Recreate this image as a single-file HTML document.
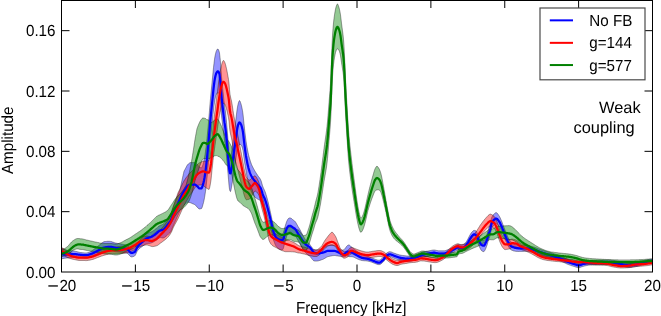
<!DOCTYPE html>
<html><head><meta charset="utf-8"><title>Amplitude vs Frequency</title>
<style>
html,body{margin:0;padding:0;background:#fff;}
body{width:661px;height:316px;overflow:hidden;}
svg{display:block;font-family:"Liberation Sans",Arial,Helvetica,sans-serif;font-size:15.2px;fill:#000;text-rendering:geometricPrecision;}
</style></head><body>
<svg width="661" height="316" viewBox="0 0 661 316">
<rect x="0" y="0" width="661" height="316" fill="#fff"/>
<defs><clipPath id="ax"><rect x="61.5" y="0.5" width="591.0" height="271.5"/></clipPath></defs>
<g clip-path="url(#ax)">
<polygon points="61.5,247.4 62.0,248.2 62.5,248.7 63.0,248.9 63.5,249.2 64.0,249.4 64.5,249.5 65.0,249.7 65.5,249.8 66.0,249.9 66.5,250.0 67.0,250.2 67.5,250.3 68.0,250.4 68.5,250.5 69.0,250.5 69.5,250.5 70.0,250.6 70.5,250.6 71.0,250.7 71.5,250.7 72.0,250.7 72.5,250.8 73.0,250.8 73.5,250.9 74.0,251.0 74.5,251.0 75.0,251.2 75.5,251.3 76.0,251.4 76.5,251.5 77.0,251.6 77.5,251.8 78.0,251.9 78.5,252.0 79.0,252.2 79.5,252.3 80.0,252.4 80.5,252.5 81.0,252.5 81.5,252.6 82.0,252.6 82.5,252.7 83.0,252.7 83.5,252.8 84.0,252.8 84.5,252.9 85.0,252.9 85.5,252.9 86.0,252.9 86.5,252.9 87.0,252.8 87.5,252.7 88.0,252.6 88.5,252.5 89.0,252.3 89.5,252.2 90.0,252.0 90.5,251.7 91.0,251.3 91.5,251.0 92.0,250.7 92.5,250.4 93.0,250.0 93.5,249.7 94.0,249.3 94.5,248.9 95.0,248.5 95.5,248.1 96.0,247.6 96.5,247.3 97.0,246.9 97.5,246.5 98.0,246.1 98.5,245.7 99.0,245.3 99.5,244.9 100.0,244.5 100.5,244.1 101.0,243.7 101.5,243.3 102.0,242.9 102.5,242.5 103.0,242.2 103.5,241.9 104.0,241.6 104.5,241.6 105.0,241.5 105.5,241.5 106.0,241.4 106.5,241.4 107.0,241.3 107.5,241.3 108.0,241.3 108.5,241.3 109.0,241.3 109.5,241.3 110.0,241.4 110.5,241.4 111.0,241.5 111.5,241.6 112.0,241.8 112.5,242.0 113.0,242.1 113.5,242.3 114.0,242.5 114.5,242.7 115.0,242.8 115.5,243.0 116.0,243.1 116.5,243.2 117.0,243.3 117.5,243.4 118.0,243.5 118.5,243.5 119.0,243.6 119.5,243.7 120.0,243.8 120.5,243.8 121.0,243.9 121.5,244.0 122.0,244.1 122.5,244.2 123.0,244.3 123.5,244.4 124.0,244.5 124.5,244.6 125.0,244.7 125.5,244.8 126.0,244.9 126.5,245.0 127.0,245.1 127.5,245.4 128.0,245.8 128.5,246.4 129.0,247.0 129.5,247.5 130.0,248.1 130.5,248.5 131.0,248.8 131.5,248.9 132.0,248.9 132.5,248.8 133.0,248.7 133.5,248.5 134.0,248.3 134.5,248.1 135.0,247.6 135.5,246.8 136.0,245.8 136.5,244.7 137.0,243.6 137.5,242.8 138.0,242.2 138.5,241.6 139.0,241.0 139.5,240.5 140.0,240.0 140.5,239.5 141.0,239.0 141.5,238.5 142.0,238.0 142.5,237.5 143.0,237.0 143.5,236.4 144.0,235.9 144.5,235.4 145.0,234.9 145.5,234.5 146.0,234.1 146.5,233.8 147.0,233.5 147.5,233.3 148.0,233.1 148.5,232.9 149.0,232.7 149.5,232.5 150.0,232.3 150.5,232.2 151.0,232.0 151.5,231.8 152.0,231.5 152.5,231.2 153.0,230.9 153.5,230.6 154.0,230.2 154.5,229.9 155.0,229.5 155.5,229.1 156.0,228.8 156.5,228.3 157.0,227.9 157.5,227.4 158.0,226.9 158.5,226.5 159.0,226.1 159.5,225.8 160.0,225.6 160.5,225.3 161.0,225.1 161.5,224.9 162.0,224.7 162.5,224.5 163.0,224.2 163.5,223.8 164.0,223.4 164.5,222.8 165.0,222.1 165.5,221.4 166.0,220.8 166.5,220.0 167.0,219.3 167.5,218.5 168.0,217.7 168.5,216.9 169.0,216.2 169.5,215.5 170.0,214.8 170.5,214.0 171.0,212.9 171.5,211.6 172.0,210.2 172.5,208.8 173.0,207.5 173.5,206.2 174.0,205.0 174.5,203.7 175.0,202.5 175.5,201.2 176.0,200.0 176.5,198.7 177.0,197.4 177.5,196.2 178.0,194.9 178.5,193.6 179.0,192.4 179.5,191.1 180.0,189.9 180.5,187.4 181.0,185.0 181.5,182.5 182.0,180.2 182.5,177.9 183.0,175.6 183.5,173.4 184.0,171.2 184.5,170.3 185.0,169.4 185.5,168.4 186.0,167.5 186.5,166.5 187.0,165.6 187.5,164.8 188.0,164.3 188.5,163.8 189.0,163.4 189.5,163.0 190.0,162.7 190.5,162.6 191.0,162.6 191.5,162.6 192.0,162.6 192.5,162.6 193.0,162.6 193.5,162.6 194.0,162.6 194.5,162.6 195.0,162.6 195.5,162.8 196.0,163.2 196.5,163.6 197.0,164.1 197.5,164.7 198.0,165.4 198.5,166.2 199.0,166.9 199.5,167.2 200.0,167.4 200.5,167.6 201.0,167.7 201.5,167.8 202.0,167.2 202.5,165.9 203.0,164.4 203.5,162.6 204.0,160.4 204.5,157.8 205.0,154.8 205.5,151.4 206.0,147.4 206.5,143.0 207.0,138.2 207.5,133.0 208.0,127.7 208.5,122.1 209.0,116.3 209.5,110.2 210.0,104.1 210.5,98.4 211.0,93.0 211.5,88.0 212.0,82.9 212.5,77.9 213.0,72.5 213.5,67.5 214.0,63.2 214.5,59.3 215.0,56.2 215.5,53.9 216.0,51.9 216.5,50.7 217.0,49.7 217.5,49.0 218.0,49.0 218.5,49.8 219.0,51.0 219.5,53.0 220.0,57.3 220.5,62.5 221.0,69.3 221.5,76.2 222.0,81.6 222.5,86.5 223.0,91.3 223.5,96.1 224.0,100.8 224.5,105.0 225.0,108.4 225.5,112.0 226.0,116.5 226.5,121.9 227.0,127.6 227.5,133.5 228.0,139.7 228.5,145.7 229.0,152.0 229.5,156.0 230.0,158.2 230.5,158.1 231.0,155.9 231.5,152.5 232.0,148.9 232.5,145.4 233.0,141.7 233.5,137.7 234.0,133.7 234.5,129.8 235.0,126.0 235.5,122.1 236.0,118.2 236.5,114.1 237.0,110.1 237.5,107.0 238.0,104.4 238.5,102.6 239.0,101.3 239.5,100.5 240.0,101.1 240.5,102.4 241.0,103.9 241.5,105.8 242.0,108.1 242.5,110.7 243.0,114.1 243.5,118.8 244.0,123.8 244.5,128.6 245.0,132.9 245.5,137.1 246.0,141.0 246.5,144.2 247.0,147.1 247.5,149.7 248.0,152.2 248.5,154.5 249.0,156.5 249.5,158.3 250.0,160.0 250.5,161.6 251.0,163.0 251.5,164.4 252.0,165.6 252.5,166.6 253.0,167.6 253.5,168.6 254.0,169.4 254.5,170.3 255.0,171.2 255.5,172.0 256.0,172.8 256.5,173.6 257.0,174.3 257.5,175.1 258.0,175.9 258.5,176.6 259.0,177.2 259.5,177.8 260.0,178.6 260.5,179.4 261.0,180.6 261.5,182.1 262.0,183.9 262.5,185.6 263.0,187.0 263.5,188.2 264.0,189.2 264.5,190.3 265.0,191.5 265.5,192.8 266.0,194.4 266.5,196.1 267.0,197.8 267.5,199.7 268.0,201.5 268.5,203.6 269.0,205.8 269.5,208.0 270.0,210.3 270.5,212.5 271.0,214.8 271.5,217.2 272.0,219.7 272.5,221.9 273.0,224.0 273.5,225.7 274.0,227.1 274.5,228.3 275.0,229.5 275.5,230.5 276.0,231.3 276.5,231.9 277.0,232.3 277.5,232.7 278.0,233.0 278.5,233.3 279.0,233.6 279.5,233.8 280.0,233.9 280.5,233.9 281.0,233.9 281.5,233.9 282.0,233.9 282.5,233.8 283.0,233.5 283.5,232.3 284.0,230.5 284.5,228.6 285.0,226.7 285.5,225.1 286.0,223.5 286.5,221.9 287.0,220.8 287.5,219.8 288.0,219.0 288.5,218.4 289.0,218.1 289.5,217.9 290.0,217.9 290.5,218.0 291.0,218.2 291.5,218.5 292.0,219.0 292.5,219.5 293.0,219.9 293.5,220.2 294.0,220.5 294.5,220.9 295.0,221.4 295.5,222.0 296.0,222.8 296.5,223.7 297.0,224.6 297.5,225.5 298.0,226.4 298.5,227.2 299.0,228.0 299.5,228.8 300.0,229.7 300.5,230.7 301.0,231.7 301.5,232.7 302.0,233.6 302.5,234.6 303.0,235.5 303.5,236.4 304.0,237.3 304.5,238.2 305.0,239.1 305.5,239.8 306.0,240.4 306.5,241.0 307.0,241.6 307.5,242.1 308.0,242.6 308.5,243.0 309.0,243.5 309.5,244.1 310.0,244.7 310.5,245.4 311.0,246.2 311.5,246.8 312.0,247.5 312.5,248.2 313.0,248.8 313.5,249.3 314.0,249.6 314.5,249.7 315.0,249.8 315.5,249.9 316.0,250.0 316.5,250.0 317.0,250.0 317.5,250.0 318.0,249.9 318.5,249.8 319.0,249.6 319.5,249.4 320.0,249.3 320.5,249.1 321.0,248.9 321.5,248.6 322.0,248.4 322.5,248.2 323.0,248.0 323.5,247.7 324.0,247.5 324.5,247.2 325.0,246.8 325.5,246.5 326.0,246.1 326.5,245.8 327.0,245.5 327.5,245.3 328.0,245.2 328.5,245.1 329.0,245.0 329.5,245.0 330.0,244.9 330.5,244.8 331.0,244.7 331.5,244.7 332.0,244.6 332.5,244.8 333.0,244.9 333.5,245.1 334.0,245.2 334.5,245.4 335.0,245.7 335.5,246.0 336.0,246.3 336.5,246.7 337.0,247.0 337.5,247.4 338.0,247.8 338.5,248.1 339.0,248.4 339.5,248.8 340.0,249.2 340.5,249.6 341.0,249.9 341.5,250.0 342.0,250.1 342.5,250.1 343.0,250.1 343.5,249.9 344.0,249.7 344.5,249.2 345.0,248.5 345.5,247.9 346.0,247.2 346.5,246.5 347.0,246.0 347.5,245.5 348.0,245.2 348.5,245.0 349.0,244.8 349.5,245.2 350.0,245.6 350.5,246.0 351.0,246.5 351.5,246.9 352.0,247.4 352.5,247.9 353.0,248.4 353.5,248.7 354.0,249.0 354.5,249.4 355.0,249.8 355.5,250.2 356.0,250.6 356.5,250.9 357.0,251.3 357.5,251.6 358.0,251.9 358.5,252.3 359.0,252.6 359.5,253.0 360.0,253.3 360.5,253.6 361.0,253.8 361.5,254.1 362.0,254.3 362.5,254.5 363.0,254.7 363.5,254.8 364.0,255.0 364.5,255.1 365.0,255.3 365.5,255.4 366.0,255.6 366.5,255.7 367.0,255.9 367.5,256.1 368.0,256.3 368.5,256.5 369.0,256.7 369.5,257.0 370.0,257.2 370.5,257.5 371.0,257.8 371.5,257.9 372.0,258.1 372.5,258.3 373.0,258.4 373.5,258.6 374.0,258.8 374.5,259.0 375.0,259.2 375.5,259.4 376.0,259.6 376.5,259.7 377.0,259.9 377.5,260.0 378.0,260.1 378.5,260.2 379.0,260.2 379.5,260.1 380.0,260.0 380.5,259.7 381.0,259.3 381.5,258.9 382.0,258.5 382.5,258.0 383.0,257.5 383.5,257.1 384.0,256.4 384.5,255.7 385.0,255.0 385.5,254.3 386.0,253.7 386.5,253.3 387.0,252.9 387.5,252.5 388.0,252.2 388.5,252.0 389.0,251.8 389.5,251.7 390.0,251.7 390.5,251.8 391.0,251.9 391.5,252.0 392.0,252.2 392.5,252.4 393.0,252.7 393.5,252.9 394.0,253.1 394.5,253.3 395.0,253.5 395.5,253.6 396.0,253.8 396.5,254.0 397.0,254.1 397.5,254.3 398.0,254.5 398.5,254.6 399.0,254.8 399.5,254.9 400.0,255.0 400.5,255.1 401.0,255.2 401.5,255.3 402.0,255.4 402.5,255.4 403.0,255.5 403.5,255.6 404.0,255.6 404.5,255.7 405.0,255.8 405.5,255.8 406.0,255.9 406.5,255.9 407.0,256.0 407.5,256.0 408.0,256.0 408.5,256.1 409.0,256.1 409.5,256.1 410.0,256.1 410.5,256.0 411.0,255.9 411.5,255.8 412.0,255.7 412.5,255.5 413.0,255.3 413.5,255.2 414.0,255.0 414.5,254.9 415.0,254.7 415.5,254.6 416.0,254.4 416.5,254.2 417.0,254.1 417.5,253.9 418.0,253.7 418.5,253.6 419.0,253.4 419.5,253.2 420.0,253.1 420.5,252.9 421.0,252.7 421.5,252.5 422.0,252.3 422.5,252.1 423.0,252.0 423.5,251.8 424.0,251.7 424.5,251.6 425.0,251.5 425.5,251.4 426.0,251.3 426.5,251.2 427.0,251.1 427.5,251.1 428.0,251.0 428.5,250.9 429.0,250.8 429.5,250.7 430.0,250.7 430.5,250.5 431.0,250.4 431.5,250.3 432.0,250.2 432.5,250.1 433.0,250.1 433.5,250.0 434.0,250.0 434.5,250.0 435.0,250.1 435.5,250.2 436.0,250.3 436.5,250.4 437.0,250.5 437.5,250.6 438.0,250.7 438.5,250.8 439.0,250.8 439.5,250.8 440.0,250.8 440.5,250.8 441.0,250.8 441.5,250.8 442.0,250.8 442.5,250.8 443.0,250.8 443.5,250.8 444.0,250.8 444.5,250.8 445.0,250.7 445.5,250.6 446.0,250.4 446.5,250.2 447.0,250.0 447.5,249.8 448.0,249.6 448.5,249.4 449.0,249.2 449.5,248.9 450.0,248.7 450.5,248.5 451.0,248.2 451.5,248.0 452.0,247.7 452.5,247.4 453.0,247.2 453.5,246.9 454.0,246.6 454.5,246.4 455.0,246.0 455.5,245.7 456.0,245.4 456.5,245.1 457.0,244.8 457.5,244.7 458.0,244.6 458.5,244.6 459.0,244.7 459.5,244.7 460.0,244.8 460.5,244.8 461.0,244.9 461.5,244.9 462.0,244.8 462.5,244.8 463.0,244.6 463.5,244.4 464.0,244.0 464.5,243.6 465.0,243.2 465.5,242.8 466.0,242.2 466.5,241.4 467.0,240.6 467.5,239.7 468.0,238.8 468.5,237.8 469.0,236.8 469.5,235.8 470.0,234.9 470.5,234.1 471.0,233.3 471.5,232.6 472.0,232.0 472.5,231.5 473.0,231.0 473.5,230.6 474.0,230.4 474.5,230.4 475.0,230.6 475.5,230.7 476.0,230.9 476.5,231.6 477.0,232.6 477.5,233.5 478.0,234.4 478.5,235.5 479.0,236.5 479.5,237.3 480.0,238.2 480.5,239.0 481.0,239.7 481.5,240.2 482.0,240.4 482.5,240.5 483.0,240.6 483.5,240.6 484.0,240.6 484.5,240.0 485.0,239.1 485.5,238.1 486.0,237.0 486.5,235.6 487.0,234.2 487.5,232.6 488.0,230.7 488.5,229.0 489.0,227.6 489.5,226.4 490.0,225.1 490.5,222.7 491.0,219.9 491.5,218.1 492.0,216.9 492.5,216.0 493.0,215.2 493.5,214.6 494.0,214.1 494.5,213.6 495.0,213.2 495.5,212.8 496.0,212.6 496.5,212.7 497.0,213.0 497.5,213.6 498.0,214.2 498.5,214.9 499.0,215.7 499.5,216.5 500.0,217.4 500.5,218.5 501.0,219.7 501.5,220.9 502.0,222.1 502.5,223.4 503.0,224.7 503.5,226.1 504.0,227.4 504.5,228.7 505.0,230.1 505.5,231.4 506.0,232.7 506.5,233.9 507.0,235.1 507.5,236.2 508.0,237.3 508.5,238.3 509.0,239.1 509.5,240.0 510.0,240.7 510.5,241.4 511.0,241.9 511.5,242.3 512.0,242.7 512.5,243.0 513.0,243.3 513.5,243.5 514.0,243.8 514.5,244.0 515.0,244.2 515.5,244.3 516.0,244.5 516.5,244.6 517.0,244.8 517.5,244.9 518.0,245.0 518.5,245.1 519.0,245.2 519.5,245.3 520.0,245.4 520.5,245.4 521.0,245.4 521.5,245.4 522.0,245.4 522.5,245.4 523.0,245.4 523.5,245.4 524.0,245.5 524.5,245.5 525.0,245.5 525.5,245.5 526.0,245.5 526.5,245.5 527.0,245.5 527.5,245.6 528.0,245.6 528.5,245.7 529.0,245.8 529.5,245.9 530.0,246.0 530.5,246.2 531.0,246.3 531.5,246.4 532.0,246.5 532.5,246.7 533.0,246.8 533.5,246.9 534.0,247.1 534.5,247.2 535.0,247.4 535.5,247.6 536.0,247.8 536.5,247.9 537.0,248.1 537.5,248.3 538.0,248.5 538.5,248.7 539.0,248.9 539.5,249.1 540.0,249.2 540.5,249.4 541.0,249.6 541.5,249.8 542.0,249.9 542.5,250.1 543.0,250.3 543.5,250.4 544.0,250.6 544.5,250.8 545.0,250.9 545.5,251.1 546.0,251.2 546.5,251.4 547.0,251.6 547.5,251.7 548.0,251.9 548.5,252.0 549.0,252.2 549.5,252.3 550.0,252.5 550.5,252.6 551.0,252.8 551.5,252.9 552.0,253.1 552.5,253.2 553.0,253.4 553.5,253.6 554.0,253.7 554.5,253.9 555.0,254.1 555.5,254.2 556.0,254.4 556.5,254.6 557.0,254.7 557.5,254.9 558.0,255.1 558.5,255.3 559.0,255.5 559.5,255.7 560.0,255.9 560.5,256.1 561.0,256.3 561.5,256.5 562.0,256.7 562.5,256.9 563.0,257.1 563.5,257.4 564.0,257.6 564.5,257.9 565.0,258.1 565.5,258.4 566.0,258.6 566.5,258.8 567.0,259.1 567.5,259.3 568.0,259.5 568.5,259.7 569.0,259.9 569.5,260.1 570.0,260.2 570.5,260.4 571.0,260.6 571.5,260.8 572.0,261.0 572.5,261.1 573.0,261.3 573.5,261.4 574.0,261.6 574.5,261.8 575.0,261.9 575.5,262.1 576.0,262.3 576.5,262.5 577.0,262.6 577.5,262.8 578.0,262.9 578.5,262.9 579.0,262.9 579.5,262.8 580.0,262.7 580.5,262.6 581.0,262.4 581.5,262.2 582.0,262.0 582.5,261.8 583.0,261.6 583.5,261.5 584.0,261.4 584.5,261.3 585.0,261.2 585.5,261.1 586.0,261.0 586.5,260.9 587.0,260.8 587.5,260.7 588.0,260.6 588.5,260.5 589.0,260.4 589.5,260.4 590.0,260.3 590.5,260.3 591.0,260.3 591.5,260.3 592.0,260.3 592.5,260.3 593.0,260.3 593.5,260.3 594.0,260.3 594.5,260.3 595.0,260.3 595.5,260.3 596.0,260.3 596.5,260.2 597.0,260.2 597.5,260.2 598.0,260.2 598.5,260.2 599.0,260.2 599.5,260.2 600.0,260.2 600.5,260.2 601.0,260.1 601.5,260.1 602.0,260.1 602.5,260.1 603.0,260.0 603.5,260.0 604.0,260.0 604.5,260.0 605.0,260.0 605.5,259.9 606.0,259.9 606.5,260.0 607.0,260.0 607.5,260.0 608.0,260.0 608.5,260.0 609.0,260.1 609.5,260.1 610.0,260.1 610.5,260.2 611.0,260.2 611.5,260.3 612.0,260.3 612.5,260.4 613.0,260.4 613.5,260.5 614.0,260.5 614.5,260.6 615.0,260.7 615.5,260.8 616.0,260.8 616.5,260.9 617.0,261.0 617.5,261.1 618.0,261.2 618.5,261.3 619.0,261.4 619.5,261.5 620.0,261.6 620.5,261.7 621.0,261.8 621.5,261.9 622.0,262.0 622.5,262.1 623.0,262.2 623.5,262.3 624.0,262.5 624.5,262.6 625.0,262.7 625.5,262.8 626.0,262.9 626.5,263.0 627.0,263.1 627.5,263.1 628.0,263.1 628.5,263.2 629.0,263.2 629.5,263.2 630.0,263.1 630.5,263.1 631.0,263.1 631.5,263.0 632.0,263.0 632.5,262.9 633.0,262.9 633.5,262.8 634.0,262.7 634.5,262.7 635.0,262.6 635.5,262.5 636.0,262.4 636.5,262.4 637.0,262.3 637.5,262.2 638.0,262.1 638.5,261.9 639.0,261.8 639.5,261.6 640.0,261.5 640.5,261.4 641.0,261.2 641.5,261.1 642.0,260.9 642.5,260.8 643.0,260.6 643.5,260.5 644.0,260.4 644.5,260.3 645.0,260.2 645.5,260.1 646.0,260.0 646.5,259.9 647.0,259.8 647.5,259.7 648.0,259.6 648.5,259.5 649.0,259.4 649.5,259.3 650.0,259.2 650.5,259.1 651.0,259.0 651.5,259.0 652.0,258.9 652.5,258.8 652.5,262.8 652.0,262.9 651.5,263.0 651.0,263.1 650.5,263.1 650.0,263.2 649.5,263.3 649.0,263.4 648.5,263.5 648.0,263.6 647.5,263.7 647.0,263.8 646.5,263.9 646.0,264.0 645.5,264.2 645.0,264.3 644.5,264.4 644.0,264.5 643.5,264.6 643.0,264.7 642.5,264.9 642.0,265.0 641.5,265.2 641.0,265.3 640.5,265.5 640.0,265.6 639.5,265.8 639.0,265.9 638.5,266.1 638.0,266.2 637.5,266.3 637.0,266.4 636.5,266.5 636.0,266.6 635.5,266.7 635.0,266.8 634.5,266.9 634.0,266.9 633.5,267.0 633.0,267.1 632.5,267.1 632.0,267.2 631.5,267.3 631.0,267.3 630.5,267.3 630.0,267.4 629.5,267.4 629.0,267.4 628.5,267.4 628.0,267.4 627.5,267.4 627.0,267.3 626.5,267.3 626.0,267.2 625.5,267.1 625.0,267.0 624.5,266.9 624.0,266.8 623.5,266.7 623.0,266.6 622.5,266.4 622.0,266.3 621.5,266.2 621.0,266.2 620.5,266.1 620.0,266.0 619.5,265.9 619.0,265.8 618.5,265.7 618.0,265.6 617.5,265.5 617.0,265.4 616.5,265.3 616.0,265.2 615.5,265.2 615.0,265.1 614.5,265.0 614.0,265.0 613.5,264.9 613.0,264.9 612.5,264.8 612.0,264.8 611.5,264.7 611.0,264.7 610.5,264.6 610.0,264.6 609.5,264.6 609.0,264.5 608.5,264.5 608.0,264.5 607.5,264.5 607.0,264.5 606.5,264.5 606.0,264.5 605.5,264.5 605.0,264.5 604.5,264.5 604.0,264.5 603.5,264.5 603.0,264.6 602.5,264.6 602.0,264.6 601.5,264.7 601.0,264.7 600.5,264.7 600.0,264.8 599.5,264.8 599.0,264.8 598.5,264.8 598.0,264.8 597.5,264.8 597.0,264.8 596.5,264.9 596.0,264.9 595.5,264.9 595.0,264.9 594.5,264.9 594.0,264.9 593.5,264.9 593.0,264.9 592.5,264.9 592.0,264.9 591.5,265.0 591.0,265.0 590.5,265.0 590.0,265.0 589.5,265.1 589.0,265.1 588.5,265.2 588.0,265.3 587.5,265.4 587.0,265.5 586.5,265.6 586.0,265.7 585.5,265.8 585.0,265.9 584.5,266.0 584.0,266.2 583.5,266.3 583.0,266.4 582.5,266.6 582.0,266.7 581.5,266.9 581.0,267.1 580.5,267.3 580.0,267.5 579.5,267.6 579.0,267.7 578.5,267.7 578.0,267.7 577.5,267.6 577.0,267.5 576.5,267.3 576.0,267.1 575.5,267.0 575.0,266.8 574.5,266.6 574.0,266.5 573.5,266.3 573.0,266.1 572.5,266.0 572.0,265.8 571.5,265.7 571.0,265.5 570.5,265.3 570.0,265.1 569.5,265.0 569.0,264.8 568.5,264.6 568.0,264.4 567.5,264.2 567.0,264.0 566.5,263.8 566.0,263.5 565.5,263.3 565.0,263.1 564.5,262.8 564.0,262.6 563.5,262.3 563.0,262.1 562.5,261.9 562.0,261.7 561.5,261.4 561.0,261.2 560.5,261.1 560.0,260.9 559.5,260.7 559.0,260.5 558.5,260.3 558.0,260.2 557.5,260.0 557.0,259.8 556.5,259.7 556.0,259.5 555.5,259.3 555.0,259.2 554.5,259.0 554.0,258.9 553.5,258.7 553.0,258.6 552.5,258.4 552.0,258.3 551.5,258.1 551.0,258.0 550.5,257.9 550.0,257.7 549.5,257.6 549.0,257.4 548.5,257.3 548.0,257.2 547.5,257.0 547.0,256.9 546.5,256.7 546.0,256.6 545.5,256.4 545.0,256.3 544.5,256.1 544.0,256.0 543.5,255.8 543.0,255.7 542.5,255.5 542.0,255.4 541.5,255.2 541.0,255.1 540.5,254.9 540.0,254.7 539.5,254.6 539.0,254.4 538.5,254.3 538.0,254.1 537.5,253.9 537.0,253.7 536.5,253.5 536.0,253.4 535.5,253.2 535.0,253.0 534.5,252.9 534.0,252.7 533.5,252.6 533.0,252.5 532.5,252.3 532.0,252.2 531.5,252.1 531.0,252.0 530.5,251.9 530.0,251.8 529.5,251.7 529.0,251.6 528.5,251.5 528.0,251.4 527.5,251.4 527.0,251.3 526.5,251.3 526.0,251.3 525.5,251.3 525.0,251.3 524.5,251.3 524.0,251.3 523.5,251.4 523.0,251.4 522.5,251.4 522.0,251.4 521.5,251.4 521.0,251.4 520.5,251.4 520.0,251.4 519.5,251.4 519.0,251.4 518.5,251.5 518.0,251.4 517.5,251.4 517.0,251.4 516.5,251.4 516.0,251.3 515.5,251.3 515.0,251.2 514.5,251.1 514.0,251.0 513.5,250.9 513.0,250.7 512.5,250.5 512.0,250.3 511.5,250.1 511.0,249.8 510.5,249.4 510.0,248.8 509.5,248.1 509.0,247.4 508.5,246.7 508.0,245.8 507.5,244.8 507.0,243.8 506.5,242.7 506.0,241.6 505.5,240.5 505.0,239.2 504.5,238.0 504.0,236.7 503.5,235.5 503.0,234.2 502.5,233.0 502.0,231.8 501.5,230.7 501.0,229.6 500.5,228.6 500.0,227.6 499.5,226.8 499.0,226.1 498.5,225.4 498.0,224.8 497.5,224.2 497.0,223.8 496.5,223.6 496.0,223.6 495.5,223.8 495.0,224.2 494.5,224.6 494.0,225.1 493.5,225.6 493.0,226.2 492.5,227.0 492.0,227.9 491.5,229.1 491.0,230.9 490.5,233.7 490.0,236.1 489.5,237.4 489.0,238.6 488.5,240.0 488.0,241.7 487.5,243.6 487.0,245.2 486.5,246.6 486.0,248.0 485.5,249.1 485.0,250.1 484.5,251.0 484.0,251.6 483.5,251.6 483.0,251.6 482.5,251.3 482.0,251.0 481.5,250.6 481.0,249.9 480.5,249.0 480.0,248.0 479.5,247.0 479.0,246.0 478.5,244.8 478.0,243.6 477.5,242.4 477.0,241.3 476.5,240.2 476.0,239.3 475.5,238.9 475.0,238.6 474.5,238.4 474.0,238.4 473.5,238.6 473.0,239.0 472.5,239.5 472.0,240.0 471.5,240.6 471.0,241.3 470.5,242.1 470.0,242.9 469.5,243.6 469.0,244.5 468.5,245.4 468.0,246.2 467.5,247.0 467.0,247.8 466.5,248.5 466.0,249.2 465.5,249.6 465.0,249.9 464.5,250.2 464.0,250.5 463.5,250.7 463.0,250.8 462.5,250.8 462.0,250.8 461.5,250.6 461.0,250.5 460.5,250.4 460.0,250.2 459.5,250.1 459.0,250.1 458.5,250.0 458.0,250.0 457.5,250.1 457.0,250.2 456.5,250.5 456.0,250.8 455.5,251.1 455.0,251.4 454.5,251.8 454.0,252.0 453.5,252.3 453.0,252.6 452.5,252.8 452.0,253.1 451.5,253.4 451.0,253.6 450.5,253.9 450.0,254.1 449.5,254.3 449.0,254.6 448.5,254.8 448.0,255.0 447.5,255.2 447.0,255.4 446.5,255.6 446.0,255.8 445.5,256.0 445.0,256.1 444.5,256.2 444.0,256.2 443.5,256.2 443.0,256.2 442.5,256.2 442.0,256.2 441.5,256.2 441.0,256.2 440.5,256.2 440.0,256.2 439.5,256.2 439.0,256.2 438.5,256.2 438.0,256.1 437.5,256.0 437.0,255.9 436.5,255.8 436.0,255.7 435.5,255.6 435.0,255.5 434.5,255.4 434.0,255.4 433.5,255.4 433.0,255.5 432.5,255.5 432.0,255.6 431.5,255.7 431.0,255.8 430.5,255.9 430.0,256.1 429.5,256.1 429.0,256.2 428.5,256.3 428.0,256.4 427.5,256.5 427.0,256.5 426.5,256.6 426.0,256.7 425.5,256.8 425.0,256.9 424.5,257.0 424.0,257.1 423.5,257.2 423.0,257.4 422.5,257.5 422.0,257.7 421.5,257.9 421.0,258.1 420.5,258.3 420.0,258.5 419.5,258.6 419.0,258.8 418.5,259.0 418.0,259.1 417.5,259.3 417.0,259.5 416.5,259.6 416.0,259.8 415.5,260.0 415.0,260.1 414.5,260.3 414.0,260.4 413.5,260.6 413.0,260.7 412.5,260.9 412.0,261.1 411.5,261.2 411.0,261.3 410.5,261.4 410.0,261.5 409.5,261.5 409.0,261.5 408.5,261.5 408.0,261.4 407.5,261.4 407.0,261.4 406.5,261.3 406.0,261.3 405.5,261.2 405.0,261.2 404.5,261.1 404.0,261.0 403.5,261.0 403.0,260.9 402.5,260.8 402.0,260.8 401.5,260.7 401.0,260.6 400.5,260.5 400.0,260.4 399.5,260.3 399.0,260.1 398.5,260.0 398.0,259.8 397.5,259.6 397.0,259.4 396.5,259.2 396.0,259.0 395.5,258.8 395.0,258.6 394.5,258.4 394.0,258.2 393.5,258.0 393.0,257.8 392.5,257.5 392.0,257.3 391.5,257.1 391.0,256.9 390.5,256.7 390.0,256.7 389.5,256.6 389.0,256.7 388.5,256.9 388.0,257.1 387.5,257.4 387.0,257.7 386.5,258.0 386.0,258.5 385.5,259.0 385.0,259.7 384.5,260.4 384.0,261.1 383.5,261.7 383.0,262.2 382.5,262.6 382.0,263.1 381.5,263.5 381.0,263.9 380.5,264.2 380.0,264.5 379.5,264.6 379.0,264.7 378.5,264.6 378.0,264.6 377.5,264.4 377.0,264.3 376.5,264.1 376.0,263.9 375.5,263.7 375.0,263.5 374.5,263.3 374.0,263.1 373.5,262.9 373.0,262.7 372.5,262.5 372.0,262.3 371.5,262.1 371.0,262.0 370.5,261.8 370.0,261.6 369.5,261.5 369.0,261.4 368.5,261.3 368.0,261.1 367.5,261.1 367.0,261.0 366.5,260.9 366.0,260.9 365.5,260.8 365.0,260.8 364.5,260.8 364.0,260.7 363.5,260.7 363.0,260.6 362.5,260.6 362.0,260.5 361.5,260.4 361.0,260.3 360.5,260.1 360.0,260.0 359.5,259.8 359.0,259.6 358.5,259.4 358.0,259.2 357.5,259.0 357.0,258.7 356.5,258.5 356.0,258.3 355.5,258.1 355.0,257.8 354.5,257.5 354.0,257.3 353.5,257.1 353.0,256.9 352.5,256.8 352.0,256.8 351.5,256.7 351.0,256.7 350.5,256.7 350.0,256.7 349.5,256.7 349.0,256.8 348.5,256.5 348.0,256.2 347.5,256.0 347.0,256.0 346.5,256.0 346.0,256.2 345.5,256.4 345.0,256.5 344.5,256.7 344.0,256.7 343.5,256.9 343.0,256.9 342.5,256.9 342.0,256.8 341.5,256.7 341.0,256.5 340.5,256.4 340.0,256.3 339.5,256.2 339.0,256.2 338.5,256.1 338.0,256.0 337.5,255.9 337.0,255.9 336.5,255.8 336.0,255.7 335.5,255.6 335.0,255.5 334.5,255.5 334.0,255.5 333.5,255.6 333.0,255.7 332.5,255.7 332.0,255.8 331.5,255.9 331.0,256.0 330.5,256.1 330.0,256.2 329.5,256.3 329.0,256.4 328.5,256.5 328.0,256.6 327.5,256.8 327.0,257.0 326.5,257.3 326.0,257.6 325.5,257.9 325.0,258.2 324.5,258.5 324.0,258.8 323.5,259.1 323.0,259.3 322.5,259.5 322.0,259.6 321.5,259.8 321.0,260.0 320.5,260.2 320.0,260.4 319.5,260.5 319.0,260.7 318.5,260.8 318.0,260.9 317.5,261.0 317.0,261.1 316.5,261.1 316.0,261.1 315.5,261.1 315.0,261.0 314.5,261.0 314.0,260.9 313.5,260.6 313.0,260.2 312.5,259.6 312.0,259.0 311.5,258.3 311.0,257.7 310.5,257.0 310.0,256.4 309.5,256.0 309.0,255.5 308.5,255.2 308.0,254.8 307.5,254.4 307.0,254.1 306.5,253.7 306.0,253.2 305.5,252.7 305.0,252.1 304.5,251.3 304.0,250.5 303.5,249.7 303.0,248.9 302.5,248.1 302.0,247.2 301.5,246.4 301.0,245.5 300.5,244.6 300.0,243.7 299.5,242.8 299.0,242.0 298.5,241.2 298.0,240.4 297.5,239.5 297.0,238.6 296.5,237.7 296.0,236.8 295.5,236.0 295.0,235.4 294.5,234.9 294.0,234.5 293.5,234.2 293.0,233.9 292.5,233.5 292.0,233.0 291.5,232.5 291.0,232.2 290.5,232.0 290.0,231.9 289.5,232.1 289.0,232.3 288.5,232.7 288.0,233.5 287.5,234.5 287.0,235.5 286.5,236.8 286.0,238.5 285.5,240.3 285.0,242.0 284.5,243.9 284.0,246.0 283.5,247.9 283.0,249.2 282.5,249.7 282.0,249.9 281.5,249.8 281.0,249.7 280.5,249.6 280.0,249.5 279.5,249.3 279.0,249.0 278.5,248.6 278.0,248.2 277.5,247.8 277.0,247.3 276.5,246.8 276.0,246.1 275.5,245.2 275.0,244.1 274.5,242.8 274.0,241.5 273.5,240.0 273.0,238.2 272.5,236.0 272.0,233.7 271.5,231.5 271.0,229.3 270.5,227.3 270.0,225.3 269.5,223.3 269.0,221.3 268.5,219.4 268.0,217.5 267.5,216.0 267.0,214.5 266.5,213.1 266.0,211.7 265.5,210.5 265.0,209.5 264.5,208.6 264.0,207.9 263.5,207.2 263.0,206.3 262.5,205.2 262.0,203.9 261.5,202.5 261.0,201.4 260.5,200.7 260.0,200.3 259.5,200.0 259.0,199.8 258.5,199.6 258.0,199.3 257.5,199.0 257.0,198.6 256.5,198.3 256.0,197.9 255.5,197.6 255.0,197.2 254.5,196.5 254.0,195.9 253.5,195.2 253.0,194.5 252.5,193.8 252.0,192.9 251.5,191.9 251.0,190.8 250.5,189.6 250.0,188.2 249.5,186.8 249.0,185.2 248.5,183.4 248.0,181.3 247.5,179.1 247.0,176.6 246.5,174.0 246.0,171.0 245.5,168.2 245.0,165.1 244.5,161.8 244.0,158.2 243.5,154.2 243.0,150.7 242.5,148.4 242.0,146.8 241.5,145.6 241.0,144.9 240.5,144.5 240.0,144.2 239.5,144.4 239.0,144.6 238.5,145.3 238.0,146.5 237.5,148.6 237.0,151.1 236.5,154.5 236.0,158.1 235.5,161.4 235.0,164.7 234.5,168.0 234.0,171.3 233.5,174.7 233.0,178.1 232.5,181.3 232.0,184.2 231.5,187.3 231.0,190.0 230.5,191.6 230.0,191.2 229.5,189.3 229.0,185.5 228.5,179.4 228.0,173.7 227.5,167.7 227.0,162.1 226.5,156.7 226.0,151.5 225.5,147.2 225.0,143.9 224.5,140.7 224.0,136.8 223.5,132.8 223.0,128.6 222.5,124.4 222.0,120.2 221.5,115.4 221.0,109.2 220.5,103.0 220.0,98.4 219.5,94.8 219.0,93.4 218.5,92.9 218.0,92.7 217.5,92.9 217.0,93.4 216.5,94.2 216.0,95.3 215.5,97.1 215.0,99.3 214.5,102.2 214.0,105.9 213.5,110.0 213.0,114.8 212.5,120.0 212.0,124.9 211.5,129.7 211.0,134.5 210.5,139.6 210.0,145.1 209.5,151.0 209.0,156.8 208.5,162.4 208.0,167.7 207.5,173.0 207.0,178.2 206.5,183.0 206.0,187.4 205.5,191.4 205.0,194.8 204.5,197.8 204.0,200.4 203.5,202.6 203.0,204.4 202.5,206.2 202.0,207.7 201.5,208.6 201.0,208.7 200.5,208.8 200.0,208.9 199.5,209.0 199.0,208.9 198.5,208.5 198.0,207.9 197.5,207.4 197.0,207.1 196.5,206.4 196.0,205.8 195.5,205.2 195.0,204.8 194.5,204.5 194.0,204.3 193.5,204.1 193.0,203.9 192.5,203.7 192.0,203.5 191.5,203.2 191.0,203.0 190.5,202.8 190.0,202.7 189.5,202.5 189.0,202.4 188.5,202.3 188.0,202.3 187.5,202.3 187.0,202.6 186.5,203.0 186.0,203.5 185.5,203.9 185.0,204.4 184.5,204.8 184.0,205.2 183.5,205.8 183.0,206.4 182.5,207.0 182.0,207.7 181.5,208.4 181.0,209.2 180.5,210.1 180.0,210.9 179.5,212.0 179.0,213.1 178.5,214.2 178.0,215.3 177.5,216.4 177.0,217.5 176.5,218.7 176.0,219.8 175.5,220.9 175.0,222.0 174.5,223.1 174.0,224.2 173.5,225.3 173.0,226.4 172.5,227.5 172.0,228.8 171.5,230.1 171.0,231.2 170.5,232.1 170.0,232.8 169.5,233.2 169.0,233.6 168.5,234.0 168.0,234.5 167.5,235.0 167.0,235.5 166.5,235.9 166.0,236.4 165.5,236.7 165.0,237.1 164.5,237.5 164.0,237.8 163.5,237.9 163.0,238.0 162.5,238.0 162.0,237.9 161.5,237.8 161.0,237.7 160.5,237.6 160.0,237.6 159.5,237.8 159.0,238.0 158.5,238.3 158.0,238.7 157.5,239.1 157.0,239.6 156.5,240.0 156.0,240.4 155.5,240.7 155.0,241.0 154.5,241.3 154.0,241.6 153.5,241.9 153.0,242.2 152.5,242.5 152.0,242.7 151.5,242.9 151.0,243.1 150.5,243.2 150.0,243.3 149.5,243.4 149.0,243.4 148.5,243.4 148.0,243.5 147.5,243.5 147.0,243.6 146.5,243.7 146.0,243.9 145.5,244.2 145.0,244.4 144.5,244.8 144.0,245.1 143.5,245.5 143.0,245.9 142.5,246.2 142.0,246.6 141.5,247.0 141.0,247.3 140.5,247.7 140.0,248.0 139.5,248.5 139.0,249.0 138.5,249.6 138.0,250.2 137.5,250.8 137.0,251.6 136.5,252.7 136.0,253.8 135.5,254.8 135.0,255.6 134.5,256.1 134.0,256.3 133.5,256.5 133.0,256.7 132.5,256.8 132.0,256.9 131.5,256.9 131.0,256.8 130.5,256.5 130.0,256.1 129.5,255.5 129.0,255.0 128.5,254.4 128.0,253.8 127.5,253.4 127.0,253.1 126.5,253.0 126.0,252.9 125.5,252.8 125.0,252.7 124.5,252.7 124.0,252.6 123.5,252.5 123.0,252.4 122.5,252.4 122.0,252.3 121.5,252.3 121.0,252.2 120.5,252.2 120.0,252.1 119.5,252.1 119.0,252.0 118.5,252.0 118.0,252.0 117.5,251.9 117.0,251.9 116.5,251.8 116.0,251.8 115.5,251.7 115.0,251.6 114.5,251.4 114.0,251.3 113.5,251.1 113.0,251.0 112.5,250.8 112.0,250.7 111.5,250.6 111.0,250.5 110.5,250.5 110.0,250.4 109.5,250.4 109.0,250.5 108.5,250.5 108.0,250.5 107.5,250.6 107.0,250.6 106.5,250.7 106.0,250.8 105.5,250.9 105.0,250.9 104.5,251.0 104.0,251.1 103.5,251.2 103.0,251.4 102.5,251.5 102.0,251.8 101.5,252.0 101.0,252.2 100.5,252.5 100.0,252.7 99.5,253.0 99.0,253.3 98.5,253.5 98.0,253.7 97.5,253.9 97.0,254.2 96.5,254.4 96.0,254.6 95.5,254.9 95.0,255.2 94.5,255.4 94.0,255.7 93.5,255.9 93.0,256.2 92.5,256.4 92.0,256.6 91.5,256.7 91.0,256.9 90.5,257.1 90.0,257.3 89.5,257.5 89.0,257.6 88.5,257.8 88.0,257.9 87.5,258.0 87.0,258.1 86.5,258.2 86.0,258.2 85.5,258.2 85.0,258.2 84.5,258.2 84.0,258.1 83.5,258.1 83.0,258.0 82.5,258.0 82.0,257.9 81.5,257.9 81.0,257.8 80.5,257.8 80.0,257.7 79.5,257.7 79.0,257.7 78.5,257.7 78.0,257.7 77.5,257.7 77.0,257.7 76.5,257.7 76.0,257.6 75.5,257.6 75.0,257.7 74.5,257.6 74.0,257.6 73.5,257.6 73.0,257.6 72.5,257.6 72.0,257.7 71.5,257.7 71.0,257.7 70.5,257.8 70.0,257.8 69.5,257.8 69.0,257.9 68.5,257.9 68.0,257.9 67.5,258.0 67.0,258.0 66.5,258.1 66.0,258.1 65.5,258.2 65.0,258.3 64.5,258.3 64.0,258.4 63.5,258.5 63.0,258.6 62.5,258.6 62.0,258.6 61.5,258.0" fill="#0000ff" fill-opacity="0.42" stroke="#000" stroke-opacity="0.4" stroke-width="0.9" stroke-linejoin="round"/>
<polygon points="61.5,247.6 62.0,247.8 62.5,248.1 63.0,248.3 63.5,248.6 64.0,248.9 64.5,249.3 65.0,249.6 65.5,249.9 66.0,250.2 66.5,250.5 67.0,250.8 67.5,251.1 68.0,251.3 68.5,251.6 69.0,251.8 69.5,252.1 70.0,252.3 70.5,252.5 71.0,252.7 71.5,252.9 72.0,253.1 72.5,253.3 73.0,253.5 73.5,253.6 74.0,253.7 74.5,253.9 75.0,254.0 75.5,254.1 76.0,254.2 76.5,254.3 77.0,254.4 77.5,254.5 78.0,254.6 78.5,254.6 79.0,254.7 79.5,254.7 80.0,254.7 80.5,254.7 81.0,254.7 81.5,254.7 82.0,254.7 82.5,254.7 83.0,254.7 83.5,254.7 84.0,254.7 84.5,254.7 85.0,254.7 85.5,254.7 86.0,254.7 86.5,254.7 87.0,254.6 87.5,254.6 88.0,254.5 88.5,254.4 89.0,254.3 89.5,254.2 90.0,254.1 90.5,254.0 91.0,253.9 91.5,253.8 92.0,253.7 92.5,253.5 93.0,253.4 93.5,253.2 94.0,253.0 94.5,252.8 95.0,252.6 95.5,252.4 96.0,252.2 96.5,252.0 97.0,251.8 97.5,251.5 98.0,251.3 98.5,251.1 99.0,250.9 99.5,250.7 100.0,250.5 100.5,250.3 101.0,250.1 101.5,249.9 102.0,249.7 102.5,249.5 103.0,249.3 103.5,249.1 104.0,249.0 104.5,248.8 105.0,248.6 105.5,248.5 106.0,248.3 106.5,248.2 107.0,248.0 107.5,247.9 108.0,247.7 108.5,247.6 109.0,247.5 109.5,247.4 110.0,247.3 110.5,247.3 111.0,247.2 111.5,247.2 112.0,247.1 112.5,247.1 113.0,247.0 113.5,247.0 114.0,246.9 114.5,246.9 115.0,246.9 115.5,246.8 116.0,246.8 116.5,246.8 117.0,246.7 117.5,246.7 118.0,246.6 118.5,246.6 119.0,246.6 119.5,246.5 120.0,246.5 120.5,246.4 121.0,246.4 121.5,246.3 122.0,246.3 122.5,246.2 123.0,246.1 123.5,246.0 124.0,245.9 124.5,245.8 125.0,245.7 125.5,245.5 126.0,245.4 126.5,245.2 127.0,245.1 127.5,244.9 128.0,244.7 128.5,244.6 129.0,244.4 129.5,244.2 130.0,243.9 130.5,243.7 131.0,243.4 131.5,243.2 132.0,242.9 132.5,242.6 133.0,242.3 133.5,242.0 134.0,241.7 134.5,241.4 135.0,241.1 135.5,240.8 136.0,240.4 136.5,240.1 137.0,239.7 137.5,239.3 138.0,238.9 138.5,238.6 139.0,238.3 139.5,238.0 140.0,237.7 140.5,237.5 141.0,237.3 141.5,237.1 142.0,237.0 142.5,236.8 143.0,236.6 143.5,236.5 144.0,236.4 144.5,236.2 145.0,236.1 145.5,236.1 146.0,236.0 146.5,236.0 147.0,236.0 147.5,236.1 148.0,236.2 148.5,236.4 149.0,236.5 149.5,236.7 150.0,236.8 150.5,236.9 151.0,236.9 151.5,236.8 152.0,236.7 152.5,236.6 153.0,236.4 153.5,236.1 154.0,235.8 154.5,235.5 155.0,235.2 155.5,234.9 156.0,234.6 156.5,234.2 157.0,233.8 157.5,233.4 158.0,232.8 158.5,232.3 159.0,231.7 159.5,231.1 160.0,230.5 160.5,229.8 161.0,229.2 161.5,228.6 162.0,228.0 162.5,227.4 163.0,226.8 163.5,226.2 164.0,225.6 164.5,224.9 165.0,224.3 165.5,223.6 166.0,223.0 166.5,222.3 167.0,221.6 167.5,220.9 168.0,220.1 168.5,219.3 169.0,218.4 169.5,217.5 170.0,216.5 170.5,215.2 171.0,213.8 171.5,212.4 172.0,210.8 172.5,209.1 173.0,207.3 173.5,205.7 174.0,204.2 174.5,202.7 175.0,201.3 175.5,199.9 176.0,198.5 176.5,197.1 177.0,195.7 177.5,194.2 178.0,192.8 178.5,191.8 179.0,190.8 179.5,189.8 180.0,188.9 180.5,187.9 181.0,186.9 181.5,185.8 182.0,184.8 182.5,183.7 183.0,182.7 183.5,181.8 184.0,180.9 184.5,180.1 185.0,179.4 185.5,178.6 186.0,177.8 186.5,177.2 187.0,176.6 187.5,176.0 188.0,175.3 188.5,174.5 189.0,173.8 189.5,173.3 190.0,172.8 190.5,172.4 191.0,172.0 191.5,171.6 192.0,171.1 192.5,170.5 193.0,169.9 193.5,169.3 194.0,168.7 194.5,168.1 195.0,167.6 195.5,166.8 196.0,166.0 196.5,165.3 197.0,164.7 197.5,164.2 198.0,163.8 198.5,163.4 199.0,163.1 199.5,162.8 200.0,162.5 200.5,162.3 201.0,162.0 201.5,161.8 202.0,161.6 202.5,161.4 203.0,161.3 203.5,161.2 204.0,161.1 204.5,161.2 205.0,161.3 205.5,161.3 206.0,161.3 206.5,161.2 207.0,161.1 207.5,160.9 208.0,160.8 208.5,160.7 209.0,160.5 209.5,158.8 210.0,156.1 210.5,152.7 211.0,149.0 211.5,143.8 212.0,137.9 212.5,132.9 213.0,127.9 213.5,123.0 214.0,118.6 214.5,114.5 215.0,110.6 215.5,106.5 216.0,102.5 216.5,98.7 217.0,95.1 217.5,91.4 218.0,87.1 218.5,82.9 219.0,79.3 219.5,76.1 220.0,73.1 220.5,70.2 221.0,67.5 221.5,65.3 222.0,63.2 222.5,61.8 223.0,60.9 223.5,60.3 224.0,60.9 224.5,61.8 225.0,62.9 225.5,64.5 226.0,66.5 226.5,68.7 227.0,71.1 227.5,73.8 228.0,76.5 228.5,79.4 229.0,83.2 229.5,89.7 230.0,94.3 230.5,96.9 231.0,99.0 231.5,101.1 232.0,103.8 232.5,107.0 233.0,110.4 233.5,113.6 234.0,116.5 234.5,119.2 235.0,121.8 235.5,124.1 236.0,126.2 236.5,128.4 237.0,130.7 237.5,133.3 238.0,136.1 238.5,138.7 239.0,141.3 239.5,143.8 240.0,146.3 240.5,148.9 241.0,151.5 241.5,154.1 242.0,156.8 242.5,159.5 243.0,162.3 243.5,165.2 244.0,168.0 244.5,170.4 245.0,172.6 245.5,174.6 246.0,176.2 246.5,177.3 247.0,178.0 247.5,178.7 248.0,179.4 248.5,179.8 249.0,180.0 249.5,180.1 250.0,180.0 250.5,179.6 251.0,179.0 251.5,178.5 252.0,178.0 252.5,177.6 253.0,177.1 253.5,176.6 254.0,176.1 254.5,175.9 255.0,175.8 255.5,176.2 256.0,176.8 256.5,177.6 257.0,178.4 257.5,179.3 258.0,180.3 258.5,181.5 259.0,182.9 259.5,184.5 260.0,186.9 260.5,189.5 261.0,192.2 261.5,194.4 262.0,196.2 262.5,197.8 263.0,199.4 263.5,201.0 264.0,202.7 264.5,204.7 265.0,206.8 265.5,209.1 266.0,211.5 266.5,213.9 267.0,216.4 267.5,219.0 268.0,221.9 268.5,224.6 269.0,226.5 269.5,227.7 270.0,228.7 270.5,229.6 271.0,230.4 271.5,231.0 272.0,231.5 272.5,231.9 273.0,232.3 273.5,232.7 274.0,233.0 274.5,233.3 275.0,233.6 275.5,233.8 276.0,234.1 276.5,234.4 277.0,234.7 277.5,235.0 278.0,235.3 278.5,235.6 279.0,235.9 279.5,236.1 280.0,236.4 280.5,236.7 281.0,236.9 281.5,237.2 282.0,237.4 282.5,237.6 283.0,237.9 283.5,238.1 284.0,238.3 284.5,238.5 285.0,238.6 285.5,238.9 286.0,239.1 286.5,239.3 287.0,239.5 287.5,239.7 288.0,239.9 288.5,240.1 289.0,240.3 289.5,240.5 290.0,240.7 290.5,240.9 291.0,241.1 291.5,241.4 292.0,241.6 292.5,241.8 293.0,242.0 293.5,242.3 294.0,242.5 294.5,242.8 295.0,243.1 295.5,243.4 296.0,243.8 296.5,244.1 297.0,244.4 297.5,244.8 298.0,245.1 298.5,245.4 299.0,245.6 299.5,245.9 300.0,246.1 300.5,246.2 301.0,246.4 301.5,246.5 302.0,246.6 302.5,246.8 303.0,246.9 303.5,247.0 304.0,247.1 304.5,247.2 305.0,247.4 305.5,247.5 306.0,247.7 306.5,247.8 307.0,248.0 307.5,248.2 308.0,248.4 308.5,248.5 309.0,248.7 309.5,248.8 310.0,249.0 310.5,249.1 311.0,249.2 311.5,249.3 312.0,249.4 312.5,249.5 313.0,249.6 313.5,249.7 314.0,249.7 314.5,249.8 315.0,249.9 315.5,249.9 316.0,249.9 316.5,249.8 317.0,249.7 317.5,249.5 318.0,249.2 318.5,248.8 319.0,248.4 319.5,248.0 320.0,247.6 320.5,247.2 321.0,246.7 321.5,246.2 322.0,245.5 322.5,244.6 323.0,243.7 323.5,242.7 324.0,241.9 324.5,241.0 325.0,240.3 325.5,239.6 326.0,238.9 326.5,238.2 327.0,237.6 327.5,236.9 328.0,236.2 328.5,235.6 329.0,235.0 329.5,234.4 330.0,233.8 330.5,233.3 331.0,232.8 331.5,232.3 332.0,231.9 332.5,232.3 333.0,232.9 333.5,233.5 334.0,234.1 334.5,234.8 335.0,235.6 335.5,236.3 336.0,237.3 336.5,238.5 337.0,239.9 337.5,241.3 338.0,242.7 338.5,243.9 339.0,245.2 339.5,246.5 340.0,247.7 340.5,248.5 341.0,249.1 341.5,249.7 342.0,250.2 342.5,250.7 343.0,251.1 343.5,251.5 344.0,251.7 344.5,251.7 345.0,251.7 345.5,251.5 346.0,251.3 346.5,251.1 347.0,250.9 347.5,250.6 348.0,250.2 348.5,249.7 349.0,249.1 349.5,248.6 350.0,248.1 350.5,247.7 351.0,247.5 351.5,247.4 352.0,247.5 352.5,247.6 353.0,247.7 353.5,247.9 354.0,248.1 354.5,248.4 355.0,248.6 355.5,248.8 356.0,249.0 356.5,249.2 357.0,249.4 357.5,249.6 358.0,249.8 358.5,249.9 359.0,250.1 359.5,250.3 360.0,250.5 360.5,250.6 361.0,250.8 361.5,250.9 362.0,251.1 362.5,251.2 363.0,251.3 363.5,251.4 364.0,251.5 364.5,251.7 365.0,251.8 365.5,251.9 366.0,251.9 366.5,252.0 367.0,252.0 367.5,252.0 368.0,252.0 368.5,252.0 369.0,251.9 369.5,251.8 370.0,251.7 370.5,251.7 371.0,251.6 371.5,251.5 372.0,251.4 372.5,251.3 373.0,251.3 373.5,251.2 374.0,251.1 374.5,251.0 375.0,251.0 375.5,250.9 376.0,250.8 376.5,250.7 377.0,250.7 377.5,250.6 378.0,250.5 378.5,250.5 379.0,250.5 379.5,250.5 380.0,250.5 380.5,250.6 381.0,250.7 381.5,250.8 382.0,251.0 382.5,251.3 383.0,251.5 383.5,251.8 384.0,252.0 384.5,252.3 385.0,252.7 385.5,253.1 386.0,253.6 386.5,254.1 387.0,254.6 387.5,255.0 388.0,255.5 388.5,255.9 389.0,256.3 389.5,256.7 390.0,257.1 390.5,257.5 391.0,257.8 391.5,258.2 392.0,258.5 392.5,258.8 393.0,259.0 393.5,259.3 394.0,259.5 394.5,259.7 395.0,259.9 395.5,260.1 396.0,260.3 396.5,260.4 397.0,260.4 397.5,260.4 398.0,260.3 398.5,260.2 399.0,260.0 399.5,259.8 400.0,259.6 400.5,259.4 401.0,259.3 401.5,259.2 402.0,259.1 402.5,259.0 403.0,258.9 403.5,258.8 404.0,258.7 404.5,258.7 405.0,258.6 405.5,258.5 406.0,258.4 406.5,258.4 407.0,258.3 407.5,258.2 408.0,258.1 408.5,258.0 409.0,257.9 409.5,257.8 410.0,257.7 410.5,257.7 411.0,257.6 411.5,257.6 412.0,257.5 412.5,257.5 413.0,257.4 413.5,257.4 414.0,257.4 414.5,257.4 415.0,257.3 415.5,257.3 416.0,257.2 416.5,257.1 417.0,257.0 417.5,256.9 418.0,256.7 418.5,256.5 419.0,256.3 419.5,256.2 420.0,256.0 420.5,255.9 421.0,255.9 421.5,255.9 422.0,255.9 422.5,256.0 423.0,256.0 423.5,256.0 424.0,256.1 424.5,256.1 425.0,256.2 425.5,256.3 426.0,256.3 426.5,256.4 427.0,256.5 427.5,256.6 428.0,256.7 428.5,256.8 429.0,256.9 429.5,257.0 430.0,257.1 430.5,257.1 431.0,257.2 431.5,257.3 432.0,257.3 432.5,257.4 433.0,257.4 433.5,257.5 434.0,257.5 434.5,257.6 435.0,257.6 435.5,257.6 436.0,257.6 436.5,257.5 437.0,257.4 437.5,257.3 438.0,257.1 438.5,256.9 439.0,256.7 439.5,256.5 440.0,256.2 440.5,256.0 441.0,255.8 441.5,255.5 442.0,255.2 442.5,254.9 443.0,254.6 443.5,254.3 444.0,253.9 444.5,253.5 445.0,253.1 445.5,252.8 446.0,252.4 446.5,251.9 447.0,251.4 447.5,250.9 448.0,250.3 448.5,249.8 449.0,249.2 449.5,248.7 450.0,248.2 450.5,247.8 451.0,247.4 451.5,247.0 452.0,246.6 452.5,246.2 453.0,245.8 453.5,245.5 454.0,245.2 454.5,244.9 455.0,244.6 455.5,244.4 456.0,244.2 456.5,244.0 457.0,243.9 457.5,243.7 458.0,243.7 458.5,243.8 459.0,244.0 459.5,244.2 460.0,244.5 460.5,244.6 461.0,244.6 461.5,244.6 462.0,244.5 462.5,244.4 463.0,244.3 463.5,244.3 464.0,244.2 464.5,244.1 465.0,244.0 465.5,243.7 466.0,243.4 466.5,243.0 467.0,242.6 467.5,242.2 468.0,241.8 468.5,241.4 469.0,240.9 469.5,240.4 470.0,239.8 470.5,239.2 471.0,238.6 471.5,238.0 472.0,237.4 472.5,236.7 473.0,236.1 473.5,235.4 474.0,234.7 474.5,234.0 475.0,233.3 475.5,232.6 476.0,231.9 476.5,231.1 477.0,230.4 477.5,229.6 478.0,228.8 478.5,228.0 479.0,227.2 479.5,226.4 480.0,225.5 480.5,224.8 481.0,224.2 481.5,223.5 482.0,222.8 482.5,222.1 483.0,221.4 483.5,220.8 484.0,220.2 484.5,219.5 485.0,218.9 485.5,218.4 486.0,217.8 486.5,217.2 487.0,216.7 487.5,216.2 488.0,215.6 488.5,215.2 489.0,214.8 489.5,214.4 490.0,214.1 490.5,214.1 491.0,214.2 491.5,214.5 492.0,214.8 492.5,215.1 493.0,215.5 493.5,215.9 494.0,216.3 494.5,216.8 495.0,217.5 495.5,218.4 496.0,219.5 496.5,220.6 497.0,221.8 497.5,223.1 498.0,224.5 498.5,226.0 499.0,227.4 499.5,228.8 500.0,230.2 500.5,231.5 501.0,232.7 501.5,233.9 502.0,235.0 502.5,235.9 503.0,236.7 503.5,237.5 504.0,238.2 504.5,238.8 505.0,239.1 505.5,239.2 506.0,239.3 506.5,239.4 507.0,239.5 507.5,239.5 508.0,239.6 508.5,239.7 509.0,239.7 509.5,239.7 510.0,239.6 510.5,239.4 511.0,239.3 511.5,239.1 512.0,239.0 512.5,239.1 513.0,239.2 513.5,239.3 514.0,239.4 514.5,239.5 515.0,239.6 515.5,239.8 516.0,239.9 516.5,240.1 517.0,240.4 517.5,240.8 518.0,241.2 518.5,241.7 519.0,242.1 519.5,242.6 520.0,243.0 520.5,243.3 521.0,243.5 521.5,243.7 522.0,243.9 522.5,244.1 523.0,244.3 523.5,244.5 524.0,244.7 524.5,244.9 525.0,245.1 525.5,245.3 526.0,245.5 526.5,245.7 527.0,246.0 527.5,246.2 528.0,246.5 528.5,246.8 529.0,247.0 529.5,247.3 530.0,247.6 530.5,247.8 531.0,248.1 531.5,248.4 532.0,248.7 532.5,249.0 533.0,249.3 533.5,249.6 534.0,249.9 534.5,250.2 535.0,250.6 535.5,250.9 536.0,251.2 536.5,251.5 537.0,251.9 537.5,252.2 538.0,252.5 538.5,252.7 539.0,253.0 539.5,253.2 540.0,253.4 540.5,253.7 541.0,253.9 541.5,254.1 542.0,254.3 542.5,254.5 543.0,254.7 543.5,254.9 544.0,255.0 544.5,255.2 545.0,255.3 545.5,255.4 546.0,255.5 546.5,255.6 547.0,255.7 547.5,255.8 548.0,255.9 548.5,256.0 549.0,256.1 549.5,256.2 550.0,256.3 550.5,256.4 551.0,256.5 551.5,256.5 552.0,256.6 552.5,256.7 553.0,256.8 553.5,256.9 554.0,256.9 554.5,257.0 555.0,257.1 555.5,257.1 556.0,257.2 556.5,257.3 557.0,257.4 557.5,257.4 558.0,257.5 558.5,257.6 559.0,257.6 559.5,257.7 560.0,257.8 560.5,257.9 561.0,257.9 561.5,258.0 562.0,258.1 562.5,258.1 563.0,258.2 563.5,258.3 564.0,258.3 564.5,258.4 565.0,258.5 565.5,258.5 566.0,258.6 566.5,258.7 567.0,258.7 567.5,258.8 568.0,258.9 568.5,258.9 569.0,259.0 569.5,259.1 570.0,259.2 570.5,259.2 571.0,259.3 571.5,259.4 572.0,259.5 572.5,259.5 573.0,259.6 573.5,259.7 574.0,259.7 574.5,259.8 575.0,259.8 575.5,259.9 576.0,259.9 576.5,259.9 577.0,259.9 577.5,260.0 578.0,260.0 578.5,260.0 579.0,260.0 579.5,260.0 580.0,260.0 580.5,260.0 581.0,260.1 581.5,260.1 582.0,260.1 582.5,260.1 583.0,260.1 583.5,260.2 584.0,260.2 584.5,260.2 585.0,260.2 585.5,260.3 586.0,260.3 586.5,260.3 587.0,260.4 587.5,260.4 588.0,260.5 588.5,260.5 589.0,260.5 589.5,260.6 590.0,260.6 590.5,260.6 591.0,260.6 591.5,260.7 592.0,260.7 592.5,260.7 593.0,260.8 593.5,260.8 594.0,260.8 594.5,260.8 595.0,260.9 595.5,260.9 596.0,260.9 596.5,260.9 597.0,261.0 597.5,261.0 598.0,261.0 598.5,261.0 599.0,261.0 599.5,261.1 600.0,261.1 600.5,261.1 601.0,261.1 601.5,261.1 602.0,261.2 602.5,261.2 603.0,261.2 603.5,261.2 604.0,261.3 604.5,261.3 605.0,261.3 605.5,261.4 606.0,261.4 606.5,261.5 607.0,261.5 607.5,261.6 608.0,261.7 608.5,261.8 609.0,261.9 609.5,262.1 610.0,262.2 610.5,262.3 611.0,262.5 611.5,262.6 612.0,262.7 612.5,262.8 613.0,262.9 613.5,263.0 614.0,263.1 614.5,263.2 615.0,263.3 615.5,263.3 616.0,263.4 616.5,263.5 617.0,263.6 617.5,263.7 618.0,263.8 618.5,263.8 619.0,263.9 619.5,263.9 620.0,264.0 620.5,264.0 621.0,264.0 621.5,264.0 622.0,264.0 622.5,264.0 623.0,264.0 623.5,264.0 624.0,263.9 624.5,263.9 625.0,263.9 625.5,263.9 626.0,263.9 626.5,263.8 627.0,263.8 627.5,263.8 628.0,263.7 628.5,263.7 629.0,263.7 629.5,263.6 630.0,263.6 630.5,263.5 631.0,263.4 631.5,263.3 632.0,263.2 632.5,263.1 633.0,263.0 633.5,262.9 634.0,262.8 634.5,262.7 635.0,262.6 635.5,262.6 636.0,262.5 636.5,262.5 637.0,262.4 637.5,262.4 638.0,262.4 638.5,262.3 639.0,262.3 639.5,262.3 640.0,262.2 640.5,262.2 641.0,262.2 641.5,262.2 642.0,262.1 642.5,262.1 643.0,262.1 643.5,262.0 644.0,262.0 644.5,261.9 645.0,261.9 645.5,261.8 646.0,261.8 646.5,261.7 647.0,261.6 647.5,261.6 648.0,261.5 648.5,261.4 649.0,261.3 649.5,261.3 650.0,261.2 650.5,261.1 651.0,261.0 651.5,261.0 652.0,260.9 652.5,260.8 652.5,264.8 652.0,264.9 651.5,265.0 651.0,265.0 650.5,265.1 650.0,265.2 649.5,265.3 649.0,265.3 648.5,265.4 648.0,265.5 647.5,265.6 647.0,265.6 646.5,265.7 646.0,265.8 645.5,265.8 645.0,265.9 644.5,265.9 644.0,266.0 643.5,266.0 643.0,266.1 642.5,266.1 642.0,266.1 641.5,266.2 641.0,266.2 640.5,266.2 640.0,266.2 639.5,266.3 639.0,266.3 638.5,266.3 638.0,266.4 637.5,266.4 637.0,266.4 636.5,266.5 636.0,266.5 635.5,266.6 635.0,266.6 634.5,266.7 634.0,266.8 633.5,266.9 633.0,267.0 632.5,267.1 632.0,267.2 631.5,267.3 631.0,267.4 630.5,267.5 630.0,267.6 629.5,267.6 629.0,267.7 628.5,267.7 628.0,267.7 627.5,267.8 627.0,267.8 626.5,267.8 626.0,267.9 625.5,267.9 625.0,267.9 624.5,267.9 624.0,267.9 623.5,268.0 623.0,268.0 622.5,268.0 622.0,268.0 621.5,268.0 621.0,268.0 620.5,268.0 620.0,268.0 619.5,267.9 619.0,267.9 618.5,267.8 618.0,267.8 617.5,267.7 617.0,267.6 616.5,267.5 616.0,267.4 615.5,267.3 615.0,267.3 614.5,267.2 614.0,267.1 613.5,267.0 613.0,266.9 612.5,266.8 612.0,266.7 611.5,266.6 611.0,266.5 610.5,266.3 610.0,266.2 609.5,266.1 609.0,265.9 608.5,265.8 608.0,265.7 607.5,265.6 607.0,265.5 606.5,265.5 606.0,265.4 605.5,265.4 605.0,265.3 604.5,265.3 604.0,265.3 603.5,265.2 603.0,265.2 602.5,265.2 602.0,265.2 601.5,265.1 601.0,265.1 600.5,265.1 600.0,265.1 599.5,265.1 599.0,265.0 598.5,265.0 598.0,265.0 597.5,265.0 597.0,265.0 596.5,264.9 596.0,264.9 595.5,264.9 595.0,264.9 594.5,264.8 594.0,264.8 593.5,264.8 593.0,264.8 592.5,264.7 592.0,264.7 591.5,264.7 591.0,264.6 590.5,264.6 590.0,264.6 589.5,264.6 589.0,264.5 588.5,264.5 588.0,264.5 587.5,264.4 587.0,264.4 586.5,264.3 586.0,264.3 585.5,264.3 585.0,264.2 584.5,264.2 584.0,264.2 583.5,264.2 583.0,264.1 582.5,264.1 582.0,264.1 581.5,264.1 581.0,264.1 580.5,264.0 580.0,264.0 579.5,264.0 579.0,264.0 578.5,264.0 578.0,264.0 577.5,264.0 577.0,263.9 576.5,263.9 576.0,263.9 575.5,263.9 575.0,263.8 574.5,263.8 574.0,263.7 573.5,263.7 573.0,263.6 572.5,263.5 572.0,263.5 571.5,263.4 571.0,263.3 570.5,263.2 570.0,263.2 569.5,263.1 569.0,263.0 568.5,262.9 568.0,262.9 567.5,262.8 567.0,262.7 566.5,262.7 566.0,262.6 565.5,262.5 565.0,262.5 564.5,262.4 564.0,262.3 563.5,262.3 563.0,262.2 562.5,262.1 562.0,262.1 561.5,262.0 561.0,261.9 560.5,261.9 560.0,261.8 559.5,261.7 559.0,261.7 558.5,261.6 558.0,261.6 557.5,261.6 557.0,261.5 556.5,261.5 556.0,261.4 555.5,261.4 555.0,261.3 554.5,261.3 554.0,261.2 553.5,261.2 553.0,261.1 552.5,261.1 552.0,261.0 551.5,261.0 551.0,260.9 550.5,260.8 550.0,260.8 549.5,260.7 549.0,260.7 548.5,260.6 548.0,260.5 547.5,260.5 547.0,260.4 546.5,260.3 546.0,260.2 545.5,260.1 545.0,260.0 544.5,259.9 544.0,259.8 543.5,259.7 543.0,259.6 542.5,259.4 542.0,259.2 541.5,259.0 541.0,258.9 540.5,258.7 540.0,258.4 539.5,258.2 539.0,258.0 538.5,257.8 538.0,257.6 537.5,257.3 537.0,257.0 536.5,256.7 536.0,256.4 535.5,256.1 535.0,255.8 534.5,255.5 534.0,255.2 533.5,254.9 533.0,254.6 532.5,254.4 532.0,254.1 531.5,253.8 531.0,253.6 530.5,253.3 530.0,253.1 529.5,252.8 529.0,252.6 528.5,252.3 528.0,252.1 527.5,251.9 527.0,251.6 526.5,251.4 526.0,251.2 525.5,251.0 525.0,250.8 524.5,250.7 524.0,250.5 523.5,250.3 523.0,250.2 522.5,250.0 522.0,249.8 521.5,249.6 521.0,249.4 520.5,249.2 520.0,249.0 519.5,248.7 519.0,248.4 518.5,248.1 518.0,247.8 517.5,247.5 517.0,247.3 516.5,247.2 516.0,247.1 515.5,247.1 515.0,247.1 514.5,247.1 514.0,247.2 513.5,247.2 513.0,247.3 512.5,247.3 512.0,247.4 511.5,247.7 511.0,248.0 510.5,248.3 510.0,248.6 509.5,248.9 509.0,249.0 508.5,249.1 508.0,249.2 507.5,249.3 507.0,249.3 506.5,249.4 506.0,249.5 505.5,249.6 505.0,249.6 504.5,249.4 504.0,249.0 503.5,248.4 503.0,247.8 502.5,247.2 502.0,246.4 501.5,245.5 501.0,244.4 500.5,243.4 500.0,242.2 499.5,240.8 499.0,239.4 498.5,238.0 498.0,236.5 497.5,235.1 497.0,233.8 496.5,232.6 496.0,231.5 495.5,230.4 495.0,229.5 494.5,228.8 494.0,228.3 493.5,227.9 493.0,227.5 492.5,227.1 492.0,226.8 491.5,226.5 491.0,226.2 490.5,226.1 490.0,226.1 489.5,226.3 489.0,226.7 488.5,227.0 488.0,227.4 487.5,227.9 487.0,228.4 486.5,228.9 486.0,229.4 485.5,229.9 485.0,230.4 484.5,231.0 484.0,231.6 483.5,232.1 483.0,232.7 482.5,233.3 482.0,234.0 481.5,234.6 481.0,235.3 480.5,235.9 480.0,236.5 479.5,237.2 479.0,237.9 478.5,238.6 478.0,239.2 477.5,239.9 477.0,240.5 476.5,241.1 476.0,241.7 475.5,242.3 475.0,242.8 474.5,243.4 474.0,243.9 473.5,244.4 473.0,245.0 472.5,245.5 472.0,246.0 471.5,246.4 471.0,246.9 470.5,247.4 470.0,247.8 469.5,248.2 469.0,248.6 468.5,248.9 468.0,249.2 467.5,249.5 467.0,249.7 466.5,250.0 466.0,250.2 465.5,250.4 465.0,250.5 464.5,250.5 464.0,250.4 463.5,250.3 463.0,250.2 462.5,250.2 462.0,250.1 461.5,250.0 461.0,249.9 460.5,249.7 460.0,249.5 459.5,249.2 459.0,249.0 458.5,248.8 458.0,248.7 457.5,248.7 457.0,248.9 456.5,249.0 456.0,249.2 455.5,249.4 455.0,249.6 454.5,249.9 454.0,250.2 453.5,250.5 453.0,250.8 452.5,251.2 452.0,251.6 451.5,252.0 451.0,252.4 450.5,252.8 450.0,253.2 449.5,253.7 449.0,254.2 448.5,254.8 448.0,255.3 447.5,255.9 447.0,256.4 446.5,256.9 446.0,257.4 445.5,257.8 445.0,258.1 444.5,258.5 444.0,258.9 443.5,259.3 443.0,259.6 442.5,259.9 442.0,260.2 441.5,260.5 441.0,260.8 440.5,261.0 440.0,261.2 439.5,261.5 439.0,261.7 438.5,261.9 438.0,262.1 437.5,262.3 437.0,262.4 436.5,262.5 436.0,262.6 435.5,262.6 435.0,262.6 434.5,262.6 434.0,262.5 433.5,262.5 433.0,262.4 432.5,262.4 432.0,262.3 431.5,262.3 431.0,262.2 430.5,262.1 430.0,262.1 429.5,262.0 429.0,261.9 428.5,261.8 428.0,261.7 427.5,261.6 427.0,261.5 426.5,261.4 426.0,261.3 425.5,261.3 425.0,261.2 424.5,261.1 424.0,261.1 423.5,261.0 423.0,261.0 422.5,261.0 422.0,260.9 421.5,260.9 421.0,260.9 420.5,260.9 420.0,261.0 419.5,261.2 419.0,261.3 418.5,261.5 418.0,261.7 417.5,261.9 417.0,262.0 416.5,262.1 416.0,262.2 415.5,262.3 415.0,262.3 414.5,262.4 414.0,262.4 413.5,262.4 413.0,262.4 412.5,262.5 412.0,262.5 411.5,262.6 411.0,262.6 410.5,262.7 410.0,262.7 409.5,262.8 409.0,262.9 408.5,263.0 408.0,263.1 407.5,263.2 407.0,263.3 406.5,263.4 406.0,263.4 405.5,263.5 405.0,263.6 404.5,263.7 404.0,263.7 403.5,263.8 403.0,263.9 402.5,264.0 402.0,264.1 401.5,264.2 401.0,264.3 400.5,264.4 400.0,264.6 399.5,264.9 399.0,265.1 398.5,265.3 398.0,265.4 397.5,265.5 397.0,265.6 396.5,265.5 396.0,265.5 395.5,265.3 395.0,265.2 394.5,265.0 394.0,264.8 393.5,264.6 393.0,264.4 392.5,264.2 392.0,263.9 391.5,263.6 391.0,263.3 390.5,262.9 390.0,262.6 389.5,262.2 389.0,261.8 388.5,261.4 388.0,261.1 387.5,260.7 387.0,260.2 386.5,259.8 386.0,259.3 385.5,258.8 385.0,258.4 384.5,258.1 384.0,257.8 383.5,257.6 383.0,257.4 382.5,257.1 382.0,256.9 381.5,256.8 381.0,256.6 380.5,256.5 380.0,256.5 379.5,256.5 379.0,256.5 378.5,256.5 378.0,256.6 377.5,256.6 377.0,256.7 376.5,256.8 376.0,256.8 375.5,256.9 375.0,257.0 374.5,257.1 374.0,257.2 373.5,257.3 373.0,257.3 372.5,257.4 372.0,257.5 371.5,257.6 371.0,257.7 370.5,257.8 370.0,257.9 369.5,258.0 369.0,258.1 368.5,258.1 368.0,258.2 367.5,258.2 367.0,258.2 366.5,258.2 366.0,258.1 365.5,258.0 365.0,257.9 364.5,257.8 364.0,257.7 363.5,257.6 363.0,257.5 362.5,257.4 362.0,257.3 361.5,257.2 361.0,257.0 360.5,256.9 360.0,256.7 359.5,256.6 359.0,256.4 358.5,256.2 358.0,256.0 357.5,255.9 357.0,255.7 356.5,255.5 356.0,255.3 355.5,255.1 355.0,254.9 354.5,254.7 354.0,254.5 353.5,254.3 353.0,254.1 352.5,253.9 352.0,253.8 351.5,253.8 351.0,253.9 350.5,254.1 350.0,254.5 349.5,255.0 349.0,255.5 348.5,256.1 348.0,256.6 347.5,257.0 347.0,257.3 346.5,257.5 346.0,257.8 345.5,258.0 345.0,258.1 344.5,258.2 344.0,258.2 343.5,258.0 343.0,257.6 342.5,257.2 342.0,256.7 341.5,256.2 341.0,255.6 340.5,255.0 340.0,254.2 339.5,253.4 339.0,252.6 338.5,251.7 338.0,250.9 337.5,250.0 337.0,249.0 336.5,248.1 336.0,247.3 335.5,246.8 335.0,246.4 334.5,246.1 334.0,245.9 333.5,245.6 333.0,245.5 332.5,245.4 332.0,245.4 331.5,245.4 331.0,245.4 330.5,245.4 330.0,245.5 329.5,245.6 329.0,245.8 328.5,245.9 328.0,246.1 327.5,246.3 327.0,246.6 326.5,247.0 326.0,247.4 325.5,247.9 325.0,248.3 324.5,248.8 324.0,249.4 323.5,250.0 323.0,250.7 322.5,251.4 322.0,252.0 321.5,252.7 321.0,253.3 320.5,253.8 320.0,254.2 319.5,254.6 319.0,255.0 318.5,255.4 318.0,255.8 317.5,256.1 317.0,256.3 316.5,256.5 316.0,256.5 315.5,256.5 315.0,256.5 314.5,256.5 314.0,256.4 313.5,256.4 313.0,256.3 312.5,256.2 312.0,256.1 311.5,256.0 311.0,255.9 310.5,255.8 310.0,255.7 309.5,255.6 309.0,255.5 308.5,255.3 308.0,255.2 307.5,255.0 307.0,254.9 306.5,254.7 306.0,254.5 305.5,254.4 305.0,254.3 304.5,254.1 304.0,254.0 303.5,253.9 303.0,253.8 302.5,253.7 302.0,253.6 301.5,253.5 301.0,253.4 300.5,253.2 300.0,253.1 299.5,253.1 299.0,253.0 298.5,253.0 298.0,252.9 297.5,252.8 297.0,252.6 296.5,252.5 296.0,252.4 295.5,252.2 295.0,252.1 294.5,252.0 294.0,251.9 293.5,251.9 293.0,251.8 292.5,251.8 292.0,251.8 291.5,251.8 291.0,251.7 290.5,251.7 290.0,251.7 289.5,251.7 289.0,251.7 288.5,251.7 288.0,251.7 287.5,251.7 287.0,251.7 286.5,251.7 286.0,251.7 285.5,251.7 285.0,251.6 284.5,251.5 284.0,251.3 283.5,251.1 283.0,251.0 282.5,250.8 282.0,250.6 281.5,250.4 281.0,250.1 280.5,249.9 280.0,249.7 279.5,249.4 279.0,249.2 278.5,248.9 278.0,248.7 277.5,248.4 277.0,248.1 276.5,247.8 276.0,247.6 275.5,247.3 275.0,247.1 274.5,246.8 274.0,246.6 273.5,246.3 273.0,246.0 272.5,245.6 272.0,245.2 271.5,244.7 271.0,244.1 270.5,243.4 270.0,242.5 269.5,241.5 269.0,240.3 268.5,238.4 268.0,235.8 267.5,232.9 267.0,230.3 266.5,227.9 266.0,225.5 265.5,223.0 265.0,220.5 264.5,218.2 264.0,216.1 263.5,214.2 263.0,212.4 262.5,210.7 262.0,208.9 261.5,206.9 261.0,204.5 260.5,201.7 260.0,198.9 259.5,196.9 259.0,195.6 258.5,194.5 258.0,193.7 257.5,192.9 257.0,192.4 256.5,191.9 256.0,191.5 255.5,191.2 255.0,191.2 254.5,191.5 254.0,192.1 253.5,192.9 253.0,193.7 252.5,194.6 252.0,195.3 251.5,196.2 251.0,197.0 250.5,197.9 250.0,198.6 249.5,199.1 249.0,199.4 248.5,199.4 248.0,199.4 247.5,199.6 247.0,199.7 246.5,199.8 246.0,199.6 245.5,198.8 245.0,197.6 244.5,196.3 244.0,194.7 243.5,192.7 243.0,190.6 242.5,188.6 242.0,186.8 241.5,184.7 241.0,182.7 240.5,180.7 240.0,178.7 239.5,176.7 239.0,174.8 238.5,172.8 238.0,170.7 237.5,168.6 237.0,166.5 236.5,164.8 236.0,163.2 235.5,161.1 235.0,158.8 234.5,156.2 234.0,153.5 233.5,150.6 233.0,147.4 232.5,144.0 232.0,140.8 231.5,138.1 231.0,136.0 230.5,133.9 230.0,131.3 229.5,127.1 229.0,121.1 228.5,117.8 228.0,115.3 227.5,113.1 227.0,110.9 226.5,108.9 226.0,107.2 225.5,105.7 225.0,104.5 224.5,103.9 224.0,103.4 223.5,103.3 223.0,103.4 222.5,103.9 222.0,104.8 221.5,106.3 221.0,108.1 220.5,110.3 220.0,112.7 219.5,115.3 219.0,118.0 218.5,121.1 218.0,124.8 217.5,128.6 217.0,131.9 216.5,135.1 216.0,138.4 215.5,141.9 215.0,145.4 214.5,148.9 214.0,152.5 213.5,156.4 213.0,160.8 212.5,165.4 212.0,169.9 211.5,175.3 211.0,180.0 210.5,183.2 210.0,186.1 209.5,188.3 209.0,189.5 208.5,189.2 208.0,189.0 207.5,188.7 207.0,188.4 206.5,188.1 206.0,187.8 205.5,187.4 205.0,186.9 204.5,186.4 204.0,186.0 203.5,185.6 203.0,185.3 202.5,185.1 202.0,185.1 201.5,185.0 201.0,185.0 200.5,185.0 200.0,185.0 199.5,185.0 199.0,185.1 198.5,185.2 198.0,185.3 197.5,185.4 197.0,185.7 196.5,186.1 196.0,186.5 195.5,187.0 195.0,187.6 194.5,188.3 194.0,189.1 193.5,189.9 193.0,190.8 192.5,191.6 192.0,192.4 191.5,193.1 191.0,193.8 190.5,194.4 190.0,195.1 189.5,195.7 189.0,196.5 188.5,197.4 188.0,198.4 187.5,199.3 187.0,200.1 186.5,201.0 186.0,201.8 185.5,202.7 185.0,203.6 184.5,204.5 184.0,205.4 183.5,206.4 183.0,207.4 182.5,208.6 182.0,209.8 181.5,211.0 181.0,212.1 180.5,213.3 180.0,214.4 179.5,215.5 179.0,216.6 178.5,217.7 178.0,218.8 177.5,219.7 177.0,220.7 176.5,221.6 176.0,222.5 175.5,223.4 175.0,224.3 174.5,225.2 174.0,226.2 173.5,227.2 173.0,228.3 172.5,229.6 172.0,230.8 171.5,231.9 171.0,232.8 170.5,233.7 170.0,234.5 169.5,235.2 169.0,235.9 168.5,236.5 168.0,237.1 167.5,237.6 167.0,238.1 166.5,238.5 166.0,239.0 165.5,239.4 165.0,239.8 164.5,240.2 164.0,240.6 163.5,240.9 163.0,241.3 162.5,241.7 162.0,242.0 161.5,242.4 161.0,242.7 160.5,243.1 160.0,243.5 159.5,243.9 159.0,244.3 158.5,244.7 158.0,245.0 157.5,245.4 157.0,245.6 156.5,245.8 156.0,246.0 155.5,246.1 155.0,246.2 154.5,246.3 154.0,246.4 153.5,246.5 153.0,246.6 152.5,246.6 152.0,246.5 151.5,246.4 151.0,246.3 150.5,246.1 150.0,245.8 149.5,245.7 149.0,245.5 148.5,245.4 148.0,245.2 147.5,245.1 147.0,245.0 146.5,245.0 146.0,245.0 145.5,245.1 145.0,245.1 144.5,245.2 144.0,245.4 143.5,245.5 143.0,245.6 142.5,245.8 142.0,246.0 141.5,246.1 141.0,246.3 140.5,246.5 140.0,246.7 139.5,246.9 139.0,247.2 138.5,247.4 138.0,247.7 137.5,248.1 137.0,248.4 136.5,248.7 136.0,249.0 135.5,249.3 135.0,249.6 134.5,249.9 134.0,250.1 133.5,250.4 133.0,250.6 132.5,250.8 132.0,251.1 131.5,251.3 131.0,251.5 130.5,251.7 130.0,251.9 129.5,252.1 129.0,252.3 128.5,252.4 128.0,252.5 127.5,252.7 127.0,252.8 126.5,252.9 126.0,253.0 125.5,253.1 125.0,253.2 124.5,253.3 124.0,253.3 123.5,253.4 123.0,253.4 122.5,253.5 122.0,253.5 121.5,253.5 121.0,253.5 120.5,253.5 120.0,253.5 119.5,253.5 119.0,253.5 118.5,253.5 118.0,253.6 117.5,253.6 117.0,253.6 116.5,253.6 116.0,253.6 115.5,253.7 115.0,253.7 114.5,253.7 114.0,253.7 113.5,253.7 113.0,253.7 112.5,253.8 112.0,253.8 111.5,253.8 111.0,253.8 110.5,253.9 110.0,253.9 109.5,254.0 109.0,254.1 108.5,254.1 108.0,254.2 107.5,254.4 107.0,254.5 106.5,254.6 106.0,254.7 105.5,254.9 105.0,255.0 104.5,255.2 104.0,255.3 103.5,255.5 103.0,255.6 102.5,255.8 102.0,256.0 101.5,256.1 101.0,256.3 100.5,256.5 100.0,256.7 99.5,256.9 99.0,257.1 98.5,257.3 98.0,257.5 97.5,257.6 97.0,257.8 96.5,258.0 96.0,258.2 95.5,258.4 95.0,258.6 94.5,258.8 94.0,259.0 93.5,259.2 93.0,259.4 92.5,259.5 92.0,259.6 91.5,259.7 91.0,259.8 90.5,260.0 90.0,260.1 89.5,260.2 89.0,260.3 88.5,260.3 88.0,260.4 87.5,260.5 87.0,260.5 86.5,260.6 86.0,260.6 85.5,260.6 85.0,260.6 84.5,260.5 84.0,260.5 83.5,260.5 83.0,260.5 82.5,260.5 82.0,260.5 81.5,260.5 81.0,260.5 80.5,260.5 80.0,260.5 79.5,260.5 79.0,260.4 78.5,260.4 78.0,260.3 77.5,260.2 77.0,260.2 76.5,260.0 76.0,259.9 75.5,259.8 75.0,259.7 74.5,259.6 74.0,259.5 73.5,259.4 73.0,259.3 72.5,259.2 72.0,259.1 71.5,258.9 71.0,258.8 70.5,258.6 70.0,258.4 69.5,258.3 69.0,258.1 68.5,257.9 68.0,257.7 67.5,257.5 67.0,257.3 66.5,257.0 66.0,256.8 65.5,256.5 65.0,256.2 64.5,255.9 64.0,255.7 63.5,255.4 63.0,255.1 62.5,254.9 62.0,254.7 61.5,254.5" fill="#ff0000" fill-opacity="0.42" stroke="#000" stroke-opacity="0.4" stroke-width="0.9" stroke-linejoin="round"/>
<polygon points="61.5,250.2 62.0,249.9 62.5,249.6 63.0,249.4 63.5,249.1 64.0,248.9 64.5,248.6 65.0,248.3 65.5,248.0 66.0,247.7 66.5,247.3 67.0,246.9 67.5,246.5 68.0,246.0 68.5,245.5 69.0,244.9 69.5,244.3 70.0,243.7 70.5,243.0 71.0,242.5 71.5,242.0 72.0,241.6 72.5,241.2 73.0,240.8 73.5,240.3 74.0,240.0 74.5,239.7 75.0,239.4 75.5,239.1 76.0,238.9 76.5,238.7 77.0,238.6 77.5,238.5 78.0,238.5 78.5,238.5 79.0,238.6 79.5,238.6 80.0,238.7 80.5,238.8 81.0,238.8 81.5,238.8 82.0,238.9 82.5,238.9 83.0,239.0 83.5,239.2 84.0,239.3 84.5,239.4 85.0,239.6 85.5,239.7 86.0,239.9 86.5,240.0 87.0,240.1 87.5,240.2 88.0,240.3 88.5,240.4 89.0,240.6 89.5,240.7 90.0,240.8 90.5,240.9 91.0,241.0 91.5,241.1 92.0,241.2 92.5,241.3 93.0,241.5 93.5,241.6 94.0,241.7 94.5,241.8 95.0,241.9 95.5,242.0 96.0,242.1 96.5,242.2 97.0,242.3 97.5,242.4 98.0,242.5 98.5,242.6 99.0,242.7 99.5,242.9 100.0,243.0 100.5,243.1 101.0,243.1 101.5,243.2 102.0,243.3 102.5,243.4 103.0,243.4 103.5,243.4 104.0,243.5 104.5,243.5 105.0,243.5 105.5,243.5 106.0,243.5 106.5,243.5 107.0,243.5 107.5,243.5 108.0,243.5 108.5,243.5 109.0,243.5 109.5,243.5 110.0,243.5 110.5,243.5 111.0,243.5 111.5,243.5 112.0,243.6 112.5,243.7 113.0,243.7 113.5,243.8 114.0,243.8 114.5,243.9 115.0,243.9 115.5,244.0 116.0,244.0 116.5,243.9 117.0,243.9 117.5,243.8 118.0,243.6 118.5,243.5 119.0,243.3 119.5,243.1 120.0,242.9 120.5,242.7 121.0,242.5 121.5,242.3 122.0,242.1 122.5,241.8 123.0,241.5 123.5,241.2 124.0,240.9 124.5,240.6 125.0,240.3 125.5,240.1 126.0,239.8 126.5,239.5 127.0,239.3 127.5,239.1 128.0,238.8 128.5,238.6 129.0,238.3 129.5,238.0 130.0,237.7 130.5,237.4 131.0,237.1 131.5,236.8 132.0,236.5 132.5,236.1 133.0,235.8 133.5,235.4 134.0,235.1 134.5,234.7 135.0,234.4 135.5,234.0 136.0,233.7 136.5,233.4 137.0,233.0 137.5,232.7 138.0,232.4 138.5,232.0 139.0,231.7 139.5,231.4 140.0,231.0 140.5,230.7 141.0,230.3 141.5,230.0 142.0,229.6 142.5,229.2 143.0,228.8 143.5,228.4 144.0,228.0 144.5,227.6 145.0,227.2 145.5,226.8 146.0,226.4 146.5,226.0 147.0,225.5 147.5,225.1 148.0,224.7 148.5,224.2 149.0,223.8 149.5,223.3 150.0,222.9 150.5,222.4 151.0,221.9 151.5,221.4 152.0,220.9 152.5,220.4 153.0,219.9 153.5,219.4 154.0,218.9 154.5,218.4 155.0,217.9 155.5,217.4 156.0,216.9 156.5,216.5 157.0,216.2 157.5,215.9 158.0,215.6 158.5,215.3 159.0,215.1 159.5,214.9 160.0,214.6 160.5,214.4 161.0,214.2 161.5,213.9 162.0,213.7 162.5,213.4 163.0,213.2 163.5,212.9 164.0,212.7 164.5,212.4 165.0,212.1 165.5,211.9 166.0,211.6 166.5,211.2 167.0,210.9 167.5,210.5 168.0,210.0 168.5,209.3 169.0,208.6 169.5,207.8 170.0,206.9 170.5,206.2 171.0,205.4 171.5,204.7 172.0,204.0 172.5,203.2 173.0,202.4 173.5,201.6 174.0,200.8 174.5,200.0 175.0,199.3 175.5,198.7 176.0,198.1 176.5,197.5 177.0,196.9 177.5,196.4 178.0,195.9 178.5,195.4 179.0,194.9 179.5,194.4 180.0,194.0 180.5,193.4 181.0,192.8 181.5,192.2 182.0,191.5 182.5,190.9 183.0,190.2 183.5,189.5 184.0,188.7 184.5,187.9 185.0,187.0 185.5,186.2 186.0,185.3 186.5,183.5 187.0,181.7 187.5,179.9 188.0,178.0 188.5,176.0 189.0,173.9 189.5,171.6 190.0,169.2 190.5,166.7 191.0,164.0 191.5,161.4 192.0,158.5 192.5,155.4 193.0,152.3 193.5,149.2 194.0,145.9 194.5,142.5 195.0,139.3 195.5,136.5 196.0,133.8 196.5,131.2 197.0,128.6 197.5,127.3 198.0,126.0 198.5,124.7 199.0,123.5 199.5,122.4 200.0,121.4 200.5,120.6 201.0,119.9 201.5,119.1 202.0,118.5 202.5,118.1 203.0,118.0 203.5,118.0 204.0,118.1 204.5,118.2 205.0,118.4 205.5,118.5 206.0,118.9 206.5,119.4 207.0,119.8 207.5,119.8 208.0,119.7 208.5,120.2 209.0,120.6 209.5,121.0 210.0,121.3 210.5,121.6 211.0,121.9 211.5,122.3 212.0,122.5 212.5,122.0 213.0,121.4 213.5,120.9 214.0,120.5 214.5,120.1 215.0,119.8 215.5,119.5 216.0,119.3 216.5,119.1 217.0,119.0 217.5,119.0 218.0,119.4 218.5,120.0 219.0,120.9 219.5,121.9 220.0,123.0 220.5,124.0 221.0,125.1 221.5,126.3 222.0,127.5 222.5,128.8 223.0,130.1 223.5,131.4 224.0,132.6 224.5,133.9 225.0,135.1 225.5,136.3 226.0,137.4 226.5,138.3 227.0,139.1 227.5,139.8 228.0,140.4 228.5,141.0 229.0,141.7 229.5,142.6 230.0,143.6 230.5,144.4 231.0,145.4 231.5,146.5 232.0,148.0 232.5,149.7 233.0,151.4 233.5,153.1 234.0,154.9 234.5,157.5 235.0,159.9 235.5,162.1 236.0,164.2 236.5,166.2 237.0,167.8 237.5,168.9 238.0,170.0 238.5,170.5 239.0,171.1 239.5,171.6 240.0,172.3 240.5,173.0 241.0,173.7 241.5,174.5 242.0,175.2 242.5,175.9 243.0,176.5 243.5,177.1 244.0,177.7 244.5,178.2 245.0,178.6 245.5,179.1 246.0,179.5 246.5,180.0 247.0,180.4 247.5,180.8 248.0,181.3 248.5,181.9 249.0,182.6 249.5,183.4 250.0,184.3 250.5,185.2 251.0,186.3 251.5,187.5 252.0,188.9 252.5,190.5 253.0,192.1 253.5,193.8 254.0,195.4 254.5,196.9 255.0,198.5 255.5,200.1 256.0,201.8 256.5,203.5 257.0,205.3 257.5,207.1 258.0,208.9 258.5,210.7 259.0,212.6 259.5,214.5 260.0,216.2 260.5,217.6 261.0,218.7 261.5,219.8 262.0,220.9 262.5,221.6 263.0,222.1 263.5,222.2 264.0,222.1 264.5,222.0 265.0,221.9 265.5,221.7 266.0,221.5 266.5,221.3 267.0,221.2 267.5,221.1 268.0,220.9 268.5,220.8 269.0,220.7 269.5,220.6 270.0,220.6 270.5,220.5 271.0,220.5 271.5,220.6 272.0,220.8 272.5,221.1 273.0,221.4 273.5,221.7 274.0,222.1 274.5,222.4 275.0,222.8 275.5,223.3 276.0,223.8 276.5,224.4 277.0,225.0 277.5,225.6 278.0,226.1 278.5,226.5 279.0,226.8 279.5,227.2 280.0,227.6 280.5,227.9 281.0,228.1 281.5,228.4 282.0,228.5 282.5,228.5 283.0,228.5 283.5,228.4 284.0,228.3 284.5,228.2 285.0,228.0 285.5,227.9 286.0,227.8 286.5,227.6 287.0,227.5 287.5,227.3 288.0,227.2 288.5,227.0 289.0,226.9 289.5,226.9 290.0,226.9 290.5,227.0 291.0,227.2 291.5,227.5 292.0,227.9 292.5,228.2 293.0,228.6 293.5,228.8 294.0,229.0 294.5,229.1 295.0,229.2 295.5,229.3 296.0,229.4 296.5,229.5 297.0,229.6 297.5,229.7 298.0,229.9 298.5,230.0 299.0,230.4 299.5,231.1 300.0,231.9 300.5,232.6 301.0,233.2 301.5,233.8 302.0,234.5 302.5,235.2 303.0,235.6 303.5,235.7 304.0,235.5 304.5,235.4 305.0,235.3 305.5,235.1 306.0,235.0 306.5,234.6 307.0,233.4 307.5,231.9 308.0,230.4 308.5,228.9 309.0,227.4 309.5,225.8 310.0,224.0 310.5,222.0 311.0,219.9 311.5,217.8 312.0,215.9 312.5,214.1 313.0,212.4 313.5,210.6 314.0,208.7 314.5,206.6 315.0,204.5 315.5,202.3 316.0,200.4 316.5,198.6 317.0,196.8 317.5,194.7 318.0,192.2 318.5,189.3 319.0,186.2 319.5,182.9 320.0,179.5 320.5,176.0 321.0,172.4 321.5,168.6 322.0,164.6 322.5,160.5 323.0,156.4 323.5,152.4 324.0,148.5 324.5,144.8 325.0,141.3 325.5,137.9 326.0,134.3 326.5,130.6 327.0,126.4 327.5,121.5 328.0,115.6 328.5,109.1 329.0,102.7 329.5,96.6 330.0,90.4 330.5,83.3 331.0,73.5 331.5,59.6 332.0,45.7 332.5,35.8 333.0,28.4 333.5,22.8 334.0,18.4 334.5,14.9 335.0,11.8 335.5,9.1 336.0,7.1 336.5,5.5 337.0,4.3 337.5,3.9 338.0,4.8 338.5,6.1 339.0,7.6 339.5,9.5 340.0,11.9 340.5,14.9 341.0,18.9 341.5,23.2 342.0,27.1 342.5,30.7 343.0,34.6 343.5,39.3 344.0,45.9 344.5,55.9 345.0,67.6 345.5,78.9 346.0,88.4 346.5,97.2 347.0,105.6 347.5,114.2 348.0,122.9 348.5,130.1 349.0,136.0 349.5,141.2 350.0,146.0 350.5,150.5 351.0,154.9 351.5,159.3 352.0,163.4 352.5,167.4 353.0,171.2 353.5,175.0 354.0,178.7 354.5,182.5 355.0,186.3 355.5,190.0 356.0,193.7 356.5,197.3 357.0,200.7 357.5,203.8 358.0,206.8 358.5,209.6 359.0,212.1 359.5,214.2 360.0,216.3 360.5,217.8 361.0,218.2 361.5,217.7 362.0,216.9 362.5,216.1 363.0,214.8 363.5,213.4 364.0,211.8 364.5,210.0 365.0,208.0 365.5,205.9 366.0,203.6 366.5,201.3 367.0,199.0 367.5,196.7 368.0,194.5 368.5,192.4 369.0,190.3 369.5,188.3 370.0,186.3 370.5,184.4 371.0,182.5 371.5,180.6 372.0,178.8 372.5,177.0 373.0,175.3 373.5,173.6 374.0,171.8 374.5,170.2 375.0,168.9 375.5,167.9 376.0,167.1 376.5,166.4 377.0,166.0 377.5,166.5 378.0,167.1 378.5,167.8 379.0,168.6 379.5,169.6 380.0,170.8 380.5,172.2 381.0,173.9 381.5,176.0 382.0,178.3 382.5,180.9 383.0,183.6 383.5,186.4 384.0,189.2 384.5,191.9 385.0,194.7 385.5,197.6 386.0,200.6 386.5,203.3 387.0,206.0 387.5,208.6 388.0,211.3 388.5,213.9 389.0,216.4 389.5,218.6 390.0,220.5 390.5,222.1 391.0,223.5 391.5,224.8 392.0,226.0 392.5,227.1 393.0,228.1 393.5,229.1 394.0,229.9 394.5,230.7 395.0,231.4 395.5,232.1 396.0,232.8 396.5,233.4 397.0,234.0 397.5,234.6 398.0,235.3 398.5,235.9 399.0,236.5 399.5,237.1 400.0,237.7 400.5,238.2 401.0,238.7 401.5,239.2 402.0,239.7 402.5,240.3 403.0,240.9 403.5,241.5 404.0,242.2 404.5,243.0 405.0,243.7 405.5,244.5 406.0,245.2 406.5,246.0 407.0,246.8 407.5,247.5 408.0,248.3 408.5,249.1 409.0,249.9 409.5,250.7 410.0,251.4 410.5,252.0 411.0,252.5 411.5,252.9 412.0,253.3 412.5,253.6 413.0,253.9 413.5,254.0 414.0,254.0 414.5,253.9 415.0,253.7 415.5,253.5 416.0,253.3 416.5,253.1 417.0,252.9 417.5,252.7 418.0,252.5 418.5,252.3 419.0,252.1 419.5,251.9 420.0,251.7 420.5,251.5 421.0,251.3 421.5,251.1 422.0,251.0 422.5,251.0 423.0,251.0 423.5,251.0 424.0,251.1 424.5,251.2 425.0,251.3 425.5,251.4 426.0,251.5 426.5,251.6 427.0,251.7 427.5,251.8 428.0,251.9 428.5,251.9 429.0,252.0 429.5,252.1 430.0,252.2 430.5,252.3 431.0,252.3 431.5,252.4 432.0,252.5 432.5,252.6 433.0,252.7 433.5,252.8 434.0,252.9 434.5,253.0 435.0,253.2 435.5,253.3 436.0,253.4 436.5,253.4 437.0,253.5 437.5,253.5 438.0,253.5 438.5,253.4 439.0,253.4 439.5,253.3 440.0,253.2 440.5,253.2 441.0,253.1 441.5,253.0 442.0,253.0 442.5,253.0 443.0,253.0 443.5,253.0 444.0,253.0 444.5,253.0 445.0,253.0 445.5,253.0 446.0,253.0 446.5,253.0 447.0,253.0 447.5,253.0 448.0,253.0 448.5,252.9 449.0,252.9 449.5,252.8 450.0,252.7 450.5,252.7 451.0,252.6 451.5,252.5 452.0,252.4 452.5,252.4 453.0,252.3 453.5,252.3 454.0,252.2 454.5,252.2 455.0,252.1 455.5,252.0 456.0,252.0 456.5,251.8 457.0,251.7 457.5,251.0 458.0,249.6 458.5,249.3 459.0,249.0 459.5,248.8 460.0,248.7 460.5,248.5 461.0,248.3 461.5,248.1 462.0,247.8 462.5,247.5 463.0,247.2 463.5,246.8 464.0,246.4 464.5,246.0 465.0,245.6 465.5,245.2 466.0,244.8 466.5,244.4 467.0,244.0 467.5,243.6 468.0,243.2 468.5,242.8 469.0,242.4 469.5,242.0 470.0,241.6 470.5,241.3 471.0,241.0 471.5,240.7 472.0,240.4 472.5,240.1 473.0,239.8 473.5,239.6 474.0,239.3 474.5,239.0 475.0,238.8 475.5,238.5 476.0,238.2 476.5,237.9 477.0,237.6 477.5,237.4 478.0,237.1 478.5,236.8 479.0,236.5 479.5,236.2 480.0,235.8 480.5,235.5 481.0,235.2 481.5,234.8 482.0,234.5 482.5,234.1 483.0,233.7 483.5,233.4 484.0,233.0 484.5,232.7 485.0,232.3 485.5,232.0 486.0,231.6 486.5,231.3 487.0,230.9 487.5,230.6 488.0,230.2 488.5,229.8 489.0,229.5 489.5,229.2 490.0,229.1 490.5,229.0 491.0,229.0 491.5,228.9 492.0,228.9 492.5,228.8 493.0,228.8 493.5,228.6 494.0,228.4 494.5,228.1 495.0,227.7 495.5,227.3 496.0,226.9 496.5,226.6 497.0,226.3 497.5,226.2 498.0,226.1 498.5,226.1 499.0,226.1 499.5,226.2 500.0,226.2 500.5,226.2 501.0,226.1 501.5,226.1 502.0,226.0 502.5,226.0 503.0,226.0 503.5,225.9 504.0,225.9 504.5,225.8 505.0,225.8 505.5,225.8 506.0,225.7 506.5,225.7 507.0,225.7 507.5,225.7 508.0,225.7 508.5,225.6 509.0,225.6 509.5,225.7 510.0,225.7 510.5,225.9 511.0,226.1 511.5,226.4 512.0,226.7 512.5,227.1 513.0,227.5 513.5,227.9 514.0,228.3 514.5,228.8 515.0,229.2 515.5,229.7 516.0,230.2 516.5,230.7 517.0,231.2 517.5,231.7 518.0,232.2 518.5,232.8 519.0,233.4 519.5,233.9 520.0,234.5 520.5,234.9 521.0,235.4 521.5,235.8 522.0,236.3 522.5,236.7 523.0,237.1 523.5,237.5 524.0,237.9 524.5,238.2 525.0,238.6 525.5,238.9 526.0,239.2 526.5,239.6 527.0,239.9 527.5,240.2 528.0,240.6 528.5,240.9 529.0,241.2 529.5,241.5 530.0,241.9 530.5,242.2 531.0,242.5 531.5,242.8 532.0,243.1 532.5,243.4 533.0,243.8 533.5,244.1 534.0,244.4 534.5,244.7 535.0,245.0 535.5,245.4 536.0,245.7 536.5,246.0 537.0,246.3 537.5,246.6 538.0,246.9 538.5,247.2 539.0,247.5 539.5,247.8 540.0,248.0 540.5,248.3 541.0,248.5 541.5,248.7 542.0,249.0 542.5,249.2 543.0,249.4 543.5,249.6 544.0,249.8 544.5,250.0 545.0,250.2 545.5,250.4 546.0,250.6 546.5,250.7 547.0,250.9 547.5,251.0 548.0,251.2 548.5,251.3 549.0,251.5 549.5,251.6 550.0,251.7 550.5,251.8 551.0,251.9 551.5,252.0 552.0,252.0 552.5,252.1 553.0,252.2 553.5,252.2 554.0,252.3 554.5,252.4 555.0,252.4 555.5,252.5 556.0,252.6 556.5,252.6 557.0,252.7 557.5,252.7 558.0,252.8 558.5,252.9 559.0,252.9 559.5,253.0 560.0,253.0 560.5,253.1 561.0,253.1 561.5,253.2 562.0,253.2 562.5,253.3 563.0,253.3 563.5,253.4 564.0,253.4 564.5,253.5 565.0,253.5 565.5,253.6 566.0,253.6 566.5,253.7 567.0,253.7 567.5,253.8 568.0,253.8 568.5,253.9 569.0,254.0 569.5,254.1 570.0,254.1 570.5,254.2 571.0,254.3 571.5,254.4 572.0,254.5 572.5,254.6 573.0,254.7 573.5,254.8 574.0,254.9 574.5,255.0 575.0,255.2 575.5,255.3 576.0,255.4 576.5,255.5 577.0,255.7 577.5,255.8 578.0,256.0 578.5,256.2 579.0,256.3 579.5,256.5 580.0,256.7 580.5,256.8 581.0,257.0 581.5,257.1 582.0,257.3 582.5,257.4 583.0,257.5 583.5,257.6 584.0,257.7 584.5,257.8 585.0,257.9 585.5,257.9 586.0,258.0 586.5,258.1 587.0,258.1 587.5,258.2 588.0,258.3 588.5,258.3 589.0,258.4 589.5,258.4 590.0,258.5 590.5,258.5 591.0,258.6 591.5,258.6 592.0,258.6 592.5,258.7 593.0,258.7 593.5,258.7 594.0,258.8 594.5,258.8 595.0,258.8 595.5,258.8 596.0,258.9 596.5,258.9 597.0,258.9 597.5,258.9 598.0,259.0 598.5,259.0 599.0,259.0 599.5,259.1 600.0,259.1 600.5,259.1 601.0,259.2 601.5,259.2 602.0,259.2 602.5,259.3 603.0,259.3 603.5,259.3 604.0,259.3 604.5,259.4 605.0,259.4 605.5,259.4 606.0,259.4 606.5,259.5 607.0,259.5 607.5,259.5 608.0,259.5 608.5,259.5 609.0,259.6 609.5,259.6 610.0,259.6 610.5,259.6 611.0,259.6 611.5,259.7 612.0,259.7 612.5,259.7 613.0,259.7 613.5,259.7 614.0,259.7 614.5,259.8 615.0,259.8 615.5,259.8 616.0,259.8 616.5,259.8 617.0,259.8 617.5,259.8 618.0,259.8 618.5,259.9 619.0,259.9 619.5,259.9 620.0,259.9 620.5,259.9 621.0,259.9 621.5,259.9 622.0,259.9 622.5,259.9 623.0,259.9 623.5,259.9 624.0,259.9 624.5,259.9 625.0,259.9 625.5,259.9 626.0,259.9 626.5,259.9 627.0,259.9 627.5,259.9 628.0,259.9 628.5,259.9 629.0,259.9 629.5,259.9 630.0,259.9 630.5,259.8 631.0,259.8 631.5,259.8 632.0,259.8 632.5,259.8 633.0,259.8 633.5,259.8 634.0,259.8 634.5,259.8 635.0,259.8 635.5,259.8 636.0,259.7 636.5,259.7 637.0,259.7 637.5,259.7 638.0,259.7 638.5,259.7 639.0,259.6 639.5,259.6 640.0,259.6 640.5,259.6 641.0,259.6 641.5,259.5 642.0,259.5 642.5,259.5 643.0,259.5 643.5,259.4 644.0,259.4 644.5,259.4 645.0,259.3 645.5,259.3 646.0,259.3 646.5,259.2 647.0,259.2 647.5,259.1 648.0,259.1 648.5,259.1 649.0,259.0 649.5,259.0 650.0,259.0 650.5,259.0 651.0,259.0 651.5,259.0 652.0,259.0 652.5,259.0 652.5,263.0 652.0,263.0 651.5,263.0 651.0,263.0 650.5,263.0 650.0,263.1 649.5,263.1 649.0,263.1 648.5,263.2 648.0,263.2 647.5,263.3 647.0,263.3 646.5,263.4 646.0,263.4 645.5,263.4 645.0,263.5 644.5,263.5 644.0,263.6 643.5,263.6 643.0,263.6 642.5,263.7 642.0,263.7 641.5,263.8 641.0,263.8 640.5,263.8 640.0,263.9 639.5,263.9 639.0,263.9 638.5,263.9 638.0,264.0 637.5,264.0 637.0,264.0 636.5,264.1 636.0,264.1 635.5,264.1 635.0,264.1 634.5,264.1 634.0,264.2 633.5,264.2 633.0,264.2 632.5,264.2 632.0,264.2 631.5,264.2 631.0,264.3 630.5,264.3 630.0,264.3 629.5,264.3 629.0,264.3 628.5,264.3 628.0,264.4 627.5,264.4 627.0,264.4 626.5,264.4 626.0,264.4 625.5,264.4 625.0,264.4 624.5,264.5 624.0,264.5 623.5,264.5 623.0,264.5 622.5,264.5 622.0,264.5 621.5,264.5 621.0,264.5 620.5,264.5 620.0,264.5 619.5,264.5 619.0,264.5 618.5,264.5 618.0,264.5 617.5,264.5 617.0,264.5 616.5,264.5 616.0,264.5 615.5,264.5 615.0,264.5 614.5,264.5 614.0,264.5 613.5,264.5 613.0,264.5 612.5,264.5 612.0,264.5 611.5,264.5 611.0,264.5 610.5,264.4 610.0,264.4 609.5,264.4 609.0,264.4 608.5,264.4 608.0,264.4 607.5,264.4 607.0,264.4 606.5,264.4 606.0,264.4 605.5,264.3 605.0,264.3 604.5,264.3 604.0,264.3 603.5,264.3 603.0,264.3 602.5,264.2 602.0,264.2 601.5,264.2 601.0,264.2 600.5,264.1 600.0,264.1 599.5,264.1 599.0,264.1 598.5,264.1 598.0,264.0 597.5,264.0 597.0,264.0 596.5,264.0 596.0,264.0 595.5,264.0 595.0,263.9 594.5,263.9 594.0,263.9 593.5,263.9 593.0,263.9 592.5,263.8 592.0,263.8 591.5,263.8 591.0,263.8 590.5,263.7 590.0,263.7 589.5,263.7 589.0,263.6 588.5,263.6 588.0,263.5 587.5,263.5 587.0,263.4 586.5,263.4 586.0,263.3 585.5,263.2 585.0,263.2 584.5,263.1 584.0,263.0 583.5,263.0 583.0,262.9 582.5,262.8 582.0,262.7 581.5,262.5 581.0,262.4 580.5,262.2 580.0,262.1 579.5,261.9 579.0,261.8 578.5,261.6 578.0,261.4 577.5,261.3 577.0,261.1 576.5,261.0 576.0,260.9 575.5,260.8 575.0,260.7 574.5,260.6 574.0,260.5 573.5,260.4 573.0,260.3 572.5,260.2 572.0,260.1 571.5,260.0 571.0,259.9 570.5,259.8 570.0,259.8 569.5,259.7 569.0,259.6 568.5,259.5 568.0,259.5 567.5,259.4 567.0,259.4 566.5,259.3 566.0,259.3 565.5,259.3 565.0,259.2 564.5,259.2 564.0,259.1 563.5,259.1 563.0,259.1 562.5,259.0 562.0,259.0 561.5,259.0 561.0,258.9 560.5,258.9 560.0,258.8 559.5,258.8 559.0,258.7 558.5,258.7 558.0,258.6 557.5,258.6 557.0,258.6 556.5,258.5 556.0,258.5 555.5,258.4 555.0,258.4 554.5,258.3 554.0,258.2 553.5,258.2 553.0,258.1 552.5,258.1 552.0,258.0 551.5,257.9 551.0,257.9 550.5,257.8 550.0,257.7 549.5,257.7 549.0,257.6 548.5,257.5 548.0,257.4 547.5,257.4 547.0,257.3 546.5,257.2 546.0,257.1 545.5,257.0 545.0,256.9 544.5,256.8 544.0,256.6 543.5,256.5 543.0,256.3 542.5,256.2 542.0,256.0 541.5,255.9 541.0,255.7 540.5,255.5 540.0,255.4 539.5,255.2 539.0,255.0 538.5,254.8 538.0,254.5 537.5,254.3 537.0,254.1 536.5,253.8 536.0,253.6 535.5,253.3 535.0,253.0 534.5,252.8 534.0,252.5 533.5,252.3 533.0,252.0 532.5,251.8 532.0,251.5 531.5,251.3 531.0,251.0 530.5,250.8 530.0,250.5 529.5,250.3 529.0,250.0 528.5,249.8 528.0,249.5 527.5,249.2 527.0,249.0 526.5,248.7 526.0,248.4 525.5,248.2 525.0,247.9 524.5,247.6 524.0,247.3 523.5,247.0 523.0,246.7 522.5,246.4 522.0,246.0 521.5,245.6 521.0,245.3 520.5,244.9 520.0,244.5 519.5,244.1 519.0,243.8 518.5,243.4 518.0,243.0 517.5,242.7 517.0,242.4 516.5,242.1 516.0,241.8 515.5,241.5 515.0,241.2 514.5,241.0 514.0,240.7 513.5,240.5 513.0,240.3 512.5,240.1 512.0,239.9 511.5,239.8 511.0,239.7 510.5,239.7 510.0,239.7 509.5,239.6 509.0,239.4 508.5,239.3 508.0,239.3 507.5,239.2 507.0,239.1 506.5,239.0 506.0,238.9 505.5,238.9 505.0,238.8 504.5,238.7 504.0,238.7 503.5,238.6 503.0,238.6 502.5,238.5 502.0,238.4 501.5,238.4 501.0,238.3 500.5,238.3 500.0,238.2 499.5,238.1 499.0,238.0 498.5,237.9 498.0,237.9 497.5,237.8 497.0,237.9 496.5,238.1 496.0,238.4 495.5,238.7 495.0,239.0 494.5,239.3 494.0,239.6 493.5,239.8 493.0,239.8 492.5,239.8 492.0,239.8 491.5,239.8 491.0,239.8 490.5,239.7 490.0,239.7 489.5,239.8 489.0,240.0 488.5,240.3 488.0,240.6 487.5,240.9 487.0,241.2 486.5,241.5 486.0,241.7 485.5,242.0 485.0,242.3 484.5,242.6 484.0,242.9 483.5,243.2 483.0,243.5 482.5,243.8 482.0,244.1 481.5,244.3 481.0,244.6 480.5,244.9 480.0,245.2 479.5,245.4 479.0,245.7 478.5,245.9 478.0,246.1 477.5,246.4 477.0,246.6 476.5,246.8 476.0,247.0 475.5,247.2 475.0,247.4 474.5,247.6 474.0,247.8 473.5,248.0 473.0,248.2 472.5,248.5 472.0,248.7 471.5,248.9 471.0,249.1 470.5,249.4 470.0,249.6 469.5,249.9 469.0,250.1 468.5,250.3 468.0,250.6 467.5,250.8 467.0,251.1 466.5,251.3 466.0,251.6 465.5,251.8 465.0,252.1 464.5,252.4 464.0,252.6 463.5,252.9 463.0,253.1 462.5,253.3 462.0,253.4 461.5,253.5 461.0,253.6 460.5,253.6 460.0,253.7 459.5,253.8 459.0,254.0 458.5,254.3 458.0,254.6 457.5,256.0 457.0,256.7 456.5,256.8 456.0,257.0 455.5,257.0 455.0,257.1 454.5,257.2 454.0,257.2 453.5,257.3 453.0,257.3 452.5,257.4 452.0,257.4 451.5,257.5 451.0,257.6 450.5,257.7 450.0,257.7 449.5,257.8 449.0,257.9 448.5,257.9 448.0,258.0 447.5,258.0 447.0,258.0 446.5,258.0 446.0,258.0 445.5,258.0 445.0,258.0 444.5,258.0 444.0,258.0 443.5,258.0 443.0,258.0 442.5,258.0 442.0,258.0 441.5,258.0 441.0,258.1 440.5,258.2 440.0,258.2 439.5,258.3 439.0,258.4 438.5,258.4 438.0,258.5 437.5,258.5 437.0,258.5 436.5,258.4 436.0,258.4 435.5,258.3 435.0,258.2 434.5,258.0 434.0,257.9 433.5,257.8 433.0,257.7 432.5,257.6 432.0,257.5 431.5,257.4 431.0,257.3 430.5,257.3 430.0,257.2 429.5,257.1 429.0,257.0 428.5,256.9 428.0,256.9 427.5,256.8 427.0,256.7 426.5,256.6 426.0,256.5 425.5,256.4 425.0,256.3 424.5,256.2 424.0,256.1 423.5,256.0 423.0,256.0 422.5,256.0 422.0,256.0 421.5,256.1 421.0,256.3 420.5,256.5 420.0,256.7 419.5,256.9 419.0,257.1 418.5,257.3 418.0,257.5 417.5,257.7 417.0,257.9 416.5,258.1 416.0,258.3 415.5,258.5 415.0,258.7 414.5,258.9 414.0,259.0 413.5,259.0 413.0,258.9 412.5,258.6 412.0,258.3 411.5,257.9 411.0,257.5 410.5,257.0 410.0,256.4 409.5,255.8 409.0,255.0 408.5,254.3 408.0,253.5 407.5,252.8 407.0,252.1 406.5,251.4 406.0,250.6 405.5,249.9 405.0,249.2 404.5,248.5 404.0,247.8 403.5,247.2 403.0,246.6 402.5,246.0 402.0,245.5 401.5,245.0 401.0,244.6 400.5,244.1 400.0,243.7 399.5,243.3 399.0,242.9 398.5,242.5 398.0,242.1 397.5,241.7 397.0,241.3 396.5,240.9 396.0,240.5 395.5,240.0 395.0,239.6 394.5,239.1 394.0,238.5 393.5,237.8 393.0,237.1 392.5,236.3 392.0,235.4 391.5,234.4 391.0,233.3 390.5,232.1 390.0,230.7 389.5,229.1 389.0,227.1 388.5,224.8 388.0,222.4 387.5,220.0 387.0,217.6 386.5,215.1 386.0,212.6 385.5,210.3 385.0,208.0 384.5,205.9 384.0,203.8 383.5,201.8 383.0,199.6 382.5,197.6 382.0,195.7 381.5,194.0 381.0,192.6 380.5,191.6 380.0,190.8 379.5,190.3 379.0,189.9 378.5,189.8 378.0,189.8 377.5,189.8 377.0,190.0 376.5,190.0 376.0,190.2 375.5,190.6 375.0,191.1 374.5,192.0 374.0,193.1 373.5,194.4 373.0,195.7 372.5,197.0 372.0,198.3 371.5,199.7 371.0,201.1 370.5,202.6 370.0,204.1 369.5,205.7 369.0,207.2 368.5,208.8 368.0,210.5 367.5,212.6 367.0,214.7 366.5,216.9 366.0,219.1 365.5,221.2 365.0,223.2 364.5,225.1 364.0,226.7 363.5,228.1 363.0,229.4 362.5,230.5 362.0,231.3 361.5,231.9 361.0,232.3 360.5,232.2 360.0,231.3 359.5,229.9 359.0,228.4 358.5,226.6 358.0,224.4 357.5,222.1 357.0,219.6 356.5,216.9 356.0,214.0 355.5,210.9 355.0,207.8 354.5,204.6 354.0,201.5 353.5,198.4 353.0,195.3 352.5,192.1 352.0,188.8 351.5,185.3 351.0,181.6 350.5,177.9 350.0,174.0 349.5,169.9 349.0,165.3 348.5,160.1 348.0,153.6 347.5,145.6 347.0,137.7 346.5,129.9 346.0,121.8 345.5,113.0 345.0,102.3 344.5,91.3 344.0,81.9 343.5,76.0 343.0,72.0 342.5,68.8 342.0,65.8 341.5,62.6 341.0,59.0 340.5,55.7 340.0,53.4 339.5,51.7 339.0,50.5 338.5,49.6 338.0,49.0 337.5,48.8 337.0,49.0 336.5,49.8 336.0,51.0 335.5,52.6 335.0,54.9 334.5,57.6 334.0,60.7 333.5,64.7 333.0,69.9 332.5,76.9 332.0,86.4 331.5,100.0 331.0,113.5 330.5,122.8 330.0,129.6 329.5,135.4 329.0,141.1 328.5,147.1 328.0,153.1 327.5,158.6 327.0,163.2 326.5,167.0 326.0,170.3 325.5,173.1 325.0,175.8 324.5,178.6 324.0,181.5 323.5,184.7 323.0,188.1 322.5,191.4 322.0,194.8 321.5,198.0 321.0,201.1 320.5,204.0 320.0,206.7 319.5,209.4 319.0,212.0 318.5,214.4 318.0,216.5 317.5,218.3 317.0,219.7 316.5,220.8 316.0,221.9 315.5,223.0 315.0,224.5 314.5,226.3 314.0,228.1 313.5,229.8 313.0,231.3 312.5,232.8 312.0,234.3 311.5,235.9 311.0,237.7 310.5,239.6 310.0,241.3 309.5,242.8 309.0,244.2 308.5,245.5 308.0,246.6 307.5,247.9 307.0,249.1 306.5,250.0 306.0,250.2 305.5,250.1 305.0,249.9 304.5,249.8 304.0,249.7 303.5,249.5 303.0,249.2 302.5,248.5 302.0,247.6 301.5,246.6 301.0,245.8 300.5,244.9 300.0,243.9 299.5,243.1 299.0,242.5 298.5,242.2 298.0,242.0 297.5,241.9 297.0,241.8 296.5,241.7 296.0,241.7 295.5,241.6 295.0,241.6 294.5,241.5 294.0,241.4 293.5,241.2 293.0,241.0 292.5,240.7 292.0,240.4 291.5,240.1 291.0,239.8 290.5,239.6 290.0,239.5 289.5,239.6 289.0,239.7 288.5,239.8 288.0,240.0 287.5,240.2 287.0,240.4 286.5,240.5 286.0,240.7 285.5,240.8 285.0,241.0 284.5,241.2 284.0,241.4 283.5,241.5 283.0,241.6 282.5,241.7 282.0,241.7 281.5,241.6 281.0,241.4 280.5,241.2 280.0,240.9 279.5,240.6 279.0,240.2 278.5,239.9 278.0,239.5 277.5,239.1 277.0,238.5 276.5,238.0 276.0,237.4 275.5,236.9 275.0,236.5 274.5,236.1 274.0,235.8 273.5,235.5 273.0,235.2 272.5,234.9 272.0,234.7 271.5,234.5 271.0,234.5 270.5,234.5 270.0,234.6 269.5,234.9 269.0,235.2 268.5,235.6 268.0,235.9 267.5,236.3 267.0,236.7 266.5,237.0 266.0,237.5 265.5,237.9 265.0,238.4 264.5,238.8 264.0,239.1 263.5,239.4 263.0,239.6 262.5,239.3 262.0,238.9 261.5,238.3 261.0,237.7 260.5,237.1 260.0,236.2 259.5,235.0 259.0,233.6 258.5,232.2 258.0,230.9 257.5,229.6 257.0,228.3 256.5,227.0 256.0,225.8 255.5,224.6 255.0,223.5 254.5,222.1 254.0,220.7 253.5,219.3 253.0,217.7 252.5,216.2 252.0,214.8 251.5,213.5 251.0,212.5 250.5,211.6 250.0,210.8 249.5,210.0 249.0,209.4 248.5,208.9 248.0,208.4 247.5,208.1 247.0,207.8 246.5,207.5 246.0,207.2 245.5,207.0 245.0,206.6 244.5,206.4 244.0,206.1 243.5,205.8 243.0,205.4 242.5,204.9 242.0,204.5 241.5,204.0 241.0,203.4 240.5,202.9 240.0,202.4 239.5,202.0 239.0,201.6 238.5,201.3 238.0,201.0 237.5,199.9 237.0,198.8 236.5,197.2 236.0,195.2 235.5,193.1 235.0,190.9 234.5,188.5 234.0,185.9 233.5,183.3 233.0,180.7 232.5,178.0 232.0,175.5 231.5,173.1 231.0,171.1 230.5,169.3 230.0,167.6 229.5,167.0 229.0,166.6 228.5,166.3 228.0,166.0 227.5,165.9 227.0,165.6 226.5,165.2 226.0,164.7 225.5,164.0 225.0,163.3 224.5,162.4 224.0,161.6 223.5,161.1 223.0,160.5 222.5,159.8 222.0,159.2 221.5,158.6 221.0,158.1 220.5,157.7 220.0,157.3 219.5,156.9 219.0,156.6 218.5,156.4 218.0,156.4 217.5,155.9 217.0,155.6 216.5,155.6 216.0,155.6 215.5,155.7 215.0,155.8 214.5,155.9 214.0,156.1 213.5,156.4 213.0,156.8 212.5,157.1 212.0,157.5 211.5,157.8 211.0,157.9 210.5,158.1 210.0,158.3 209.5,158.5 209.0,158.6 208.5,158.7 208.0,158.7 207.5,159.0 207.0,159.2 206.5,159.0 206.0,158.7 205.5,158.5 205.0,158.6 204.5,158.6 204.0,158.7 203.5,158.8 203.0,159.0 202.5,159.6 202.0,160.5 201.5,161.6 201.0,162.9 200.5,164.1 200.0,165.4 199.5,166.7 199.0,168.2 198.5,169.7 198.0,171.4 197.5,173.0 197.0,174.6 196.5,176.0 196.0,177.4 195.5,179.0 195.0,180.7 194.5,182.6 194.0,184.9 193.5,187.0 193.0,189.0 192.5,190.9 192.0,192.8 191.5,194.6 191.0,196.0 190.5,197.5 190.0,198.8 189.5,200.0 189.0,201.1 188.5,202.0 188.0,202.8 187.5,203.5 187.0,204.1 186.5,204.7 186.0,205.3 185.5,205.8 185.0,206.4 184.5,206.9 184.0,207.4 183.5,207.8 183.0,208.2 182.5,208.6 182.0,208.9 181.5,209.2 181.0,209.4 180.5,209.7 180.0,210.0 179.5,210.5 179.0,211.1 178.5,211.7 178.0,212.3 177.5,212.9 177.0,213.5 176.5,214.2 176.0,214.9 175.5,215.6 175.0,216.3 174.5,217.1 174.0,218.0 173.5,218.9 173.0,219.8 172.5,220.7 172.0,221.6 171.5,222.4 171.0,223.2 170.5,224.1 170.0,224.9 169.5,225.7 169.0,226.4 168.5,227.0 168.0,227.6 167.5,228.0 167.0,228.3 166.5,228.5 166.0,228.8 165.5,229.0 165.0,229.1 164.5,229.3 164.0,229.5 163.5,229.6 163.0,229.8 162.5,229.9 162.0,230.1 161.5,230.2 161.0,230.4 160.5,230.5 160.0,230.6 159.5,230.8 159.0,230.9 158.5,231.0 158.0,231.2 157.5,231.4 157.0,231.6 156.5,231.8 156.0,232.1 155.5,232.5 155.0,232.9 154.5,233.3 154.0,233.7 153.5,234.1 153.0,234.5 152.5,234.9 152.0,235.3 151.5,235.7 151.0,236.1 150.5,236.5 150.0,236.9 149.5,237.3 149.0,237.7 148.5,238.1 148.0,238.5 147.5,238.9 147.0,239.2 146.5,239.6 146.0,240.0 145.5,240.4 145.0,240.7 144.5,241.1 144.0,241.4 143.5,241.8 143.0,242.1 142.5,242.5 142.0,242.8 141.5,243.1 141.0,243.4 140.5,243.7 140.0,244.0 139.5,244.3 139.0,244.6 138.5,244.9 138.0,245.2 137.5,245.4 137.0,245.7 136.5,246.0 136.0,246.3 135.5,246.6 135.0,246.9 134.5,247.2 134.0,247.5 133.5,247.8 133.0,248.1 132.5,248.4 132.0,248.7 131.5,249.0 131.0,249.2 130.5,249.5 130.0,249.7 129.5,250.0 129.0,250.2 128.5,250.5 128.0,250.7 127.5,250.9 127.0,251.1 126.5,251.3 126.0,251.5 125.5,251.8 125.0,252.0 124.5,252.2 124.0,252.5 123.5,252.8 123.0,253.0 122.5,253.3 122.0,253.5 121.5,253.7 121.0,253.9 120.5,254.1 120.0,254.3 119.5,254.4 119.0,254.6 118.5,254.7 118.0,254.8 117.5,254.9 117.0,255.0 116.5,255.0 116.0,255.0 115.5,255.0 115.0,254.9 114.5,254.9 114.0,254.8 113.5,254.7 113.0,254.6 112.5,254.5 112.0,254.4 111.5,254.3 111.0,254.2 110.5,254.2 110.0,254.1 109.5,254.1 109.0,254.1 108.5,254.0 108.0,254.0 107.5,254.0 107.0,253.9 106.5,253.9 106.0,253.9 105.5,253.8 105.0,253.8 104.5,253.8 104.0,253.7 103.5,253.7 103.0,253.6 102.5,253.5 102.0,253.4 101.5,253.3 101.0,253.2 100.5,253.1 100.0,253.0 99.5,252.9 99.0,252.8 98.5,252.7 98.0,252.6 97.5,252.5 97.0,252.4 96.5,252.3 96.0,252.3 95.5,252.2 95.0,252.1 94.5,252.0 94.0,251.9 93.5,251.8 93.0,251.7 92.5,251.6 92.0,251.5 91.5,251.4 91.0,251.3 90.5,251.2 90.0,251.1 89.5,251.0 89.0,250.9 88.5,250.8 88.0,250.7 87.5,250.6 87.0,250.5 86.5,250.4 86.0,250.3 85.5,250.2 85.0,250.1 84.5,250.0 84.0,249.9 83.5,249.7 83.0,249.6 82.5,249.5 82.0,249.5 81.5,249.5 81.0,249.5 80.5,249.4 80.0,249.4 79.5,249.3 79.0,249.2 78.5,249.0 78.0,248.9 77.5,248.9 77.0,248.9 76.5,249.0 76.0,249.1 75.5,249.3 75.0,249.4 74.5,249.6 74.0,249.9 73.5,250.1 73.0,250.5 72.5,250.8 72.0,251.2 71.5,251.5 71.0,251.9 70.5,252.3 70.0,252.7 69.5,253.2 69.0,253.6 68.5,254.0 68.0,254.4 67.5,254.6 67.0,254.9 66.5,255.2 66.0,255.4 65.5,255.6 65.0,255.8 64.5,256.0 64.0,256.1 63.5,256.3 63.0,256.4 62.5,256.5 62.0,256.7 61.5,256.8" fill="#008000" fill-opacity="0.42" stroke="#000" stroke-opacity="0.4" stroke-width="0.9" stroke-linejoin="round"/>
<polyline points="61.5,253.6 62.0,254.2 62.5,254.4 63.0,254.4 63.5,254.4 64.0,254.4 64.5,254.4 65.0,254.4 65.5,254.4 66.0,254.4 66.5,254.4 67.0,254.4 67.5,254.4 68.0,254.4 68.5,254.4 69.0,254.4 69.5,254.3 70.0,254.3 70.5,254.3 71.0,254.2 71.5,254.2 72.0,254.2 72.5,254.1 73.0,254.1 73.5,254.1 74.0,254.1 74.5,254.1 75.0,254.2 75.5,254.2 76.0,254.2 76.5,254.3 77.0,254.4 77.5,254.4 78.0,254.5 78.5,254.6 79.0,254.6 79.5,254.7 80.0,254.7 80.5,254.8 81.0,254.8 81.5,254.9 82.0,254.9 82.5,255.0 83.0,255.0 83.5,255.1 84.0,255.1 84.5,255.2 85.0,255.2 85.5,255.2 86.0,255.2 86.5,255.2 87.0,255.1 87.5,255.0 88.0,254.9 88.5,254.8 89.0,254.6 89.5,254.5 90.0,254.3 90.5,254.1 91.0,253.9 91.5,253.7 92.0,253.6 92.5,253.4 93.0,253.2 93.5,252.9 94.0,252.7 94.5,252.4 95.0,252.2 95.5,251.9 96.0,251.6 96.5,251.4 97.0,251.1 97.5,250.9 98.0,250.6 98.5,250.3 99.0,250.1 99.5,249.8 100.0,249.5 100.5,249.2 101.0,248.9 101.5,248.6 102.0,248.4 102.5,248.1 103.0,247.9 103.5,247.8 104.0,247.6 104.5,247.5 105.0,247.4 105.5,247.3 106.0,247.2 106.5,247.1 107.0,247.1 107.5,247.0 108.0,246.9 108.5,246.9 109.0,246.8 109.5,246.8 110.0,246.8 110.5,246.8 111.0,246.8 111.5,246.9 112.0,247.0 112.5,247.1 113.0,247.3 113.5,247.4 114.0,247.5 114.5,247.7 115.0,247.8 115.5,247.9 116.0,248.0 116.5,248.0 117.0,248.1 117.5,248.1 118.0,248.1 118.5,248.2 119.0,248.2 119.5,248.2 120.0,248.2 120.5,248.3 121.0,248.3 121.5,248.4 122.0,248.4 122.5,248.4 123.0,248.5 123.5,248.5 124.0,248.6 124.5,248.7 125.0,248.7 125.5,248.8 126.0,248.9 126.5,249.0 127.0,249.1 127.5,249.4 128.0,249.8 128.5,250.4 129.0,251.0 129.5,251.5 130.0,252.1 130.5,252.5 131.0,252.8 131.5,252.9 132.0,252.9 132.5,252.8 133.0,252.7 133.5,252.5 134.0,252.3 134.5,252.1 135.0,251.6 135.5,250.8 136.0,249.8 136.5,248.7 137.0,247.6 137.5,246.8 138.0,246.2 138.5,245.6 139.0,245.0 139.5,244.5 140.0,244.0 140.5,243.6 141.0,243.1 141.5,242.7 142.0,242.2 142.5,241.7 143.0,241.3 143.5,240.8 144.0,240.3 144.5,239.9 145.0,239.4 145.5,239.1 146.0,238.7 146.5,238.4 147.0,238.2 147.5,238.0 148.0,237.9 148.5,237.7 149.0,237.6 149.5,237.5 150.0,237.3 150.5,237.2 151.0,237.0 151.5,236.8 152.0,236.5 152.5,236.2 153.0,235.9 153.5,235.6 154.0,235.2 154.5,234.9 155.0,234.5 155.5,234.1 156.0,233.8 156.5,233.3 157.0,232.9 157.5,232.4 158.0,231.9 158.5,231.5 159.0,231.1 159.5,230.8 160.0,230.6 160.5,230.4 161.0,230.3 161.5,230.2 162.0,230.1 162.5,230.0 163.0,229.8 163.5,229.5 164.0,229.2 164.5,228.7 165.0,228.1 165.5,227.5 166.0,227.0 166.5,226.3 167.0,225.7 167.5,225.0 168.0,224.3 168.5,223.6 169.0,223.0 169.5,222.4 170.0,221.8 170.5,221.1 171.0,220.1 171.5,218.9 172.0,217.6 172.5,216.3 173.0,215.1 173.5,213.9 174.0,212.8 174.5,211.6 175.0,210.5 175.5,209.3 176.0,208.2 176.5,207.0 177.0,205.8 177.5,204.7 178.0,203.5 178.5,202.3 179.0,201.2 179.5,200.0 180.0,198.9 180.5,197.8 181.0,196.7 181.5,195.7 182.0,194.7 182.5,193.7 183.0,192.9 183.5,192.0 184.0,191.2 184.5,190.4 185.0,189.7 185.5,188.9 186.0,188.1 186.5,187.3 187.0,186.6 187.5,186.0 188.0,185.6 188.5,185.3 189.0,185.1 189.5,184.9 190.0,184.7 190.5,184.6 191.0,184.6 191.5,184.6 192.0,184.6 192.5,184.6 193.0,184.6 193.5,184.6 194.0,184.6 194.5,184.6 195.0,184.6 195.5,184.8 196.0,185.2 196.5,185.6 197.0,186.1 197.5,186.5 198.0,187.0 198.5,187.7 199.0,188.2 199.5,188.4 200.0,188.4 200.5,188.4 201.0,188.4 201.5,188.3 202.0,187.5 202.5,186.1 203.0,184.4 203.5,182.6 204.0,180.4 204.5,177.8 205.0,174.8 205.5,171.4 206.0,167.4 206.5,163.0 207.0,158.2 207.5,153.0 208.0,147.7 208.5,142.2 209.0,136.6 209.5,130.6 210.0,124.6 210.5,119.0 211.0,113.8 211.5,108.8 212.0,103.9 212.5,99.0 213.0,93.8 213.5,88.9 214.0,84.7 214.5,80.9 215.0,78.0 215.5,75.8 216.0,74.0 216.5,72.8 217.0,72.0 217.5,71.4 218.0,71.3 218.5,71.8 219.0,72.6 219.5,74.2 220.0,78.2 220.5,83.0 221.0,89.5 221.5,96.0 222.0,101.0 222.5,105.6 223.0,110.0 223.5,114.5 224.0,118.8 224.5,122.7 225.0,125.9 225.5,129.2 226.0,133.5 226.5,138.7 227.0,144.1 227.5,149.7 228.0,155.7 228.5,161.4 229.0,167.5 229.5,171.3 230.0,173.2 230.5,173.4 231.0,171.6 231.5,168.6 232.0,165.3 232.5,162.3 233.0,158.9 233.5,155.2 234.0,151.6 234.5,148.1 235.0,144.6 235.5,141.1 236.0,137.6 236.5,133.8 237.0,130.2 237.5,127.4 238.0,125.2 238.5,123.8 239.0,122.9 239.5,122.4 240.0,122.7 240.5,123.4 241.0,124.4 241.5,125.7 242.0,127.4 242.5,129.5 243.0,132.4 243.5,136.5 244.0,141.0 244.5,145.2 245.0,149.0 245.5,152.6 246.0,156.0 246.5,158.9 247.0,161.5 247.5,163.9 248.0,166.1 248.5,168.1 249.0,169.8 249.5,171.4 250.0,172.8 250.5,174.1 251.0,175.3 251.5,176.3 252.0,177.2 252.5,178.0 253.0,178.7 253.5,179.4 254.0,180.0 254.5,180.6 255.0,181.2 255.5,181.8 256.0,182.5 256.5,183.1 257.0,183.8 257.5,184.4 258.0,185.0 258.5,185.6 259.0,186.1 259.5,186.6 260.0,187.1 260.5,187.8 261.0,188.8 261.5,190.3 262.0,191.9 262.5,193.6 263.0,195.0 263.5,196.2 264.0,197.2 264.5,198.3 265.0,199.5 265.5,200.8 266.0,202.4 266.5,204.1 267.0,205.8 267.5,207.7 268.0,209.5 268.5,211.4 269.0,213.3 269.5,215.3 270.0,217.3 270.5,219.3 271.0,221.3 271.5,223.5 272.0,225.7 272.5,227.9 273.0,230.0 273.5,231.7 274.0,233.1 274.5,234.3 275.0,235.5 275.5,236.5 276.0,237.3 276.5,237.9 277.0,238.3 277.5,238.7 278.0,239.0 278.5,239.3 279.0,239.6 279.5,239.8 280.0,239.9 280.5,239.9 281.0,239.9 281.5,239.9 282.0,239.9 282.5,239.9 283.0,239.7 283.5,238.7 284.0,237.0 284.5,235.2 285.0,233.5 285.5,232.0 286.0,230.5 286.5,229.1 287.0,228.0 287.5,227.2 288.0,226.5 288.5,226.0 289.0,225.8 289.5,225.8 290.0,225.9 290.5,225.9 291.0,226.1 291.5,226.4 292.0,226.8 292.5,227.3 293.0,227.6 293.5,227.9 294.0,228.1 294.5,228.4 295.0,228.9 295.5,229.5 296.0,230.2 296.5,231.0 297.0,231.9 297.5,232.7 298.0,233.6 298.5,234.4 299.0,235.1 299.5,235.9 300.0,236.7 300.5,237.4 301.0,238.2 301.5,238.9 302.0,239.6 302.5,240.3 303.0,241.0 303.5,241.7 304.0,242.3 304.5,243.0 305.0,243.6 305.5,244.1 306.0,244.6 306.5,245.0 307.0,245.4 307.5,245.7 308.0,246.1 308.5,246.4 309.0,246.7 309.5,247.1 310.0,247.5 310.5,248.0 311.0,248.7 311.5,249.4 312.0,250.2 312.5,250.9 313.0,251.6 313.5,252.1 314.0,252.5 314.5,252.7 315.0,252.9 315.5,253.0 316.0,253.2 316.5,253.3 317.0,253.4 317.5,253.4 318.0,253.4 318.5,253.4 319.0,253.3 319.5,253.3 320.0,253.2 320.5,253.1 321.0,253.0 321.5,252.9 322.0,252.8 322.5,252.7 323.0,252.6 323.5,252.5 324.0,252.3 324.5,252.1 325.0,251.9 325.5,251.7 326.0,251.4 326.5,251.2 327.0,251.0 327.5,250.9 328.0,250.8 328.5,250.8 329.0,250.8 329.5,250.8 330.0,250.8 330.5,250.8 331.0,250.8 331.5,250.8 332.0,250.8 332.5,250.8 333.0,250.8 333.5,250.8 334.0,250.8 334.5,250.9 335.0,251.0 335.5,251.1 336.0,251.3 336.5,251.5 337.0,251.7 337.5,252.0 338.0,252.2 338.5,252.4 339.0,252.6 339.5,252.8 340.0,253.0 340.5,253.3 341.0,253.5 341.5,253.8 342.0,254.0 342.5,254.2 343.0,254.3 343.5,254.3 344.0,254.2 344.5,253.9 345.0,253.5 345.5,253.1 346.0,252.7 346.5,252.3 347.0,252.0 347.5,251.8 348.0,251.7 348.5,251.7 349.0,251.8 349.5,251.9 350.0,252.0 350.5,252.1 351.0,252.2 351.5,252.4 352.0,252.5 352.5,252.7 353.0,252.9 353.5,253.1 354.0,253.4 354.5,253.8 355.0,254.1 355.5,254.5 356.0,254.8 356.5,255.1 357.0,255.4 357.5,255.7 358.0,255.9 358.5,256.2 359.0,256.5 359.5,256.8 360.0,257.1 360.5,257.3 361.0,257.5 361.5,257.7 362.0,257.9 362.5,258.0 363.0,258.1 363.5,258.2 364.0,258.3 364.5,258.3 365.0,258.4 365.5,258.5 366.0,258.5 366.5,258.6 367.0,258.7 367.5,258.8 368.0,258.9 368.5,259.1 369.0,259.2 369.5,259.4 370.0,259.6 370.5,259.8 371.0,260.0 371.5,260.1 372.0,260.3 372.5,260.5 373.0,260.7 373.5,260.9 374.0,261.1 374.5,261.3 375.0,261.5 375.5,261.7 376.0,261.9 376.5,262.1 377.0,262.3 377.5,262.4 378.0,262.6 378.5,262.6 379.0,262.7 379.5,262.6 380.0,262.5 380.5,262.2 381.0,261.8 381.5,261.4 382.0,261.0 382.5,260.5 383.0,260.1 383.5,259.6 384.0,259.0 384.5,258.3 385.0,257.5 385.5,256.8 386.0,256.2 386.5,255.8 387.0,255.5 387.5,255.1 388.0,254.8 388.5,254.6 389.0,254.4 389.5,254.3 390.0,254.3 390.5,254.4 391.0,254.5 391.5,254.7 392.0,254.9 392.5,255.1 393.0,255.3 393.5,255.5 394.0,255.7 394.5,255.9 395.0,256.1 395.5,256.3 396.0,256.5 396.5,256.6 397.0,256.8 397.5,257.0 398.0,257.2 398.5,257.3 399.0,257.5 399.5,257.6 400.0,257.7 400.5,257.8 401.0,257.9 401.5,258.0 402.0,258.1 402.5,258.1 403.0,258.2 403.5,258.3 404.0,258.3 404.5,258.4 405.0,258.5 405.5,258.5 406.0,258.6 406.5,258.6 407.0,258.7 407.5,258.7 408.0,258.7 408.5,258.8 409.0,258.8 409.5,258.8 410.0,258.8 410.5,258.7 411.0,258.6 411.5,258.5 412.0,258.4 412.5,258.2 413.0,258.0 413.5,257.9 414.0,257.7 414.5,257.6 415.0,257.4 415.5,257.3 416.0,257.1 416.5,256.9 417.0,256.8 417.5,256.6 418.0,256.4 418.5,256.3 419.0,256.1 419.5,255.9 420.0,255.8 420.5,255.6 421.0,255.4 421.5,255.2 422.0,255.0 422.5,254.8 423.0,254.7 423.5,254.5 424.0,254.4 424.5,254.3 425.0,254.2 425.5,254.1 426.0,254.0 426.5,253.9 427.0,253.8 427.5,253.8 428.0,253.7 428.5,253.6 429.0,253.5 429.5,253.4 430.0,253.4 430.5,253.2 431.0,253.1 431.5,253.0 432.0,252.9 432.5,252.8 433.0,252.8 433.5,252.7 434.0,252.7 434.5,252.7 435.0,252.8 435.5,252.9 436.0,253.0 436.5,253.1 437.0,253.2 437.5,253.3 438.0,253.4 438.5,253.5 439.0,253.5 439.5,253.5 440.0,253.5 440.5,253.5 441.0,253.5 441.5,253.5 442.0,253.5 442.5,253.5 443.0,253.5 443.5,253.5 444.0,253.5 444.5,253.5 445.0,253.4 445.5,253.3 446.0,253.1 446.5,252.9 447.0,252.7 447.5,252.5 448.0,252.3 448.5,252.1 449.0,251.9 449.5,251.6 450.0,251.4 450.5,251.2 451.0,250.9 451.5,250.7 452.0,250.4 452.5,250.1 453.0,249.9 453.5,249.6 454.0,249.3 454.5,249.1 455.0,248.7 455.5,248.4 456.0,248.1 456.5,247.8 457.0,247.5 457.5,247.4 458.0,247.3 458.5,247.3 459.0,247.4 459.5,247.4 460.0,247.5 460.5,247.6 461.0,247.7 461.5,247.8 462.0,247.8 462.5,247.8 463.0,247.7 463.5,247.5 464.0,247.2 464.5,246.9 465.0,246.6 465.5,246.2 466.0,245.7 466.5,245.0 467.0,244.2 467.5,243.3 468.0,242.5 468.5,241.6 469.0,240.6 469.5,239.7 470.0,238.9 470.5,238.1 471.0,237.3 471.5,236.6 472.0,236.0 472.5,235.5 473.0,235.0 473.5,234.6 474.0,234.4 474.5,234.4 475.0,234.6 475.5,234.8 476.0,235.1 476.5,235.8 477.0,236.8 477.5,237.8 478.0,238.8 478.5,239.9 479.0,241.0 479.5,241.9 480.0,242.8 480.5,243.7 481.0,244.4 481.5,245.0 482.0,245.2 482.5,245.4 483.0,245.6 483.5,245.7 484.0,245.6 484.5,245.1 485.0,244.2 485.5,243.3 486.0,242.2 486.5,240.9 487.0,239.5 487.5,237.9 488.0,236.1 488.5,234.4 489.0,233.0 489.5,231.9 490.0,230.6 490.5,228.3 491.0,225.6 491.5,223.8 492.0,222.6 492.5,221.7 493.0,221.0 493.5,220.4 494.0,219.9 494.5,219.5 495.0,219.1 495.5,218.8 496.0,218.6 496.5,218.6 497.0,218.9 497.5,219.4 498.0,220.0 498.5,220.6 499.0,221.3 499.5,222.0 500.0,222.9 500.5,224.0 501.0,225.1 501.5,226.2 502.0,227.3 502.5,228.6 503.0,229.8 503.5,231.1 504.0,232.4 504.5,233.7 505.0,235.0 505.5,236.2 506.0,237.5 506.5,238.6 507.0,239.7 507.5,240.8 508.0,241.8 508.5,242.7 509.0,243.5 509.5,244.3 510.0,245.0 510.5,245.6 511.0,246.1 511.5,246.4 512.0,246.7 512.5,246.9 513.0,247.1 513.5,247.3 514.0,247.5 514.5,247.7 515.0,247.8 515.5,247.9 516.0,248.0 516.5,248.1 517.0,248.1 517.5,248.2 518.0,248.3 518.5,248.3 519.0,248.4 519.5,248.4 520.0,248.4 520.5,248.4 521.0,248.4 521.5,248.4 522.0,248.4 522.5,248.4 523.0,248.4 523.5,248.4 524.0,248.4 524.5,248.4 525.0,248.4 525.5,248.4 526.0,248.4 526.5,248.4 527.0,248.4 527.5,248.5 528.0,248.5 528.5,248.6 529.0,248.7 529.5,248.8 530.0,248.9 530.5,249.0 531.0,249.1 531.5,249.3 532.0,249.4 532.5,249.5 533.0,249.6 533.5,249.8 534.0,249.9 534.5,250.0 535.0,250.2 535.5,250.4 536.0,250.6 536.5,250.7 537.0,250.9 537.5,251.1 538.0,251.3 538.5,251.5 539.0,251.7 539.5,251.8 540.0,252.0 540.5,252.2 541.0,252.3 541.5,252.5 542.0,252.6 542.5,252.8 543.0,253.0 543.5,253.1 544.0,253.3 544.5,253.4 545.0,253.6 545.5,253.8 546.0,253.9 546.5,254.1 547.0,254.2 547.5,254.4 548.0,254.5 548.5,254.7 549.0,254.8 549.5,254.9 550.0,255.1 550.5,255.2 551.0,255.4 551.5,255.5 552.0,255.7 552.5,255.8 553.0,256.0 553.5,256.1 554.0,256.3 554.5,256.5 555.0,256.6 555.5,256.8 556.0,256.9 556.5,257.1 557.0,257.3 557.5,257.5 558.0,257.6 558.5,257.8 559.0,258.0 559.5,258.2 560.0,258.4 560.5,258.6 561.0,258.7 561.5,259.0 562.0,259.2 562.5,259.4 563.0,259.6 563.5,259.9 564.0,260.1 564.5,260.4 565.0,260.6 565.5,260.8 566.0,261.1 566.5,261.3 567.0,261.5 567.5,261.7 568.0,261.9 568.5,262.1 569.0,262.3 569.5,262.5 570.0,262.7 570.5,262.9 571.0,263.0 571.5,263.2 572.0,263.4 572.5,263.6 573.0,263.7 573.5,263.9 574.0,264.0 574.5,264.2 575.0,264.4 575.5,264.5 576.0,264.7 576.5,264.9 577.0,265.1 577.5,265.2 578.0,265.3 578.5,265.3 579.0,265.3 579.5,265.2 580.0,265.1 580.5,264.9 581.0,264.8 581.5,264.6 582.0,264.4 582.5,264.2 583.0,264.0 583.5,263.9 584.0,263.8 584.5,263.7 585.0,263.6 585.5,263.4 586.0,263.3 586.5,263.2 587.0,263.1 587.5,263.0 588.0,262.9 588.5,262.8 589.0,262.8 589.5,262.7 590.0,262.7 590.5,262.6 591.0,262.6 591.5,262.6 592.0,262.6 592.5,262.6 593.0,262.6 593.5,262.6 594.0,262.6 594.5,262.6 595.0,262.6 595.5,262.6 596.0,262.6 596.5,262.6 597.0,262.5 597.5,262.5 598.0,262.5 598.5,262.5 599.0,262.5 599.5,262.5 600.0,262.5 600.5,262.4 601.0,262.4 601.5,262.4 602.0,262.4 602.5,262.3 603.0,262.3 603.5,262.3 604.0,262.3 604.5,262.2 605.0,262.2 605.5,262.2 606.0,262.2 606.5,262.2 607.0,262.2 607.5,262.2 608.0,262.3 608.5,262.3 609.0,262.3 609.5,262.3 610.0,262.4 610.5,262.4 611.0,262.5 611.5,262.5 612.0,262.6 612.5,262.6 613.0,262.7 613.5,262.7 614.0,262.8 614.5,262.8 615.0,262.9 615.5,263.0 616.0,263.0 616.5,263.1 617.0,263.2 617.5,263.3 618.0,263.4 618.5,263.5 619.0,263.6 619.5,263.7 620.0,263.8 620.5,263.9 621.0,264.0 621.5,264.1 622.0,264.2 622.5,264.3 623.0,264.4 623.5,264.5 624.0,264.6 624.5,264.7 625.0,264.8 625.5,264.9 626.0,265.0 626.5,265.1 627.0,265.2 627.5,265.2 628.0,265.3 628.5,265.3 629.0,265.3 629.5,265.3 630.0,265.3 630.5,265.2 631.0,265.2 631.5,265.1 632.0,265.1 632.5,265.0 633.0,265.0 633.5,264.9 634.0,264.8 634.5,264.8 635.0,264.7 635.5,264.6 636.0,264.5 636.5,264.5 637.0,264.4 637.5,264.3 638.0,264.1 638.5,264.0 639.0,263.9 639.5,263.7 640.0,263.6 640.5,263.4 641.0,263.3 641.5,263.1 642.0,263.0 642.5,262.8 643.0,262.7 643.5,262.6 644.0,262.5 644.5,262.3 645.0,262.2 645.5,262.1 646.0,262.0 646.5,261.9 647.0,261.8 647.5,261.7 648.0,261.6 648.5,261.5 649.0,261.4 649.5,261.3 650.0,261.2 650.5,261.1 651.0,261.0 651.5,261.0 652.0,260.9 652.5,260.8" fill="none" stroke="#0000ff" stroke-width="2.25" stroke-linejoin="round" stroke-linecap="butt"/>
<polyline points="61.5,251.0 62.0,251.3 62.5,251.5 63.0,251.8 63.5,252.0 64.0,252.3 64.5,252.6 65.0,253.0 65.5,253.3 66.0,253.6 66.5,253.8 67.0,254.1 67.5,254.4 68.0,254.6 68.5,254.8 69.0,255.0 69.5,255.2 70.0,255.5 70.5,255.7 71.0,255.9 71.5,256.0 72.0,256.2 72.5,256.4 73.0,256.5 73.5,256.7 74.0,256.8 74.5,256.9 75.0,257.0 75.5,257.1 76.0,257.2 76.5,257.3 77.0,257.4 77.5,257.5 78.0,257.6 78.5,257.6 79.0,257.7 79.5,257.7 80.0,257.7 80.5,257.7 81.0,257.7 81.5,257.7 82.0,257.7 82.5,257.7 83.0,257.7 83.5,257.7 84.0,257.7 84.5,257.7 85.0,257.7 85.5,257.7 86.0,257.7 86.5,257.7 87.0,257.6 87.5,257.6 88.0,257.5 88.5,257.4 89.0,257.3 89.5,257.2 90.0,257.1 90.5,257.0 91.0,256.9 91.5,256.8 92.0,256.7 92.5,256.5 93.0,256.4 93.5,256.2 94.0,256.0 94.5,255.8 95.0,255.6 95.5,255.4 96.0,255.2 96.5,255.0 97.0,254.8 97.5,254.6 98.0,254.4 98.5,254.2 99.0,254.0 99.5,253.8 100.0,253.6 100.5,253.4 101.0,253.2 101.5,253.0 102.0,252.8 102.5,252.6 103.0,252.5 103.5,252.3 104.0,252.1 104.5,252.0 105.0,251.8 105.5,251.7 106.0,251.5 106.5,251.4 107.0,251.2 107.5,251.1 108.0,251.0 108.5,250.9 109.0,250.8 109.5,250.7 110.0,250.6 110.5,250.6 111.0,250.5 111.5,250.5 112.0,250.4 112.5,250.4 113.0,250.4 113.5,250.4 114.0,250.3 114.5,250.3 115.0,250.3 115.5,250.2 116.0,250.2 116.5,250.2 117.0,250.2 117.5,250.1 118.0,250.1 118.5,250.1 119.0,250.0 119.5,250.0 120.0,250.0 120.5,250.0 121.0,249.9 121.5,249.9 122.0,249.8 122.5,249.8 123.0,249.7 123.5,249.6 124.0,249.5 124.5,249.4 125.0,249.3 125.5,249.2 126.0,249.0 126.5,248.9 127.0,248.7 127.5,248.6 128.0,248.4 128.5,248.3 129.0,248.1 129.5,247.9 130.0,247.7 130.5,247.4 131.0,247.2 131.5,246.9 132.0,246.7 132.5,246.4 133.0,246.1 133.5,245.9 134.0,245.6 134.5,245.3 135.0,245.0 135.5,244.7 136.0,244.3 136.5,244.0 137.0,243.6 137.5,243.3 138.0,242.9 138.5,242.6 139.0,242.2 139.5,242.0 140.0,241.7 140.5,241.5 141.0,241.3 141.5,241.1 142.0,241.0 142.5,240.8 143.0,240.6 143.5,240.5 144.0,240.4 144.5,240.2 145.0,240.1 145.5,240.1 146.0,240.0 146.5,240.0 147.0,240.0 147.5,240.1 148.0,240.2 148.5,240.4 149.0,240.5 149.5,240.7 150.0,240.8 150.5,240.9 151.0,241.0 151.5,241.0 152.0,240.9 152.5,240.8 153.0,240.7 153.5,240.5 154.0,240.2 154.5,240.0 155.0,239.7 155.5,239.5 156.0,239.2 156.5,238.9 157.0,238.5 157.5,238.1 158.0,237.6 158.5,237.1 159.0,236.6 159.5,236.0 160.0,235.5 160.5,234.9 161.0,234.4 161.5,233.9 162.0,233.4 162.5,232.9 163.0,232.4 163.5,231.9 164.0,231.4 164.5,230.8 165.0,230.3 165.5,229.7 166.0,229.2 166.5,228.6 167.0,228.0 167.5,227.4 168.0,226.7 168.5,226.0 169.0,225.2 169.5,224.4 170.0,223.5 170.5,222.6 171.0,221.7 171.5,220.7 172.0,219.5 172.5,218.3 173.0,217.0 173.5,215.7 174.0,214.7 174.5,213.7 175.0,212.7 175.5,211.8 176.0,210.8 176.5,209.8 177.0,208.8 177.5,207.8 178.0,206.8 178.5,205.8 179.0,204.8 179.5,203.8 180.0,202.9 180.5,201.9 181.0,200.9 181.5,199.8 182.0,198.8 182.5,197.7 183.0,196.7 183.5,195.8 184.0,194.9 184.5,194.1 185.0,193.4 185.5,192.6 186.0,191.8 186.5,191.0 187.0,190.1 187.5,189.3 188.0,188.4 188.5,187.4 189.0,186.5 189.5,185.7 190.0,185.1 190.5,184.4 191.0,183.8 191.5,183.1 192.0,182.4 192.5,181.6 193.0,180.8 193.5,179.9 194.0,179.1 194.5,178.3 195.0,177.6 195.5,176.8 196.0,176.0 196.5,175.3 197.0,174.7 197.5,174.2 198.0,173.8 198.5,173.4 199.0,173.1 199.5,172.8 200.0,172.5 200.5,172.3 201.0,172.0 201.5,171.8 202.0,171.6 202.5,171.4 203.0,171.3 203.5,171.3 204.0,171.5 204.5,171.7 205.0,171.9 205.5,172.1 206.0,172.3 206.5,172.3 207.0,172.4 207.5,172.4 208.0,172.5 208.5,172.5 209.0,172.5 209.5,171.5 210.0,169.4 210.5,166.7 211.0,163.7 211.5,159.1 212.0,153.9 212.5,149.2 213.0,144.4 213.5,139.7 214.0,135.6 214.5,131.7 215.0,128.0 215.5,124.2 216.0,120.5 216.5,116.9 217.0,113.5 217.5,110.0 218.0,105.9 218.5,102.0 219.0,98.7 219.5,95.7 220.0,92.9 220.5,90.2 221.0,87.8 221.5,85.8 222.0,84.0 222.5,82.8 223.0,82.1 223.5,81.8 224.0,82.0 224.5,82.6 225.0,83.3 225.5,84.6 226.0,86.3 226.5,88.1 227.0,90.2 227.5,92.5 228.0,94.9 228.5,97.4 229.0,100.9 229.5,107.0 230.0,111.3 230.5,113.7 231.0,115.6 231.5,117.6 232.0,120.1 232.5,123.1 233.0,126.4 233.5,129.4 234.0,132.2 234.5,134.7 235.0,137.1 235.5,139.3 236.0,141.2 236.5,143.1 237.0,145.2 237.5,147.6 238.0,150.1 238.5,152.5 239.0,154.8 239.5,157.0 240.0,159.3 240.5,161.7 241.0,164.0 241.5,166.4 242.0,168.8 242.5,171.2 243.0,173.8 243.5,176.5 244.0,179.0 244.5,181.2 245.0,183.1 245.5,184.8 246.0,186.2 246.5,187.0 247.0,187.5 247.5,188.0 248.0,188.4 248.5,188.6 249.0,188.8 249.5,188.8 250.0,188.5 250.5,188.0 251.0,187.3 251.5,186.6 252.0,186.0 252.5,185.5 253.0,184.8 253.5,184.2 254.0,183.6 254.5,183.2 255.0,183.1 255.5,183.3 256.0,183.8 256.5,184.5 257.0,185.1 257.5,185.9 258.0,186.8 258.5,187.9 259.0,189.2 259.5,190.7 260.0,192.9 260.5,195.5 261.0,198.2 261.5,200.4 262.0,202.2 262.5,203.8 263.0,205.4 263.5,207.0 264.0,208.7 264.5,210.7 265.0,212.8 265.5,215.1 266.0,217.5 266.5,219.9 267.0,222.3 267.5,224.9 268.0,227.8 268.5,230.4 269.0,232.3 269.5,233.5 270.0,234.5 270.5,235.4 271.0,236.1 271.5,236.7 272.0,237.2 272.5,237.6 273.0,238.0 273.5,238.3 274.0,238.6 274.5,238.8 275.0,239.1 275.5,239.3 276.0,239.6 276.5,239.8 277.0,240.1 277.5,240.4 278.0,240.7 278.5,240.9 279.0,241.2 279.5,241.4 280.0,241.7 280.5,241.9 281.0,242.1 281.5,242.4 282.0,242.6 282.5,242.8 283.0,243.0 283.5,243.1 284.0,243.3 284.5,243.5 285.0,243.6 285.5,243.8 286.0,244.0 286.5,244.1 287.0,244.3 287.5,244.4 288.0,244.6 288.5,244.8 289.0,244.9 289.5,245.1 290.0,245.2 290.5,245.4 291.0,245.5 291.5,245.7 292.0,245.9 292.5,246.0 293.0,246.2 293.5,246.4 294.0,246.6 294.5,246.9 295.0,247.1 295.5,247.4 296.0,247.7 296.5,248.0 297.0,248.2 297.5,248.5 298.0,248.8 298.5,249.0 299.0,249.2 299.5,249.4 300.0,249.6 300.5,249.7 301.0,249.9 301.5,250.0 302.0,250.1 302.5,250.3 303.0,250.4 303.5,250.5 304.0,250.6 304.5,250.7 305.0,250.9 305.5,251.0 306.0,251.2 306.5,251.3 307.0,251.5 307.5,251.7 308.0,251.9 308.5,252.0 309.0,252.2 309.5,252.3 310.0,252.5 310.5,252.6 311.0,252.7 311.5,252.8 312.0,252.9 312.5,253.0 313.0,253.1 313.5,253.2 314.0,253.2 314.5,253.3 315.0,253.4 315.5,253.4 316.0,253.4 316.5,253.3 317.0,253.2 317.5,253.0 318.0,252.7 318.5,252.3 319.0,251.9 319.5,251.5 320.0,251.1 320.5,250.7 321.0,250.2 321.5,249.7 322.0,249.0 322.5,248.4 323.0,247.7 323.5,247.0 324.0,246.4 324.5,245.8 325.0,245.3 325.5,244.9 326.0,244.4 326.5,244.0 327.0,243.6 327.5,243.3 328.0,243.0 328.5,242.8 329.0,242.6 329.5,242.4 330.0,242.2 330.5,242.1 331.0,242.0 331.5,241.9 332.0,241.9 332.5,242.0 333.0,242.1 333.5,242.3 334.0,242.6 334.5,242.9 335.0,243.3 335.5,243.7 336.0,244.3 336.5,245.1 337.0,246.0 337.5,247.0 338.0,247.9 338.5,248.7 339.0,249.6 339.5,250.4 340.0,251.2 340.5,252.0 341.0,252.6 341.5,253.2 342.0,253.7 342.5,254.2 343.0,254.6 343.5,255.0 344.0,255.2 344.5,255.2 345.0,255.1 345.5,255.0 346.0,254.8 346.5,254.5 347.0,254.3 347.5,254.0 348.0,253.6 348.5,253.1 349.0,252.5 349.5,252.0 350.0,251.5 350.5,251.1 351.0,250.9 351.5,250.8 352.0,250.8 352.5,250.9 353.0,251.1 353.5,251.3 354.0,251.5 354.5,251.7 355.0,251.9 355.5,252.1 356.0,252.3 356.5,252.5 357.0,252.7 357.5,252.9 358.0,253.0 358.5,253.2 359.0,253.4 359.5,253.6 360.0,253.7 360.5,253.9 361.0,254.0 361.5,254.2 362.0,254.3 362.5,254.4 363.0,254.5 363.5,254.6 364.0,254.7 364.5,254.8 365.0,254.9 365.5,255.0 366.0,255.1 366.5,255.2 367.0,255.2 367.5,255.2 368.0,255.2 368.5,255.1 369.0,255.1 369.5,255.0 370.0,254.9 370.5,254.8 371.0,254.7 371.5,254.6 372.0,254.5 372.5,254.4 373.0,254.3 373.5,254.3 374.0,254.2 374.5,254.1 375.0,254.0 375.5,253.9 376.0,253.8 376.5,253.8 377.0,253.7 377.5,253.6 378.0,253.6 378.5,253.5 379.0,253.5 379.5,253.5 380.0,253.5 380.5,253.6 381.0,253.7 381.5,253.8 382.0,254.0 382.5,254.2 383.0,254.4 383.5,254.7 384.0,254.9 384.5,255.2 385.0,255.6 385.5,256.0 386.0,256.4 386.5,256.9 387.0,257.4 387.5,257.8 388.0,258.3 388.5,258.7 389.0,259.0 389.5,259.4 390.0,259.8 390.5,260.2 391.0,260.6 391.5,260.9 392.0,261.2 392.5,261.5 393.0,261.7 393.5,261.9 394.0,262.1 394.5,262.4 395.0,262.6 395.5,262.7 396.0,262.9 396.5,263.0 397.0,263.0 397.5,263.0 398.0,262.9 398.5,262.7 399.0,262.5 399.5,262.3 400.0,262.1 400.5,261.9 401.0,261.8 401.5,261.7 402.0,261.6 402.5,261.5 403.0,261.4 403.5,261.3 404.0,261.2 404.5,261.2 405.0,261.1 405.5,261.0 406.0,260.9 406.5,260.9 407.0,260.8 407.5,260.7 408.0,260.6 408.5,260.5 409.0,260.4 409.5,260.3 410.0,260.2 410.5,260.2 411.0,260.1 411.5,260.1 412.0,260.0 412.5,260.0 413.0,259.9 413.5,259.9 414.0,259.9 414.5,259.9 415.0,259.8 415.5,259.8 416.0,259.7 416.5,259.6 417.0,259.5 417.5,259.4 418.0,259.2 418.5,259.0 419.0,258.8 419.5,258.7 420.0,258.5 420.5,258.4 421.0,258.4 421.5,258.4 422.0,258.4 422.5,258.5 423.0,258.5 423.5,258.5 424.0,258.6 424.5,258.6 425.0,258.7 425.5,258.8 426.0,258.8 426.5,258.9 427.0,259.0 427.5,259.1 428.0,259.2 428.5,259.3 429.0,259.4 429.5,259.5 430.0,259.6 430.5,259.6 431.0,259.7 431.5,259.8 432.0,259.8 432.5,259.9 433.0,259.9 433.5,260.0 434.0,260.0 434.5,260.1 435.0,260.1 435.5,260.1 436.0,260.1 436.5,260.0 437.0,259.9 437.5,259.8 438.0,259.6 438.5,259.4 439.0,259.2 439.5,259.0 440.0,258.7 440.5,258.5 441.0,258.3 441.5,258.0 442.0,257.7 442.5,257.4 443.0,257.1 443.5,256.8 444.0,256.4 444.5,256.0 445.0,255.6 445.5,255.3 446.0,254.9 446.5,254.4 447.0,253.9 447.5,253.4 448.0,252.8 448.5,252.3 449.0,251.7 449.5,251.2 450.0,250.7 450.5,250.3 451.0,249.9 451.5,249.5 452.0,249.1 452.5,248.7 453.0,248.3 453.5,248.0 454.0,247.7 454.5,247.4 455.0,247.1 455.5,246.9 456.0,246.7 456.5,246.5 457.0,246.4 457.5,246.2 458.0,246.2 458.5,246.3 459.0,246.5 459.5,246.7 460.0,247.0 460.5,247.2 461.0,247.3 461.5,247.3 462.0,247.3 462.5,247.3 463.0,247.3 463.5,247.3 464.0,247.3 464.5,247.3 465.0,247.2 465.5,247.1 466.0,246.8 466.5,246.5 467.0,246.2 467.5,245.8 468.0,245.5 468.5,245.1 469.0,244.7 469.5,244.3 470.0,243.8 470.5,243.4 471.0,242.9 471.5,242.4 472.0,242.0 472.5,241.5 473.0,241.0 473.5,240.4 474.0,239.9 474.5,239.4 475.0,238.8 475.5,238.3 476.0,237.7 476.5,237.1 477.0,236.5 477.5,235.9 478.0,235.2 478.5,234.6 479.0,233.9 479.5,233.2 480.0,232.5 480.5,231.8 481.0,231.2 481.5,230.5 482.0,229.8 482.5,229.1 483.0,228.4 483.5,227.8 484.0,227.2 484.5,226.5 485.0,225.9 485.5,225.4 486.0,224.8 486.5,224.2 487.0,223.7 487.5,223.2 488.0,222.6 488.5,222.2 489.0,221.8 489.5,221.4 490.0,221.1 490.5,221.0 491.0,221.1 491.5,221.3 492.0,221.6 492.5,221.9 493.0,222.2 493.5,222.5 494.0,222.9 494.5,223.4 495.0,224.0 495.5,224.9 496.0,225.9 496.5,226.9 497.0,228.1 497.5,229.3 498.0,230.7 498.5,232.1 499.0,233.5 499.5,234.9 500.0,236.2 500.5,237.4 501.0,238.6 501.5,239.7 502.0,240.7 502.5,241.6 503.0,242.3 503.5,243.0 504.0,243.6 504.5,244.1 505.0,244.4 505.5,244.4 506.0,244.4 506.5,244.4 507.0,244.4 507.5,244.4 508.0,244.4 508.5,244.4 509.0,244.4 509.5,244.3 510.0,244.1 510.5,243.8 511.0,243.6 511.5,243.4 512.0,243.2 512.5,243.2 513.0,243.2 513.5,243.2 514.0,243.3 514.5,243.3 515.0,243.4 515.5,243.4 516.0,243.5 516.5,243.6 517.0,243.9 517.5,244.2 518.0,244.5 518.5,244.9 519.0,245.3 519.5,245.7 520.0,246.0 520.5,246.2 521.0,246.5 521.5,246.7 522.0,246.9 522.5,247.1 523.0,247.2 523.5,247.4 524.0,247.6 524.5,247.8 525.0,248.0 525.5,248.1 526.0,248.4 526.5,248.6 527.0,248.8 527.5,249.0 528.0,249.3 528.5,249.5 529.0,249.8 529.5,250.1 530.0,250.3 530.5,250.6 531.0,250.9 531.5,251.1 532.0,251.4 532.5,251.7 533.0,252.0 533.5,252.2 534.0,252.5 534.5,252.9 535.0,253.2 535.5,253.5 536.0,253.8 536.5,254.1 537.0,254.4 537.5,254.7 538.0,255.0 538.5,255.3 539.0,255.5 539.5,255.7 540.0,255.9 540.5,256.2 541.0,256.4 541.5,256.6 542.0,256.8 542.5,257.0 543.0,257.1 543.5,257.3 544.0,257.4 544.5,257.5 545.0,257.7 545.5,257.8 546.0,257.9 546.5,258.0 547.0,258.1 547.5,258.1 548.0,258.2 548.5,258.3 549.0,258.4 549.5,258.5 550.0,258.5 550.5,258.6 551.0,258.7 551.5,258.8 552.0,258.8 552.5,258.9 553.0,259.0 553.5,259.0 554.0,259.1 554.5,259.1 555.0,259.2 555.5,259.3 556.0,259.3 556.5,259.4 557.0,259.4 557.5,259.5 558.0,259.5 558.5,259.6 559.0,259.7 559.5,259.7 560.0,259.8 560.5,259.9 561.0,259.9 561.5,260.0 562.0,260.1 562.5,260.1 563.0,260.2 563.5,260.3 564.0,260.3 564.5,260.4 565.0,260.5 565.5,260.5 566.0,260.6 566.5,260.7 567.0,260.7 567.5,260.8 568.0,260.9 568.5,260.9 569.0,261.0 569.5,261.1 570.0,261.2 570.5,261.2 571.0,261.3 571.5,261.4 572.0,261.5 572.5,261.5 573.0,261.6 573.5,261.7 574.0,261.7 574.5,261.8 575.0,261.8 575.5,261.9 576.0,261.9 576.5,261.9 577.0,261.9 577.5,262.0 578.0,262.0 578.5,262.0 579.0,262.0 579.5,262.0 580.0,262.0 580.5,262.0 581.0,262.1 581.5,262.1 582.0,262.1 582.5,262.1 583.0,262.1 583.5,262.2 584.0,262.2 584.5,262.2 585.0,262.2 585.5,262.3 586.0,262.3 586.5,262.3 587.0,262.4 587.5,262.4 588.0,262.5 588.5,262.5 589.0,262.5 589.5,262.6 590.0,262.6 590.5,262.6 591.0,262.6 591.5,262.7 592.0,262.7 592.5,262.7 593.0,262.8 593.5,262.8 594.0,262.8 594.5,262.8 595.0,262.9 595.5,262.9 596.0,262.9 596.5,262.9 597.0,263.0 597.5,263.0 598.0,263.0 598.5,263.0 599.0,263.0 599.5,263.1 600.0,263.1 600.5,263.1 601.0,263.1 601.5,263.1 602.0,263.2 602.5,263.2 603.0,263.2 603.5,263.2 604.0,263.3 604.5,263.3 605.0,263.3 605.5,263.4 606.0,263.4 606.5,263.5 607.0,263.5 607.5,263.6 608.0,263.7 608.5,263.8 609.0,263.9 609.5,264.1 610.0,264.2 610.5,264.3 611.0,264.5 611.5,264.6 612.0,264.7 612.5,264.8 613.0,264.9 613.5,265.0 614.0,265.1 614.5,265.2 615.0,265.3 615.5,265.3 616.0,265.4 616.5,265.5 617.0,265.6 617.5,265.7 618.0,265.8 618.5,265.8 619.0,265.9 619.5,265.9 620.0,266.0 620.5,266.0 621.0,266.0 621.5,266.0 622.0,266.0 622.5,266.0 623.0,266.0 623.5,266.0 624.0,265.9 624.5,265.9 625.0,265.9 625.5,265.9 626.0,265.9 626.5,265.8 627.0,265.8 627.5,265.8 628.0,265.7 628.5,265.7 629.0,265.7 629.5,265.6 630.0,265.6 630.5,265.5 631.0,265.4 631.5,265.3 632.0,265.2 632.5,265.1 633.0,265.0 633.5,264.9 634.0,264.8 634.5,264.7 635.0,264.6 635.5,264.6 636.0,264.5 636.5,264.5 637.0,264.4 637.5,264.4 638.0,264.4 638.5,264.3 639.0,264.3 639.5,264.3 640.0,264.2 640.5,264.2 641.0,264.2 641.5,264.2 642.0,264.1 642.5,264.1 643.0,264.1 643.5,264.0 644.0,264.0 644.5,263.9 645.0,263.9 645.5,263.8 646.0,263.8 646.5,263.7 647.0,263.6 647.5,263.6 648.0,263.5 648.5,263.4 649.0,263.3 649.5,263.3 650.0,263.2 650.5,263.1 651.0,263.0 651.5,263.0 652.0,262.9 652.5,262.8" fill="none" stroke="#ff0000" stroke-width="2.25" stroke-linejoin="round" stroke-linecap="butt"/>
<polyline points="61.5,253.8 62.0,253.7 62.5,253.5 63.0,253.4 63.5,253.3 64.0,253.1 64.5,253.0 65.0,252.8 65.5,252.6 66.0,252.4 66.5,252.2 67.0,251.9 67.5,251.6 68.0,251.3 68.5,250.9 69.0,250.5 69.5,250.0 70.0,249.6 70.5,249.1 71.0,248.7 71.5,248.2 72.0,247.8 72.5,247.4 73.0,247.0 73.5,246.5 74.0,246.2 74.5,245.9 75.0,245.6 75.5,245.3 76.0,245.1 76.5,244.9 77.0,244.7 77.5,244.5 78.0,244.4 78.5,244.4 79.0,244.4 79.5,244.4 80.0,244.4 80.5,244.4 81.0,244.5 81.5,244.5 82.0,244.5 82.5,244.5 83.0,244.6 83.5,244.7 84.0,244.9 84.5,245.0 85.0,245.1 85.5,245.2 86.0,245.3 86.5,245.4 87.0,245.5 87.5,245.6 88.0,245.7 88.5,245.8 89.0,245.9 89.5,246.0 90.0,246.1 90.5,246.2 91.0,246.3 91.5,246.4 92.0,246.5 92.5,246.6 93.0,246.7 93.5,246.8 94.0,246.9 94.5,247.0 95.0,247.1 95.5,247.2 96.0,247.3 96.5,247.3 97.0,247.4 97.5,247.5 98.0,247.6 98.5,247.7 99.0,247.8 99.5,247.9 100.0,248.0 100.5,248.1 101.0,248.2 101.5,248.3 102.0,248.4 102.5,248.4 103.0,248.5 103.5,248.6 104.0,248.6 104.5,248.6 105.0,248.6 105.5,248.7 106.0,248.7 106.5,248.7 107.0,248.7 107.5,248.7 108.0,248.7 108.5,248.7 109.0,248.8 109.5,248.8 110.0,248.8 110.5,248.8 111.0,248.9 111.5,248.9 112.0,249.0 112.5,249.1 113.0,249.2 113.5,249.2 114.0,249.3 114.5,249.4 115.0,249.4 115.5,249.5 116.0,249.5 116.5,249.5 117.0,249.4 117.5,249.4 118.0,249.2 118.5,249.1 119.0,248.9 119.5,248.8 120.0,248.6 120.5,248.4 121.0,248.2 121.5,248.0 122.0,247.8 122.5,247.5 123.0,247.3 123.5,247.0 124.0,246.7 124.5,246.4 125.0,246.2 125.5,245.9 126.0,245.7 126.5,245.4 127.0,245.2 127.5,245.0 128.0,244.7 128.5,244.5 129.0,244.3 129.5,244.0 130.0,243.7 130.5,243.5 131.0,243.2 131.5,242.9 132.0,242.6 132.5,242.3 133.0,241.9 133.5,241.6 134.0,241.3 134.5,241.0 135.0,240.6 135.5,240.3 136.0,240.0 136.5,239.7 137.0,239.4 137.5,239.1 138.0,238.8 138.5,238.5 139.0,238.2 139.5,237.8 140.0,237.5 140.5,237.2 141.0,236.9 141.5,236.5 142.0,236.2 142.5,235.8 143.0,235.5 143.5,235.1 144.0,234.7 144.5,234.4 145.0,234.0 145.5,233.6 146.0,233.2 146.5,232.8 147.0,232.4 147.5,232.0 148.0,231.6 148.5,231.2 149.0,230.7 149.5,230.3 150.0,229.9 150.5,229.4 151.0,229.0 151.5,228.5 152.0,228.1 152.5,227.7 153.0,227.2 153.5,226.8 154.0,226.3 154.5,225.8 155.0,225.4 155.5,224.9 156.0,224.5 156.5,224.2 157.0,223.9 157.5,223.6 158.0,223.4 158.5,223.2 159.0,223.0 159.5,222.8 160.0,222.6 160.5,222.4 161.0,222.3 161.5,222.1 162.0,221.9 162.5,221.7 163.0,221.5 163.5,221.3 164.0,221.1 164.5,220.9 165.0,220.6 165.5,220.4 166.0,220.2 166.5,219.9 167.0,219.6 167.5,219.2 168.0,218.8 168.5,218.2 169.0,217.5 169.5,216.7 170.0,215.9 170.5,215.1 171.0,214.3 171.5,213.5 172.0,212.8 172.5,211.9 173.0,211.1 173.5,210.2 174.0,209.4 174.5,208.6 175.0,207.8 175.5,207.1 176.0,206.5 176.5,205.8 177.0,205.2 177.5,204.7 178.0,204.1 178.5,203.6 179.0,203.0 179.5,202.5 180.0,202.0 180.5,201.5 181.0,201.1 181.5,200.7 182.0,200.2 182.5,199.7 183.0,199.2 183.5,198.7 184.0,198.0 184.5,197.4 185.0,196.7 185.5,196.0 186.0,195.3 186.5,194.5 187.0,193.7 187.5,192.9 188.0,192.0 188.5,191.0 189.0,189.9 189.5,188.6 190.0,187.2 190.5,185.7 191.0,184.0 191.5,182.1 192.0,179.8 192.5,177.4 193.0,175.0 193.5,172.5 194.0,169.9 194.5,167.3 195.0,165.0 195.5,163.0 196.0,161.1 196.5,159.3 197.0,157.6 197.5,156.0 198.0,154.4 198.5,152.7 199.0,151.2 199.5,149.7 200.0,148.4 200.5,147.3 201.0,146.2 201.5,145.1 202.0,144.2 202.5,143.4 203.0,143.0 203.5,142.9 204.0,142.9 204.5,142.9 205.0,143.0 205.5,143.0 206.0,143.3 206.5,143.7 207.0,144.0 207.5,143.9 208.0,143.7 208.5,143.3 209.0,142.9 209.5,142.3 210.0,141.8 210.5,141.2 211.0,140.7 211.5,140.1 212.0,139.5 212.5,138.8 213.0,138.1 213.5,137.4 214.0,136.8 214.5,136.3 215.0,135.8 215.5,135.4 216.0,134.9 216.5,134.6 217.0,134.3 217.5,134.2 218.0,134.4 218.5,134.9 219.0,135.6 219.5,136.4 220.0,137.3 220.5,138.2 221.0,139.1 221.5,140.1 222.0,141.2 222.5,142.3 223.0,143.5 223.5,144.6 224.0,145.6 224.5,146.8 225.0,147.9 225.5,149.0 226.0,150.0 226.5,150.9 227.0,151.6 227.5,152.2 228.0,152.7 228.5,153.3 229.0,153.9 229.5,154.7 230.0,155.6 230.5,156.8 231.0,158.1 231.5,159.6 232.0,161.5 232.5,163.5 233.0,165.7 233.5,167.8 234.0,169.9 234.5,172.1 235.0,174.1 235.5,176.0 236.0,177.7 236.5,179.3 237.0,180.5 237.5,181.3 238.0,182.0 238.5,182.5 239.0,183.1 239.5,183.6 240.0,184.3 240.5,185.0 241.0,185.7 241.5,186.5 242.0,187.2 242.5,187.9 243.0,188.5 243.5,189.1 244.0,189.7 244.5,190.2 245.0,190.6 245.5,191.0 246.0,191.3 246.5,191.7 247.0,192.0 247.5,192.3 248.0,192.7 248.5,193.2 249.0,193.8 249.5,194.5 250.0,195.3 250.5,196.1 251.0,197.1 251.5,198.2 252.0,199.5 252.5,201.0 253.0,202.5 253.5,204.1 254.0,205.6 254.5,207.0 255.0,208.5 255.5,210.0 256.0,211.5 256.5,213.1 257.0,214.7 257.5,216.4 258.0,218.0 258.5,219.7 259.0,221.5 259.5,223.2 260.0,224.8 260.5,226.0 261.0,227.0 261.5,228.0 262.0,228.9 262.5,229.5 263.0,229.9 263.5,230.0 264.0,229.9 264.5,229.7 265.0,229.5 265.5,229.2 266.0,229.0 266.5,228.7 267.0,228.5 267.5,228.4 268.0,228.2 268.5,228.0 269.0,227.8 269.5,227.7 270.0,227.6 270.5,227.5 271.0,227.5 271.5,227.6 272.0,227.7 272.5,228.0 273.0,228.3 273.5,228.6 274.0,228.9 274.5,229.3 275.0,229.6 275.5,230.1 276.0,230.6 276.5,231.2 277.0,231.8 277.5,232.3 278.0,232.8 278.5,233.2 279.0,233.5 279.5,233.9 280.0,234.2 280.5,234.5 281.0,234.8 281.5,235.0 282.0,235.1 282.5,235.1 283.0,235.0 283.5,235.0 284.0,234.8 284.5,234.7 285.0,234.5 285.5,234.4 286.0,234.2 286.5,234.1 287.0,233.9 287.5,233.8 288.0,233.6 288.5,233.4 289.0,233.3 289.5,233.2 290.0,233.2 290.5,233.3 291.0,233.5 291.5,233.8 292.0,234.1 292.5,234.5 293.0,234.8 293.5,235.0 294.0,235.2 294.5,235.3 295.0,235.4 295.5,235.5 296.0,235.5 296.5,235.6 297.0,235.7 297.5,235.8 298.0,235.9 298.5,236.1 299.0,236.5 299.5,237.1 300.0,237.9 300.5,238.8 301.0,239.5 301.5,240.2 302.0,241.1 302.5,241.8 303.0,242.4 303.5,242.6 304.0,242.6 304.5,242.6 305.0,242.6 305.5,242.6 306.0,242.6 306.5,242.3 307.0,241.3 307.5,239.9 308.0,238.5 308.5,237.2 309.0,235.8 309.5,234.3 310.0,232.7 310.5,230.8 311.0,228.8 311.5,226.9 312.0,225.1 312.5,223.5 313.0,221.9 313.5,220.2 314.0,218.4 314.5,216.4 315.0,214.5 315.5,212.7 316.0,211.1 316.5,209.7 317.0,208.2 317.5,206.5 318.0,204.4 318.5,201.9 319.0,199.1 319.5,196.2 320.0,193.1 320.5,190.0 321.0,186.8 321.5,183.3 322.0,179.7 322.5,176.0 323.0,172.2 323.5,168.6 324.0,165.0 324.5,161.7 325.0,158.6 325.5,155.5 326.0,152.3 326.5,148.8 327.0,144.9 327.5,140.1 328.0,134.4 328.5,128.2 329.0,122.0 329.5,116.1 330.0,110.2 330.5,103.3 331.0,93.7 331.5,80.0 332.0,66.3 332.5,56.7 333.0,49.5 333.5,44.1 334.0,39.9 334.5,36.6 335.0,33.8 335.5,31.3 336.0,29.5 336.5,28.1 337.0,27.1 337.5,26.8 338.0,27.3 338.5,28.3 339.0,29.5 339.5,31.0 340.0,33.1 340.5,35.7 341.0,39.3 341.5,43.3 342.0,46.8 342.5,50.0 343.0,53.6 343.5,57.9 344.0,64.1 344.5,73.8 345.0,85.1 345.5,96.1 346.0,105.3 346.5,113.7 347.0,121.8 347.5,130.0 348.0,138.4 348.5,145.2 349.0,150.7 349.5,155.6 350.0,160.0 350.5,164.2 351.0,168.2 351.5,172.2 352.0,175.9 352.5,179.5 353.0,183.0 353.5,186.4 354.0,189.7 354.5,193.1 355.0,196.6 355.5,200.0 356.0,203.3 356.5,206.5 357.0,209.5 357.5,212.2 358.0,214.9 358.5,217.3 359.0,219.4 359.5,221.2 360.0,222.9 360.5,224.1 361.0,224.3 361.5,223.9 362.0,223.3 362.5,222.5 363.0,221.4 363.5,220.1 364.0,218.7 364.5,217.1 365.0,215.2 365.5,213.2 366.0,211.1 366.5,208.9 367.0,206.7 367.5,204.6 368.0,202.5 368.5,200.6 369.0,198.8 369.5,197.0 370.0,195.2 370.5,193.5 371.0,191.8 371.5,190.1 372.0,188.5 372.5,187.0 373.0,185.5 373.5,184.0 374.0,182.5 374.5,181.1 375.0,180.0 375.5,179.3 376.0,178.6 376.5,178.2 377.0,178.0 377.5,178.1 378.0,178.4 378.5,178.8 379.0,179.3 379.5,179.9 380.0,180.8 380.5,181.9 381.0,183.3 381.5,185.0 382.0,187.0 382.5,189.3 383.0,191.6 383.5,194.1 384.0,196.5 384.5,198.9 385.0,201.3 385.5,203.9 386.0,206.6 386.5,209.2 387.0,211.8 387.5,214.3 388.0,216.8 388.5,219.4 389.0,221.8 389.5,223.9 390.0,225.6 390.5,227.1 391.0,228.4 391.5,229.6 392.0,230.7 392.5,231.7 393.0,232.6 393.5,233.4 394.0,234.2 394.5,234.9 395.0,235.5 395.5,236.1 396.0,236.6 396.5,237.2 397.0,237.7 397.5,238.2 398.0,238.7 398.5,239.2 399.0,239.7 399.5,240.2 400.0,240.7 400.5,241.1 401.0,241.6 401.5,242.1 402.0,242.6 402.5,243.1 403.0,243.7 403.5,244.3 404.0,245.0 404.5,245.7 405.0,246.5 405.5,247.2 406.0,247.9 406.5,248.7 407.0,249.4 407.5,250.1 408.0,250.9 408.5,251.7 409.0,252.5 409.5,253.2 410.0,253.9 410.5,254.5 411.0,255.0 411.5,255.4 412.0,255.8 412.5,256.1 413.0,256.4 413.5,256.5 414.0,256.5 414.5,256.4 415.0,256.2 415.5,256.0 416.0,255.8 416.5,255.6 417.0,255.4 417.5,255.2 418.0,255.0 418.5,254.8 419.0,254.6 419.5,254.4 420.0,254.2 420.5,254.0 421.0,253.8 421.5,253.6 422.0,253.5 422.5,253.5 423.0,253.5 423.5,253.5 424.0,253.6 424.5,253.7 425.0,253.8 425.5,253.9 426.0,254.0 426.5,254.1 427.0,254.2 427.5,254.3 428.0,254.4 428.5,254.4 429.0,254.5 429.5,254.6 430.0,254.7 430.5,254.8 431.0,254.8 431.5,254.9 432.0,255.0 432.5,255.1 433.0,255.2 433.5,255.3 434.0,255.4 434.5,255.5 435.0,255.7 435.5,255.8 436.0,255.9 436.5,255.9 437.0,256.0 437.5,256.0 438.0,256.0 438.5,255.9 439.0,255.9 439.5,255.8 440.0,255.7 440.5,255.7 441.0,255.6 441.5,255.5 442.0,255.5 442.5,255.5 443.0,255.5 443.5,255.5 444.0,255.5 444.5,255.5 445.0,255.5 445.5,255.5 446.0,255.5 446.5,255.5 447.0,255.5 447.5,255.5 448.0,255.5 448.5,255.4 449.0,255.4 449.5,255.3 450.0,255.2 450.5,255.2 451.0,255.1 451.5,255.0 452.0,254.9 452.5,254.9 453.0,254.8 453.5,254.8 454.0,254.7 454.5,254.7 455.0,254.6 455.5,254.5 456.0,254.5 456.5,254.3 457.0,254.2 457.5,253.5 458.0,252.1 458.5,251.8 459.0,251.5 459.5,251.3 460.0,251.2 460.5,251.0 461.0,250.9 461.5,250.8 462.0,250.6 462.5,250.4 463.0,250.1 463.5,249.8 464.0,249.5 464.5,249.2 465.0,248.9 465.5,248.5 466.0,248.2 466.5,247.9 467.0,247.5 467.5,247.2 468.0,246.9 468.5,246.6 469.0,246.2 469.5,245.9 470.0,245.6 470.5,245.3 471.0,245.0 471.5,244.8 472.0,244.5 472.5,244.3 473.0,244.0 473.5,243.8 474.0,243.6 474.5,243.3 475.0,243.1 475.5,242.9 476.0,242.6 476.5,242.4 477.0,242.1 477.5,241.9 478.0,241.6 478.5,241.3 479.0,241.1 479.5,240.8 480.0,240.5 480.5,240.2 481.0,239.9 481.5,239.6 482.0,239.3 482.5,238.9 483.0,238.6 483.5,238.3 484.0,238.0 484.5,237.7 485.0,237.3 485.5,237.0 486.0,236.7 486.5,236.4 487.0,236.1 487.5,235.7 488.0,235.4 488.5,235.0 489.0,234.7 489.5,234.5 490.0,234.4 490.5,234.4 491.0,234.4 491.5,234.3 492.0,234.3 492.5,234.3 493.0,234.3 493.5,234.2 494.0,234.0 494.5,233.7 495.0,233.4 495.5,233.0 496.0,232.7 496.5,232.4 497.0,232.1 497.5,232.0 498.0,232.0 498.5,232.0 499.0,232.1 499.5,232.1 500.0,232.2 500.5,232.3 501.0,232.3 501.5,232.4 502.0,232.4 502.5,232.5 503.0,232.6 503.5,232.6 504.0,232.7 504.5,232.7 505.0,232.8 505.5,232.9 506.0,232.9 506.5,233.0 507.0,233.1 507.5,233.2 508.0,233.3 508.5,233.3 509.0,233.4 509.5,233.6 510.0,233.7 510.5,233.8 511.0,233.9 511.5,234.1 512.0,234.3 512.5,234.6 513.0,234.9 513.5,235.2 514.0,235.5 514.5,235.9 515.0,236.2 515.5,236.6 516.0,237.0 516.5,237.4 517.0,237.8 517.5,238.2 518.0,238.6 518.5,239.1 519.0,239.6 519.5,240.0 520.0,240.5 520.5,240.9 521.0,241.3 521.5,241.7 522.0,242.1 522.5,242.4 523.0,242.8 523.5,243.1 524.0,243.5 524.5,243.8 525.0,244.1 525.5,244.4 526.0,244.6 526.5,244.9 527.0,245.2 527.5,245.5 528.0,245.8 528.5,246.0 529.0,246.3 529.5,246.6 530.0,246.9 530.5,247.1 531.0,247.4 531.5,247.7 532.0,247.9 532.5,248.2 533.0,248.5 533.5,248.7 534.0,249.0 534.5,249.3 535.0,249.5 535.5,249.8 536.0,250.1 536.5,250.4 537.0,250.6 537.5,250.9 538.0,251.1 538.5,251.4 539.0,251.6 539.5,251.8 540.0,252.0 540.5,252.2 541.0,252.4 541.5,252.6 542.0,252.8 542.5,252.9 543.0,253.1 543.5,253.3 544.0,253.4 544.5,253.6 545.0,253.7 545.5,253.8 546.0,254.0 546.5,254.1 547.0,254.2 547.5,254.3 548.0,254.4 548.5,254.5 549.0,254.6 549.5,254.6 550.0,254.7 550.5,254.8 551.0,254.9 551.5,254.9 552.0,255.0 552.5,255.1 553.0,255.1 553.5,255.2 554.0,255.3 554.5,255.3 555.0,255.4 555.5,255.5 556.0,255.5 556.5,255.6 557.0,255.6 557.5,255.7 558.0,255.7 558.5,255.8 559.0,255.8 559.5,255.9 560.0,255.9 560.5,256.0 561.0,256.0 561.5,256.1 562.0,256.1 562.5,256.2 563.0,256.2 563.5,256.2 564.0,256.3 564.5,256.3 565.0,256.4 565.5,256.4 566.0,256.5 566.5,256.5 567.0,256.6 567.5,256.6 568.0,256.7 568.5,256.7 569.0,256.8 569.5,256.9 570.0,256.9 570.5,257.0 571.0,257.1 571.5,257.2 572.0,257.3 572.5,257.4 573.0,257.5 573.5,257.6 574.0,257.7 574.5,257.8 575.0,257.9 575.5,258.0 576.0,258.1 576.5,258.3 577.0,258.4 577.5,258.6 578.0,258.7 578.5,258.9 579.0,259.0 579.5,259.2 580.0,259.4 580.5,259.5 581.0,259.7 581.5,259.8 582.0,260.0 582.5,260.1 583.0,260.2 583.5,260.3 584.0,260.4 584.5,260.4 585.0,260.5 585.5,260.6 586.0,260.7 586.5,260.7 587.0,260.8 587.5,260.8 588.0,260.9 588.5,260.9 589.0,261.0 589.5,261.0 590.0,261.1 590.5,261.1 591.0,261.2 591.5,261.2 592.0,261.2 592.5,261.2 593.0,261.3 593.5,261.3 594.0,261.3 594.5,261.4 595.0,261.4 595.5,261.4 596.0,261.4 596.5,261.4 597.0,261.5 597.5,261.5 598.0,261.5 598.5,261.5 599.0,261.6 599.5,261.6 600.0,261.6 600.5,261.6 601.0,261.7 601.5,261.7 602.0,261.7 602.5,261.7 603.0,261.8 603.5,261.8 604.0,261.8 604.5,261.8 605.0,261.9 605.5,261.9 606.0,261.9 606.5,261.9 607.0,261.9 607.5,261.9 608.0,262.0 608.5,262.0 609.0,262.0 609.5,262.0 610.0,262.0 610.5,262.0 611.0,262.0 611.5,262.1 612.0,262.1 612.5,262.1 613.0,262.1 613.5,262.1 614.0,262.1 614.5,262.1 615.0,262.1 615.5,262.1 616.0,262.2 616.5,262.2 617.0,262.2 617.5,262.2 618.0,262.2 618.5,262.2 619.0,262.2 619.5,262.2 620.0,262.2 620.5,262.2 621.0,262.2 621.5,262.2 622.0,262.2 622.5,262.2 623.0,262.2 623.5,262.2 624.0,262.2 624.5,262.2 625.0,262.2 625.5,262.2 626.0,262.2 626.5,262.1 627.0,262.1 627.5,262.1 628.0,262.1 628.5,262.1 629.0,262.1 629.5,262.1 630.0,262.1 630.5,262.1 631.0,262.1 631.5,262.0 632.0,262.0 632.5,262.0 633.0,262.0 633.5,262.0 634.0,262.0 634.5,262.0 635.0,261.9 635.5,261.9 636.0,261.9 636.5,261.9 637.0,261.9 637.5,261.9 638.0,261.8 638.5,261.8 639.0,261.8 639.5,261.8 640.0,261.7 640.5,261.7 641.0,261.7 641.5,261.6 642.0,261.6 642.5,261.6 643.0,261.5 643.5,261.5 644.0,261.5 644.5,261.5 645.0,261.4 645.5,261.4 646.0,261.3 646.5,261.3 647.0,261.2 647.5,261.2 648.0,261.2 648.5,261.1 649.0,261.1 649.5,261.1 650.0,261.0 650.5,261.0 651.0,261.0 651.5,261.0 652.0,261.0 652.5,261.0" fill="none" stroke="#008000" stroke-width="2.25" stroke-linejoin="round" stroke-linecap="butt"/>
</g>
<g stroke="#000" stroke-width="1.0" fill="none">
<line x1="135.38" y1="272.0" x2="135.38" y2="264.5"/>
<line x1="135.38" y1="0.5" x2="135.38" y2="8.0"/>
<line x1="209.25" y1="272.0" x2="209.25" y2="264.5"/>
<line x1="209.25" y1="0.5" x2="209.25" y2="8.0"/>
<line x1="283.12" y1="272.0" x2="283.12" y2="264.5"/>
<line x1="283.12" y1="0.5" x2="283.12" y2="8.0"/>
<line x1="357.00" y1="272.0" x2="357.00" y2="264.5"/>
<line x1="357.00" y1="0.5" x2="357.00" y2="8.0"/>
<line x1="430.88" y1="272.0" x2="430.88" y2="264.5"/>
<line x1="430.88" y1="0.5" x2="430.88" y2="8.0"/>
<line x1="504.75" y1="272.0" x2="504.75" y2="264.5"/>
<line x1="504.75" y1="0.5" x2="504.75" y2="8.0"/>
<line x1="578.62" y1="272.0" x2="578.62" y2="264.5"/>
<line x1="578.62" y1="0.5" x2="578.62" y2="8.0"/>
<line x1="61.5" y1="211.67" x2="69.5" y2="211.67"/>
<line x1="652.5" y1="211.67" x2="644.5" y2="211.67"/>
<line x1="61.5" y1="151.33" x2="69.5" y2="151.33"/>
<line x1="652.5" y1="151.33" x2="644.5" y2="151.33"/>
<line x1="61.5" y1="91.00" x2="69.5" y2="91.00"/>
<line x1="652.5" y1="91.00" x2="644.5" y2="91.00"/>
<line x1="61.5" y1="30.67" x2="69.5" y2="30.67"/>
<line x1="652.5" y1="30.67" x2="644.5" y2="30.67"/>
</g>
<rect x="61.5" y="0.5" width="591.00" height="271.50" fill="none" stroke="#000" stroke-width="1.0"/>
<g>
<text transform="translate(61.50,291) scale(1,1.06)" text-anchor="middle"><tspan font-family="DejaVu Sans">−</tspan>20</text>
<text transform="translate(135.38,291) scale(1,1.06)" text-anchor="middle"><tspan font-family="DejaVu Sans">−</tspan>15</text>
<text transform="translate(209.25,291) scale(1,1.06)" text-anchor="middle"><tspan font-family="DejaVu Sans">−</tspan>10</text>
<text transform="translate(283.12,291) scale(1,1.06)" text-anchor="middle"><tspan font-family="DejaVu Sans">−</tspan>5</text>
<text transform="translate(357.00,291) scale(1,1.06)" text-anchor="middle">0</text>
<text transform="translate(430.88,291) scale(1,1.06)" text-anchor="middle">5</text>
<text transform="translate(504.75,291) scale(1,1.06)" text-anchor="middle">10</text>
<text transform="translate(578.62,291) scale(1,1.06)" text-anchor="middle">15</text>
<text transform="translate(652.50,291) scale(1,1.06)" text-anchor="middle">20</text>
<text transform="translate(55.5,277.80) scale(1,1.06)" text-anchor="end">0.00</text>
<text transform="translate(55.5,217.47) scale(1,1.06)" text-anchor="end">0.04</text>
<text transform="translate(55.5,157.13) scale(1,1.06)" text-anchor="end">0.08</text>
<text transform="translate(55.5,96.80) scale(1,1.06)" text-anchor="end">0.12</text>
<text transform="translate(55.5,36.47) scale(1,1.06)" text-anchor="end">0.16</text>
</g>
<text transform="translate(351.2,312.5) scale(1,1.06)" text-anchor="middle">Frequency [kHz]</text>
<text transform="translate(12.6,140.3) rotate(-90) scale(1,1.06)" text-anchor="middle">Amplitude</text>
<g>
<rect x="540" y="8" width="105" height="71.8" fill="#fff" stroke="#4a4a4a" stroke-width="1.2"/>
<line x1="549.8" y1="20.35" x2="573.0" y2="20.35" stroke="#0000ff" stroke-width="2.0"/>
<line x1="549.8" y1="42.85" x2="573.0" y2="42.85" stroke="#ff0000" stroke-width="2.0"/>
<line x1="549.8" y1="65.05" x2="573.0" y2="65.05" stroke="#008000" stroke-width="2.0"/>
<text transform="translate(589.3,25.6) scale(1,1.06)">No FB</text>
<text transform="translate(589.3,48.2) scale(1,1.06)">g=144</text>
<text transform="translate(589.3,70.6) scale(1,1.06)">g=577</text>
</g>
<text x="619.8" y="112.6" text-anchor="middle" font-size="16.4">Weak</text>
<text x="604.1" y="133" text-anchor="middle" font-size="16.4">coupling</text>
</svg>
</body></html>
